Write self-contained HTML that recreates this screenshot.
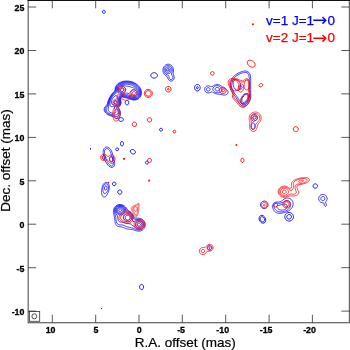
<!DOCTYPE html>
<html><head><meta charset="utf-8"><title>SiO maser contour map</title>
<style>
html,body{margin:0;padding:0;background:#fff;}
svg{display:block;font-family:"Liberation Sans",sans-serif;}
.tk text{font-size:9.2px;font-weight:bold;fill:#000;stroke:#000;stroke-width:0.3px;}
.ax{font-size:13.5px;fill:#000;stroke:#000;stroke-width:0.2px;}
.lg{font-size:13.5px;stroke-width:0.25px;}
.ar{font-family:"DejaVu Sans",sans-serif;font-size:18px;stroke-width:0;}
</style></head><body>
<svg width="350" height="350" viewBox="0 0 350 350">
<rect width="350" height="350" fill="#fff"/>
<g fill="none" stroke="#00f" stroke-width="0.75">
<path d="M166.93 64.38C167.22 64.3 167.52 64.24 167.82 64.21C168.11 64.19 168.42 64.19 168.71 64.23C169.01 64.26 169.31 64.32 169.59 64.41C169.88 64.5 170.16 64.61 170.42 64.75C170.69 64.89 170.94 65.06 171.18 65.24C171.41 65.42 171.64 65.62 171.84 65.84C172.05 66.06 172.24 66.3 172.4 66.54C172.57 66.79 172.72 67.05 172.85 67.32C172.98 67.59 173.09 67.87 173.19 68.16C173.28 68.44 173.35 68.74 173.4 69.03C173.45 69.32 173.49 69.62 173.5 69.92C173.52 70.22 173.51 70.52 173.49 70.82C173.47 71.12 173.43 71.42 173.38 71.71C173.34 72.01 173.28 72.3 173.24 72.6C173.2 72.9 173.15 73.2 173.16 73.5C173.17 73.79 173.22 74.09 173.29 74.38C173.36 74.67 173.49 74.95 173.6 75.23C173.7 75.51 173.82 75.78 173.91 76.07C174 76.36 174.07 76.65 174.12 76.94C174.16 77.24 174.18 77.54 174.17 77.84C174.15 78.14 174.11 78.44 174.03 78.73C173.94 79.01 173.83 79.3 173.68 79.55C173.53 79.81 173.35 80.06 173.14 80.27C172.92 80.47 172.67 80.66 172.41 80.79C172.15 80.93 171.85 81.02 171.56 81.07C171.27 81.11 170.95 81.11 170.66 81.05C170.37 81 170.08 80.89 169.82 80.76C169.56 80.62 169.31 80.43 169.09 80.23C168.88 80.03 168.69 79.79 168.52 79.54C168.35 79.3 168.21 79.02 168.08 78.76C167.95 78.49 167.85 78.2 167.73 77.93C167.61 77.65 167.51 77.36 167.36 77.11C167.2 76.86 167.01 76.62 166.8 76.41C166.59 76.2 166.33 76.04 166.09 75.85C165.85 75.67 165.6 75.51 165.37 75.32C165.14 75.13 164.91 74.93 164.7 74.72C164.49 74.5 164.29 74.27 164.12 74.03C163.94 73.79 163.78 73.53 163.64 73.27C163.51 73 163.38 72.73 163.28 72.45C163.18 72.17 163.1 71.87 163.04 71.58C162.98 71.29 162.94 70.99 162.92 70.69C162.89 70.39 162.89 70.09 162.91 69.79C162.93 69.49 162.96 69.19 163.02 68.9C163.08 68.61 163.16 68.32 163.26 68.03C163.35 67.75 163.47 67.47 163.61 67.21C163.74 66.94 163.9 66.68 164.07 66.44C164.25 66.19 164.44 65.96 164.65 65.75C164.86 65.53 165.08 65.34 165.33 65.16C165.57 64.98 165.83 64.82 166.09 64.69C166.36 64.56 166.65 64.45 166.93 64.38Z"/>
<path d="M124.82 81.12C125.11 81.09 125.41 81.06 125.71 81.04C126.01 81.02 126.31 81.01 126.61 81.01C126.91 81 127.21 81.01 127.51 81.02C127.81 81.04 128.11 81.06 128.41 81.09C128.7 81.12 129 81.15 129.3 81.19C129.6 81.24 129.89 81.29 130.18 81.35C130.48 81.41 130.77 81.47 131.06 81.55C131.35 81.62 131.64 81.7 131.93 81.79C132.21 81.88 132.5 81.98 132.78 82.09C133.06 82.19 133.34 82.3 133.61 82.42C133.88 82.54 134.16 82.67 134.42 82.8C134.69 82.94 134.95 83.08 135.21 83.23C135.47 83.38 135.73 83.54 135.98 83.71C136.23 83.87 136.47 84.04 136.71 84.22C136.95 84.4 137.19 84.59 137.42 84.78C137.64 84.98 137.87 85.18 138.08 85.39C138.3 85.6 138.51 85.81 138.71 86.03C138.91 86.25 139.11 86.48 139.29 86.72C139.48 86.95 139.66 87.19 139.82 87.44C139.99 87.69 140.15 87.94 140.3 88.2C140.44 88.47 140.58 88.73 140.7 89.01C140.82 89.28 140.94 89.56 141.03 89.84C141.13 90.12 141.21 90.41 141.28 90.71C141.35 91 141.4 91.29 141.43 91.59C141.47 91.89 141.49 92.19 141.5 92.49C141.5 92.79 141.49 93.09 141.46 93.39C141.43 93.68 141.38 93.98 141.32 94.27C141.25 94.57 141.17 94.86 141.08 95.14C140.98 95.42 140.87 95.7 140.74 95.97C140.61 96.24 140.46 96.5 140.3 96.76C140.14 97.01 139.96 97.25 139.77 97.48C139.58 97.71 139.37 97.93 139.15 98.14C138.93 98.34 138.7 98.53 138.46 98.71C138.22 98.88 137.96 99.05 137.7 99.19C137.44 99.33 137.17 99.46 136.89 99.57C136.61 99.68 136.32 99.77 136.03 99.85C135.74 99.92 135.45 99.98 135.15 100.02C134.86 100.06 134.55 100.07 134.25 100.07C133.96 100.07 133.65 100.06 133.36 100.02C133.06 99.98 132.77 99.92 132.47 99.85C132.18 99.78 131.9 99.7 131.61 99.6C131.33 99.51 131.05 99.4 130.77 99.29C130.49 99.18 130.22 99.05 129.94 98.94C129.66 98.83 129.39 98.71 129.1 98.61C128.82 98.52 128.53 98.43 128.24 98.36C127.95 98.28 127.66 98.23 127.36 98.17C127.07 98.11 126.77 98.06 126.48 98C126.19 97.94 125.89 97.89 125.6 97.82C125.31 97.76 125.01 97.69 124.72 97.62C124.43 97.54 124.14 97.47 123.85 97.39C123.56 97.32 123.27 97.23 122.98 97.17C122.69 97.1 122.38 96.98 122.1 97.01C121.82 97.03 121.5 97.13 121.29 97.32C121.08 97.5 120.97 97.82 120.86 98.1C120.75 98.37 120.67 98.67 120.63 98.97C120.58 99.26 120.57 99.57 120.6 99.86C120.62 100.16 120.71 100.45 120.78 100.74C120.84 101.03 120.93 101.32 120.98 101.62C121.02 101.91 121.06 102.21 121.06 102.51C121.06 102.81 121.04 103.11 121 103.41C120.95 103.7 120.88 104 120.78 104.28C120.68 104.56 120.56 104.84 120.41 105.1C120.27 105.36 120.1 105.61 119.92 105.85C119.74 106.09 119.53 106.31 119.34 106.54C119.15 106.77 118.88 106.98 118.78 107.24C118.68 107.5 118.67 107.82 118.73 108.1C118.79 108.37 119.02 108.62 119.17 108.88C119.31 109.14 119.48 109.39 119.62 109.65C119.77 109.92 119.9 110.19 120.01 110.46C120.13 110.74 120.22 111.03 120.3 111.31C120.38 111.6 120.45 111.9 120.49 112.19C120.54 112.49 120.56 112.79 120.57 113.09C120.58 113.39 120.58 113.69 120.56 113.99C120.54 114.29 120.5 114.58 120.44 114.88C120.38 115.17 120.31 115.46 120.2 115.74C120.1 116.03 119.98 116.31 119.84 116.56C119.69 116.82 119.52 117.08 119.32 117.3C119.13 117.52 118.9 117.73 118.66 117.9C118.41 118.07 118.14 118.22 117.86 118.32C117.59 118.42 117.28 118.48 116.99 118.5C116.69 118.52 116.38 118.5 116.09 118.43C115.8 118.37 115.52 118.26 115.25 118.13C114.98 118.01 114.73 117.84 114.48 117.68C114.22 117.52 113.99 117.33 113.73 117.17C113.48 117.01 113.22 116.85 112.96 116.71C112.69 116.58 112.42 116.46 112.14 116.34C111.86 116.23 111.58 116.13 111.3 116.03C111.02 115.93 110.73 115.84 110.45 115.74C110.17 115.64 109.88 115.54 109.61 115.42C109.33 115.31 109.05 115.2 108.78 115.07C108.51 114.94 108.24 114.81 107.98 114.66C107.72 114.52 107.46 114.36 107.21 114.19C106.97 114.02 106.72 113.84 106.49 113.65C106.26 113.46 106.04 113.26 105.84 113.04C105.63 112.83 105.43 112.6 105.25 112.36C105.07 112.12 104.9 111.87 104.76 111.61C104.62 111.34 104.49 111.07 104.39 110.79C104.3 110.5 104.22 110.21 104.18 109.92C104.13 109.62 104.12 109.32 104.14 109.02C104.16 108.72 104.22 108.42 104.3 108.14C104.39 107.85 104.52 107.58 104.67 107.32C104.81 107.06 105 106.82 105.19 106.59C105.38 106.36 105.61 106.16 105.83 105.96C106.04 105.75 106.29 105.57 106.49 105.35C106.69 105.13 106.89 104.9 107.05 104.64C107.2 104.39 107.31 104.1 107.41 103.82C107.51 103.54 107.57 103.25 107.65 102.96C107.73 102.67 107.79 102.38 107.87 102.09C107.95 101.8 108.03 101.51 108.12 101.22C108.21 100.94 108.3 100.65 108.4 100.37C108.5 100.09 108.61 99.81 108.72 99.53C108.83 99.25 108.95 98.98 109.08 98.7C109.2 98.43 109.32 98.16 109.46 97.89C109.59 97.62 109.74 97.36 109.88 97.1C110.03 96.84 110.17 96.57 110.33 96.32C110.48 96.06 110.64 95.8 110.8 95.55C110.96 95.3 111.13 95.05 111.3 94.81C111.48 94.56 111.66 94.32 111.84 94.09C112.02 93.85 112.21 93.61 112.4 93.39C112.59 93.16 112.79 92.93 112.99 92.71C113.19 92.48 113.4 92.27 113.6 92.05C113.81 91.83 114.03 91.62 114.21 91.39C114.4 91.15 114.59 90.92 114.73 90.65C114.86 90.39 114.94 90.09 115.01 89.8C115.08 89.51 115.1 89.21 115.14 88.91C115.19 88.62 115.22 88.32 115.28 88.03C115.35 87.73 115.42 87.44 115.52 87.16C115.62 86.88 115.74 86.6 115.87 86.33C116 86.06 116.15 85.8 116.31 85.55C116.47 85.3 116.66 85.06 116.85 84.83C117.04 84.6 117.25 84.38 117.47 84.18C117.68 83.97 117.92 83.78 118.15 83.6C118.39 83.41 118.64 83.24 118.89 83.08C119.14 82.92 119.41 82.78 119.67 82.64C119.94 82.5 120.21 82.37 120.48 82.25C120.76 82.13 121.04 82.03 121.32 81.93C121.6 81.83 121.89 81.74 122.18 81.65C122.46 81.57 122.75 81.49 123.05 81.42C123.34 81.36 123.63 81.3 123.93 81.25C124.22 81.2 124.52 81.16 124.82 81.12Z"/>
<path d="M216.22 84.62C216.52 84.58 216.82 84.54 217.12 84.54C217.42 84.53 217.72 84.56 218.02 84.59C218.32 84.63 218.61 84.69 218.9 84.77C219.19 84.85 219.48 84.96 219.75 85.07C220.03 85.19 220.3 85.33 220.56 85.48C220.82 85.63 221.07 85.79 221.31 85.97C221.56 86.14 221.79 86.33 222.02 86.52C222.26 86.71 222.48 86.91 222.71 87.1C222.94 87.3 223.17 87.5 223.41 87.68C223.65 87.86 223.89 88.03 224.15 88.19C224.4 88.34 224.68 88.48 224.94 88.61C225.21 88.75 225.49 88.86 225.76 89C226.02 89.14 226.29 89.28 226.54 89.44C226.79 89.61 227.03 89.8 227.24 90.01C227.44 90.23 227.64 90.47 227.77 90.73C227.91 90.99 228.02 91.29 228.07 91.58C228.12 91.87 228.11 92.19 228.06 92.48C228 92.76 227.88 93.06 227.74 93.31C227.59 93.57 227.39 93.81 227.17 94.01C226.96 94.22 226.7 94.39 226.44 94.53C226.18 94.68 225.89 94.79 225.61 94.87C225.32 94.95 225.02 95 224.72 95.03C224.42 95.05 224.12 95.04 223.82 95.02C223.52 95 223.22 94.95 222.93 94.89C222.63 94.83 222.34 94.76 222.05 94.69C221.76 94.62 221.47 94.55 221.17 94.5C220.87 94.44 220.58 94.4 220.28 94.36C219.98 94.33 219.68 94.31 219.38 94.29C219.08 94.26 218.78 94.25 218.48 94.22C218.18 94.19 217.88 94.16 217.59 94.12C217.29 94.08 216.99 94.03 216.7 93.96C216.41 93.9 216.11 93.82 215.83 93.73C215.54 93.64 215.26 93.53 214.99 93.41C214.71 93.29 214.44 93.15 214.18 93.01C213.91 92.87 213.66 92.71 213.39 92.56C213.13 92.42 212.87 92.25 212.59 92.15C212.31 92.05 212.01 91.97 211.72 91.98C211.43 91.99 211.13 92.1 210.85 92.19C210.56 92.28 210.29 92.43 210.01 92.53C209.73 92.63 209.45 92.74 209.15 92.8C208.86 92.87 208.56 92.91 208.26 92.92C207.96 92.92 207.66 92.9 207.37 92.83C207.08 92.76 206.79 92.66 206.52 92.52C206.26 92.39 206 92.21 205.78 92.02C205.56 91.82 205.35 91.59 205.19 91.34C205.02 91.09 204.89 90.82 204.79 90.54C204.69 90.25 204.63 89.95 204.61 89.65C204.59 89.36 204.61 89.05 204.66 88.76C204.72 88.47 204.81 88.17 204.94 87.9C205.06 87.63 205.23 87.37 205.42 87.15C205.61 86.92 205.84 86.71 206.08 86.54C206.33 86.37 206.6 86.22 206.88 86.11C207.15 86.01 207.45 85.94 207.75 85.9C208.05 85.87 208.35 85.87 208.65 85.9C208.95 85.93 209.24 86 209.53 86.07C209.82 86.15 210.1 86.27 210.39 86.35C210.68 86.43 210.97 86.55 211.26 86.57C211.55 86.59 211.87 86.56 212.15 86.47C212.43 86.39 212.69 86.21 212.95 86.07C213.21 85.92 213.46 85.75 213.72 85.6C213.98 85.45 214.24 85.3 214.51 85.17C214.78 85.04 215.06 84.93 215.35 84.83C215.63 84.74 215.93 84.67 216.22 84.62Z"/>
<path d="M253.24 114.62C253.52 114.51 253.83 114.43 254.13 114.41C254.43 114.38 254.75 114.4 255.04 114.46C255.34 114.53 255.63 114.64 255.89 114.79C256.16 114.94 256.4 115.14 256.61 115.36C256.81 115.59 256.99 115.85 257.12 116.12C257.25 116.39 257.34 116.7 257.38 117C257.42 117.3 257.42 117.62 257.37 117.91C257.33 118.21 257.23 118.51 257.1 118.79C256.97 119.06 256.8 119.32 256.61 119.56C256.42 119.79 256.19 120.01 255.95 120.2C255.72 120.39 255.46 120.56 255.2 120.72C254.93 120.87 254.66 121.03 254.37 121.12C254.09 121.22 253.76 121.34 253.49 121.29C253.21 121.24 252.95 121.01 252.72 120.81C252.5 120.61 252.32 120.35 252.15 120.09C251.99 119.84 251.83 119.57 251.71 119.29C251.59 119.01 251.48 118.72 251.42 118.42C251.35 118.13 251.32 117.81 251.32 117.51C251.33 117.21 251.37 116.9 251.46 116.61C251.55 116.32 251.68 116.03 251.85 115.78C252.02 115.53 252.23 115.29 252.46 115.1C252.69 114.9 252.96 114.74 253.24 114.62Z"/>
<path d="M252.55 122.88C252.8 122.77 253.15 122.71 253.4 122.8C253.65 122.89 253.85 123.19 254.03 123.43C254.21 123.66 254.35 123.94 254.47 124.21C254.59 124.48 254.68 124.77 254.75 125.06C254.82 125.35 254.87 125.65 254.89 125.95C254.91 126.25 254.9 126.55 254.87 126.85C254.84 127.14 254.78 127.44 254.69 127.73C254.6 128.01 254.48 128.3 254.32 128.55C254.16 128.79 253.96 129.05 253.72 129.21C253.48 129.37 253.17 129.5 252.89 129.5C252.61 129.5 252.29 129.36 252.06 129.2C251.82 129.03 251.63 128.77 251.47 128.53C251.31 128.28 251.2 127.99 251.11 127.71C251.02 127.42 250.96 127.12 250.93 126.83C250.9 126.53 250.89 126.23 250.91 125.93C250.94 125.63 250.98 125.33 251.06 125.04C251.14 124.75 251.24 124.46 251.37 124.2C251.51 123.93 251.67 123.67 251.86 123.45C252.06 123.23 252.29 122.98 252.55 122.88Z"/>
<path d="M105.19 182.62C105.46 182.51 105.77 182.43 106.06 182.41C106.35 182.4 106.67 182.44 106.95 182.53C107.22 182.63 107.49 182.79 107.72 182.98C107.96 183.16 108.16 183.39 108.34 183.63C108.51 183.87 108.65 184.14 108.78 184.42C108.9 184.69 108.99 184.98 109.07 185.27C109.15 185.56 109.21 185.85 109.25 186.15C109.29 186.45 109.31 186.75 109.31 187.05C109.32 187.35 109.31 187.65 109.29 187.95C109.27 188.25 109.23 188.55 109.18 188.84C109.13 189.14 109.07 189.43 109 189.72C108.93 190.02 108.85 190.31 108.76 190.59C108.67 190.88 108.57 191.16 108.47 191.45C108.37 191.73 108.25 192.01 108.14 192.29C108.03 192.56 107.91 192.84 107.79 193.12C107.68 193.39 107.56 193.67 107.43 193.94C107.3 194.21 107.18 194.49 107.04 194.75C106.9 195.02 106.76 195.29 106.6 195.54C106.43 195.79 106.26 196.04 106.05 196.25C105.85 196.47 105.62 196.68 105.36 196.82C105.1 196.96 104.8 197.08 104.51 197.1C104.22 197.13 103.9 197.08 103.63 196.97C103.36 196.87 103.1 196.68 102.88 196.48C102.67 196.27 102.49 196.02 102.34 195.76C102.18 195.51 102.07 195.23 101.97 194.94C101.87 194.66 101.8 194.37 101.74 194.07C101.68 193.78 101.65 193.48 101.62 193.18C101.6 192.88 101.59 192.58 101.59 192.28C101.58 191.98 101.59 191.68 101.6 191.38C101.61 191.08 101.63 190.78 101.65 190.48C101.67 190.18 101.69 189.88 101.72 189.58C101.76 189.28 101.79 188.98 101.84 188.69C101.88 188.39 101.93 188.09 101.99 187.8C102.05 187.51 102.12 187.21 102.2 186.92C102.28 186.63 102.37 186.35 102.47 186.06C102.57 185.78 102.69 185.5 102.82 185.23C102.94 184.96 103.09 184.7 103.25 184.44C103.41 184.19 103.58 183.94 103.78 183.72C103.97 183.49 104.19 183.27 104.42 183.09C104.66 182.91 104.92 182.74 105.19 182.62Z"/>
<path d="M321.55 194.62C321.83 194.53 322.14 194.46 322.43 194.43C322.73 194.39 323.04 194.39 323.34 194.42C323.64 194.46 323.95 194.52 324.23 194.62C324.52 194.71 324.8 194.84 325.06 195C325.31 195.15 325.56 195.34 325.78 195.55C326 195.75 326.2 195.99 326.37 196.24C326.54 196.49 326.69 196.76 326.8 197.04C326.91 197.32 326.99 197.62 327.04 197.91C327.09 198.21 327.11 198.52 327.09 198.82C327.08 199.12 327.03 199.43 326.95 199.72C326.87 200.01 326.75 200.29 326.62 200.57C326.49 200.84 326.31 201.09 326.15 201.34C325.99 201.6 325.75 201.84 325.65 202.11C325.56 202.38 325.5 202.69 325.57 202.97C325.64 203.24 325.93 203.46 326.06 203.73C326.2 204 326.33 204.29 326.38 204.58C326.42 204.87 326.42 205.21 326.33 205.48C326.24 205.75 326.05 206.09 325.83 206.21C325.6 206.34 325.21 206.35 324.97 206.24C324.73 206.13 324.52 205.82 324.39 205.56C324.26 205.3 324.23 204.98 324.2 204.68C324.17 204.38 324.28 204.04 324.21 203.77C324.15 203.5 324.02 203.19 323.8 203.04C323.59 202.89 323.21 202.91 322.91 202.86C322.62 202.8 322.31 202.78 322.02 202.71C321.72 202.64 321.43 202.55 321.15 202.42C320.88 202.29 320.61 202.14 320.37 201.96C320.13 201.77 319.91 201.56 319.71 201.33C319.52 201.1 319.34 200.85 319.2 200.58C319.06 200.32 318.94 200.03 318.86 199.74C318.78 199.45 318.72 199.14 318.71 198.84C318.69 198.54 318.7 198.23 318.75 197.94C318.8 197.64 318.88 197.34 318.99 197.06C319.1 196.78 319.25 196.51 319.42 196.26C319.59 196.01 319.79 195.77 320 195.56C320.22 195.35 320.47 195.17 320.72 195.01C320.98 194.85 321.26 194.72 321.55 194.62Z"/>
<path d="M286.28 198.12C286.57 198.06 286.87 198.02 287.17 198C287.47 197.98 287.77 197.99 288.07 198.02C288.37 198.05 288.67 198.11 288.95 198.19C289.24 198.27 289.53 198.37 289.8 198.5C290.07 198.62 290.34 198.77 290.59 198.94C290.83 199.11 291.07 199.3 291.29 199.5C291.51 199.71 291.71 199.94 291.89 200.17C292.07 200.41 292.24 200.67 292.38 200.93C292.52 201.19 292.64 201.47 292.74 201.75C292.84 202.04 292.92 202.33 292.98 202.62C293.03 202.92 293.07 203.22 293.08 203.52C293.09 203.82 293.08 204.12 293.05 204.42C293.03 204.72 292.98 205.02 292.91 205.31C292.85 205.6 292.76 205.89 292.66 206.18C292.56 206.46 292.44 206.74 292.31 207.01C292.18 207.28 292.03 207.54 291.87 207.79C291.71 208.05 291.53 208.29 291.35 208.53C291.16 208.76 290.96 208.99 290.75 209.2C290.54 209.42 290.32 209.62 290.09 209.82C289.86 210.01 289.62 210.19 289.37 210.37C289.13 210.54 288.87 210.7 288.62 210.86C288.36 211.01 288.09 211.15 287.82 211.29C287.56 211.42 287.28 211.55 287.01 211.67C286.73 211.79 286.45 211.9 286.17 212C285.89 212.11 285.6 212.2 285.32 212.3C285.03 212.39 284.74 212.47 284.45 212.55C284.16 212.64 283.87 212.71 283.58 212.78C283.29 212.85 282.99 212.92 282.7 212.98C282.4 213.03 282.11 213.09 281.81 213.13C281.51 213.18 281.21 213.22 280.92 213.25C280.62 213.28 280.32 213.3 280.02 213.31C279.72 213.32 279.41 213.32 279.11 213.3C278.81 213.28 278.51 213.26 278.22 213.21C277.92 213.16 277.62 213.1 277.34 213.02C277.05 212.94 276.76 212.84 276.48 212.73C276.21 212.61 275.94 212.47 275.68 212.31C275.43 212.16 275.18 211.98 274.95 211.78C274.73 211.59 274.51 211.37 274.32 211.15C274.12 210.92 273.95 210.67 273.79 210.41C273.63 210.16 273.5 209.89 273.37 209.62C273.25 209.34 273.14 209.06 273.05 208.78C272.95 208.49 272.87 208.2 272.8 207.91C272.74 207.61 272.69 207.32 272.65 207.02C272.62 206.72 272.6 206.42 272.61 206.12C272.62 205.82 272.65 205.52 272.71 205.22C272.78 204.93 272.86 204.64 272.98 204.36C273.1 204.09 273.26 203.82 273.44 203.59C273.62 203.35 273.83 203.13 274.06 202.94C274.29 202.75 274.55 202.58 274.82 202.45C275.09 202.32 275.38 202.23 275.67 202.16C275.96 202.09 276.26 202.06 276.56 202.04C276.86 202.02 277.16 202.03 277.46 202.03C277.76 202.04 278.06 202.07 278.36 202.06C278.66 202.06 278.97 202.05 279.26 202C279.56 201.96 279.85 201.89 280.14 201.79C280.42 201.69 280.7 201.56 280.96 201.42C281.22 201.28 281.48 201.11 281.72 200.94C281.97 200.77 282.2 200.58 282.44 200.39C282.67 200.2 282.89 200 283.13 199.81C283.36 199.62 283.59 199.43 283.84 199.26C284.08 199.08 284.34 198.91 284.6 198.77C284.86 198.62 285.13 198.49 285.41 198.38C285.69 198.28 285.98 198.19 286.28 198.12Z"/>
<path d="M118.82 204.62C119.12 204.57 119.41 204.53 119.71 204.51C120.01 204.49 120.31 204.5 120.61 204.52C120.9 204.55 121.2 204.6 121.49 204.66C121.78 204.72 122.07 204.8 122.36 204.9C122.64 205 122.92 205.11 123.18 205.25C123.45 205.38 123.71 205.53 123.96 205.7C124.21 205.86 124.45 206.04 124.68 206.23C124.91 206.42 125.12 206.63 125.33 206.84C125.54 207.06 125.74 207.28 125.93 207.51C126.12 207.74 126.3 207.98 126.48 208.22C126.66 208.46 126.83 208.7 127.01 208.94C127.19 209.18 127.37 209.42 127.55 209.65C127.74 209.89 127.93 210.12 128.14 210.33C128.35 210.55 128.57 210.75 128.8 210.94C129.03 211.13 129.27 211.31 129.51 211.49C129.75 211.67 130 211.83 130.24 212.01C130.48 212.19 130.72 212.36 130.96 212.55C131.19 212.74 131.42 212.93 131.63 213.14C131.85 213.34 132.06 213.56 132.25 213.79C132.44 214.01 132.62 214.25 132.79 214.5C132.96 214.75 133.11 215 133.26 215.26C133.41 215.52 133.53 215.8 133.67 216.06C133.8 216.33 133.92 216.61 134.08 216.86C134.24 217.11 134.4 217.38 134.62 217.57C134.84 217.76 135.13 217.89 135.41 217.98C135.69 218.08 135.99 218.1 136.29 218.13C136.59 218.16 136.89 218.16 137.19 218.18C137.49 218.19 137.78 218.19 138.08 218.21C138.38 218.23 138.68 218.25 138.98 218.28C139.27 218.32 139.57 218.36 139.86 218.42C140.15 218.48 140.45 218.56 140.73 218.65C141.01 218.74 141.29 218.85 141.56 218.98C141.83 219.1 142.1 219.25 142.35 219.41C142.6 219.57 142.84 219.75 143.07 219.94C143.3 220.14 143.51 220.35 143.71 220.57C143.91 220.79 144.09 221.03 144.25 221.28C144.42 221.53 144.57 221.79 144.69 222.06C144.82 222.33 144.93 222.61 145.02 222.9C145.11 223.18 145.18 223.48 145.22 223.77C145.27 224.06 145.3 224.36 145.3 224.66C145.31 224.96 145.29 225.26 145.26 225.56C145.22 225.85 145.16 226.15 145.08 226.44C145 226.72 144.9 227.01 144.78 227.28C144.66 227.55 144.52 227.82 144.37 228.08C144.21 228.33 144.04 228.57 143.85 228.8C143.65 229.03 143.45 229.25 143.22 229.45C143 229.65 142.77 229.84 142.52 230C142.27 230.17 142.01 230.32 141.74 230.45C141.48 230.58 141.2 230.7 140.91 230.79C140.63 230.88 140.34 230.96 140.05 231.01C139.75 231.07 139.45 231.1 139.16 231.11C138.86 231.13 138.56 231.12 138.26 231.1C137.96 231.09 137.66 231.05 137.37 231C137.07 230.95 136.78 230.88 136.49 230.81C136.2 230.73 135.92 230.65 135.63 230.56C135.35 230.47 135.06 230.38 134.78 230.29C134.49 230.2 134.21 230.1 133.92 230.02C133.63 229.94 133.35 229.86 133.06 229.78C132.77 229.71 132.47 229.65 132.18 229.59C131.89 229.53 131.59 229.48 131.3 229.44C131 229.39 130.7 229.36 130.41 229.32C130.11 229.29 129.81 229.26 129.52 229.23C129.22 229.2 128.92 229.17 128.62 229.13C128.33 229.1 128.03 229.06 127.73 229.02C127.44 228.97 127.15 228.91 126.85 228.84C126.56 228.77 126.28 228.69 125.99 228.6C125.71 228.51 125.43 228.4 125.15 228.29C124.87 228.18 124.61 228.04 124.33 227.92C124.06 227.79 123.8 227.66 123.52 227.54C123.25 227.42 122.97 227.3 122.69 227.2C122.41 227.11 122.12 227.03 121.82 226.98C121.53 226.92 121.23 226.9 120.93 226.87C120.64 226.84 120.34 226.84 120.04 226.81C119.74 226.78 119.44 226.76 119.15 226.71C118.85 226.66 118.56 226.59 118.28 226.49C118 226.4 117.72 226.27 117.46 226.13C117.21 225.98 116.96 225.8 116.74 225.6C116.51 225.4 116.31 225.18 116.13 224.94C115.95 224.71 115.79 224.45 115.65 224.19C115.51 223.92 115.4 223.64 115.3 223.36C115.2 223.08 115.13 222.79 115.07 222.5C115 222.2 114.96 221.91 114.92 221.61C114.88 221.32 114.86 221.02 114.83 220.72C114.8 220.42 114.78 220.12 114.76 219.83C114.73 219.53 114.71 219.23 114.67 218.93C114.64 218.64 114.6 218.34 114.55 218.04C114.51 217.75 114.45 217.45 114.4 217.16C114.34 216.87 114.28 216.58 114.21 216.28C114.15 215.99 114.09 215.7 114.02 215.41C113.96 215.11 113.9 214.82 113.85 214.53C113.79 214.23 113.73 213.94 113.69 213.64C113.64 213.35 113.6 213.05 113.57 212.76C113.54 212.46 113.51 212.16 113.5 211.86C113.49 211.56 113.48 211.26 113.5 210.97C113.52 210.67 113.55 210.37 113.6 210.07C113.65 209.78 113.71 209.49 113.79 209.2C113.87 208.91 113.97 208.63 114.09 208.36C114.21 208.08 114.35 207.82 114.51 207.56C114.66 207.31 114.84 207.06 115.02 206.83C115.21 206.6 115.42 206.38 115.64 206.18C115.86 205.98 116.1 205.8 116.35 205.63C116.6 205.46 116.86 205.31 117.12 205.18C117.39 205.05 117.67 204.94 117.95 204.84C118.24 204.75 118.53 204.68 118.82 204.62Z"/>
<path d="M208.96 245.88C209.23 245.8 209.54 245.78 209.83 245.83C210.11 245.87 210.4 245.98 210.64 246.14C210.88 246.29 211.1 246.52 211.26 246.76C211.41 247 211.53 247.29 211.57 247.57C211.62 247.85 211.6 248.17 211.53 248.44C211.45 248.72 211.31 249 211.13 249.22C210.95 249.44 210.71 249.64 210.45 249.77C210.2 249.9 209.9 249.98 209.61 250C209.33 250.01 209.02 249.96 208.75 249.86C208.49 249.76 208.22 249.59 208.02 249.39C207.82 249.19 207.64 248.92 207.54 248.65C207.44 248.39 207.39 248.08 207.41 247.79C207.42 247.51 207.5 247.2 207.63 246.95C207.76 246.7 207.96 246.45 208.18 246.27C208.4 246.09 208.68 245.95 208.96 245.88Z"/>
<path d="M167.39 65.62C167.68 65.56 167.98 65.53 168.28 65.53C168.57 65.54 168.88 65.58 169.16 65.66C169.45 65.74 169.73 65.86 169.99 66C170.25 66.14 170.5 66.32 170.72 66.51C170.95 66.71 171.15 66.93 171.33 67.16C171.51 67.4 171.67 67.66 171.8 67.93C171.93 68.19 172.04 68.48 172.12 68.76C172.2 69.05 172.26 69.34 172.3 69.64C172.33 69.94 172.34 70.24 172.32 70.53C172.31 70.83 172.27 71.13 172.21 71.42C172.16 71.72 172.07 72 171.99 72.29C171.9 72.58 171.79 72.85 171.7 73.14C171.62 73.43 171.49 73.72 171.47 74C171.45 74.29 171.49 74.61 171.6 74.88C171.7 75.14 171.94 75.36 172.11 75.61C172.28 75.86 172.47 76.09 172.6 76.36C172.72 76.63 172.84 76.91 172.89 77.2C172.94 77.49 172.95 77.81 172.9 78.1C172.84 78.38 172.73 78.68 172.57 78.92C172.41 79.16 172.17 79.39 171.92 79.53C171.67 79.66 171.34 79.74 171.06 79.72C170.78 79.71 170.47 79.59 170.22 79.44C169.98 79.29 169.76 79.05 169.59 78.81C169.43 78.57 169.32 78.28 169.23 78C169.13 77.72 169.1 77.42 169.05 77.12C169 76.83 169.02 76.51 168.91 76.24C168.81 75.97 168.63 75.71 168.42 75.51C168.21 75.32 167.9 75.22 167.64 75.08C167.37 74.94 167.09 74.84 166.83 74.69C166.57 74.55 166.31 74.4 166.07 74.22C165.83 74.05 165.6 73.85 165.4 73.63C165.19 73.41 165.01 73.17 164.85 72.92C164.69 72.67 164.55 72.4 164.44 72.13C164.33 71.85 164.25 71.56 164.19 71.27C164.13 70.98 164.09 70.68 164.08 70.38C164.07 70.08 164.09 69.78 164.13 69.49C164.17 69.19 164.23 68.9 164.32 68.61C164.41 68.33 164.53 68.05 164.67 67.79C164.81 67.53 164.98 67.27 165.16 67.04C165.35 66.81 165.57 66.6 165.8 66.41C166.03 66.22 166.28 66.06 166.55 65.93C166.81 65.79 167.1 65.69 167.39 65.62Z"/>
<path d="M125.8 81.62C126.1 81.61 126.4 81.59 126.7 81.59C127 81.59 127.3 81.59 127.6 81.61C127.9 81.62 128.2 81.64 128.5 81.67C128.8 81.7 129.1 81.74 129.4 81.79C129.69 81.83 129.99 81.89 130.28 81.95C130.58 82.02 130.87 82.09 131.16 82.17C131.45 82.25 131.74 82.34 132.02 82.44C132.31 82.53 132.59 82.63 132.87 82.75C133.15 82.86 133.42 82.98 133.69 83.11C133.97 83.24 134.23 83.38 134.5 83.53C134.76 83.67 135.02 83.82 135.27 83.99C135.53 84.15 135.78 84.32 136.02 84.49C136.26 84.67 136.5 84.85 136.74 85.04C136.97 85.23 137.2 85.43 137.42 85.63C137.64 85.84 137.86 86.05 138.06 86.27C138.27 86.48 138.47 86.71 138.67 86.94C138.86 87.17 139.05 87.4 139.22 87.65C139.4 87.89 139.57 88.14 139.72 88.4C139.87 88.66 140.01 88.93 140.14 89.2C140.27 89.47 140.39 89.75 140.49 90.03C140.59 90.31 140.68 90.6 140.74 90.9C140.81 91.19 140.86 91.49 140.89 91.79C140.93 92.09 140.95 92.39 140.95 92.69C140.95 92.99 140.92 93.29 140.88 93.59C140.84 93.88 140.79 94.18 140.72 94.47C140.64 94.76 140.55 95.05 140.43 95.33C140.32 95.61 140.19 95.88 140.04 96.14C139.9 96.4 139.73 96.66 139.55 96.9C139.37 97.14 139.17 97.36 138.95 97.58C138.74 97.79 138.52 97.99 138.28 98.17C138.04 98.36 137.79 98.52 137.53 98.67C137.26 98.82 136.99 98.95 136.71 99.06C136.43 99.17 136.15 99.27 135.85 99.34C135.56 99.41 135.27 99.47 134.97 99.5C134.67 99.53 134.37 99.54 134.07 99.54C133.77 99.53 133.46 99.5 133.17 99.45C132.87 99.41 132.57 99.34 132.28 99.26C131.99 99.19 131.71 99.09 131.43 98.98C131.15 98.88 130.87 98.75 130.59 98.64C130.32 98.52 130.04 98.4 129.76 98.29C129.48 98.18 129.2 98.07 128.91 97.97C128.63 97.88 128.34 97.81 128.05 97.74C127.75 97.66 127.46 97.61 127.16 97.55C126.87 97.49 126.57 97.43 126.28 97.37C125.98 97.32 125.69 97.26 125.39 97.19C125.1 97.13 124.81 97.06 124.51 96.99C124.22 96.92 123.93 96.84 123.64 96.77C123.34 96.7 123.05 96.62 122.76 96.56C122.46 96.51 122.15 96.41 121.86 96.44C121.58 96.48 121.27 96.59 121.06 96.78C120.85 96.97 120.74 97.29 120.62 97.56C120.5 97.84 120.42 98.13 120.35 98.42C120.28 98.72 120.21 99.01 120.19 99.31C120.17 99.61 120.19 99.91 120.23 100.21C120.26 100.51 120.35 100.8 120.41 101.1C120.46 101.39 120.54 101.68 120.57 101.98C120.6 102.28 120.61 102.59 120.59 102.88C120.57 103.18 120.53 103.49 120.45 103.77C120.38 104.06 120.27 104.35 120.14 104.62C120.01 104.89 119.86 105.15 119.68 105.4C119.51 105.64 119.3 105.87 119.1 106.08C118.89 106.3 118.65 106.48 118.43 106.69C118.22 106.9 117.92 107.09 117.82 107.35C117.71 107.6 117.75 107.94 117.83 108.21C117.9 108.48 118.13 108.73 118.28 108.99C118.43 109.25 118.6 109.5 118.74 109.76C118.88 110.03 119.01 110.31 119.11 110.59C119.21 110.87 119.3 111.16 119.36 111.45C119.42 111.75 119.46 112.05 119.48 112.35C119.49 112.65 119.49 112.95 119.46 113.25C119.43 113.55 119.38 113.85 119.3 114.14C119.22 114.43 119.12 114.72 118.99 114.99C118.86 115.25 118.71 115.52 118.52 115.75C118.33 115.98 118.11 116.21 117.87 116.37C117.62 116.53 117.32 116.65 117.04 116.71C116.75 116.77 116.43 116.77 116.14 116.74C115.84 116.72 115.55 116.62 115.26 116.54C114.97 116.46 114.69 116.36 114.4 116.26C114.12 116.17 113.83 116.07 113.54 115.98C113.26 115.89 112.97 115.8 112.68 115.72C112.39 115.63 112.1 115.56 111.81 115.47C111.52 115.39 111.23 115.31 110.95 115.22C110.66 115.13 110.37 115.03 110.09 114.93C109.81 114.83 109.53 114.71 109.25 114.59C108.98 114.47 108.71 114.33 108.45 114.19C108.18 114.04 107.93 113.88 107.68 113.71C107.43 113.54 107.19 113.36 106.96 113.16C106.74 112.96 106.52 112.75 106.32 112.53C106.12 112.3 105.94 112.06 105.77 111.81C105.61 111.56 105.46 111.29 105.35 111.02C105.23 110.74 105.13 110.45 105.07 110.16C105.02 109.87 104.99 109.56 105 109.26C105.01 108.97 105.07 108.66 105.15 108.38C105.24 108.09 105.37 107.81 105.52 107.55C105.67 107.3 105.86 107.06 106.05 106.83C106.24 106.59 106.47 106.39 106.66 106.16C106.86 105.93 107.06 105.71 107.22 105.46C107.39 105.2 107.52 104.93 107.64 104.65C107.75 104.38 107.82 104.08 107.89 103.79C107.96 103.5 108.02 103.2 108.08 102.91C108.15 102.61 108.21 102.32 108.28 102.03C108.36 101.73 108.44 101.44 108.53 101.16C108.61 100.87 108.71 100.58 108.81 100.3C108.92 100.02 109.03 99.74 109.14 99.46C109.25 99.18 109.37 98.9 109.49 98.63C109.62 98.36 109.76 98.09 109.9 97.82C110.03 97.55 110.17 97.29 110.32 97.03C110.47 96.76 110.62 96.5 110.78 96.25C110.94 95.99 111.1 95.74 111.27 95.49C111.44 95.24 111.61 95 111.79 94.75C111.97 94.51 112.15 94.27 112.34 94.04C112.53 93.81 112.73 93.58 112.93 93.35C113.13 93.13 113.34 92.91 113.55 92.69C113.76 92.48 113.97 92.27 114.18 92.05C114.39 91.84 114.62 91.63 114.8 91.4C114.99 91.16 115.17 90.91 115.29 90.64C115.42 90.37 115.47 90.07 115.54 89.78C115.6 89.49 115.62 89.18 115.67 88.89C115.72 88.59 115.77 88.29 115.85 88C115.92 87.71 116.01 87.42 116.12 87.14C116.23 86.86 116.36 86.59 116.5 86.32C116.65 86.06 116.82 85.81 116.99 85.57C117.17 85.33 117.37 85.1 117.58 84.88C117.79 84.66 118.01 84.46 118.24 84.27C118.47 84.08 118.72 83.9 118.97 83.73C119.22 83.57 119.48 83.41 119.74 83.27C120.01 83.13 120.28 83 120.55 82.88C120.83 82.75 121.11 82.64 121.39 82.54C121.67 82.43 121.96 82.34 122.25 82.26C122.54 82.17 122.83 82.09 123.12 82.02C123.41 81.95 123.71 81.89 124 81.84C124.3 81.79 124.6 81.74 124.9 81.7C125.19 81.67 125.5 81.64 125.8 81.62Z"/>
<path d="M215.78 85.88C216.06 85.78 216.36 85.72 216.65 85.68C216.94 85.65 217.24 85.64 217.54 85.66C217.83 85.68 218.13 85.73 218.41 85.81C218.69 85.88 218.98 85.99 219.24 86.11C219.51 86.24 219.76 86.4 220 86.57C220.24 86.74 220.47 86.94 220.67 87.15C220.88 87.36 221.07 87.59 221.24 87.83C221.41 88.07 221.56 88.33 221.68 88.6C221.8 88.87 221.91 89.15 221.97 89.44C222.03 89.72 222.08 90.03 222.05 90.32C222.02 90.6 221.93 90.91 221.79 91.16C221.64 91.41 221.42 91.63 221.2 91.81C220.97 92 220.7 92.14 220.44 92.27C220.18 92.4 219.89 92.51 219.61 92.59C219.33 92.67 219.04 92.73 218.74 92.78C218.45 92.82 218.16 92.84 217.86 92.84C217.57 92.84 217.27 92.82 216.98 92.78C216.68 92.74 216.39 92.67 216.11 92.59C215.83 92.5 215.55 92.39 215.29 92.25C215.03 92.12 214.77 91.97 214.53 91.79C214.29 91.62 214.06 91.43 213.85 91.22C213.65 91.01 213.44 90.79 213.28 90.55C213.11 90.31 212.94 90.04 212.86 89.77C212.77 89.49 212.73 89.18 212.77 88.9C212.81 88.62 212.96 88.33 213.1 88.08C213.23 87.82 213.42 87.58 213.61 87.35C213.8 87.13 214.02 86.92 214.24 86.73C214.47 86.55 214.72 86.37 214.97 86.23C215.23 86.09 215.51 85.97 215.78 85.88Z"/>
<path d="M207.35 87.88C207.6 87.74 207.91 87.68 208.19 87.67C208.48 87.67 208.78 87.74 209.04 87.85C209.31 87.96 209.57 88.13 209.77 88.34C209.96 88.54 210.16 88.81 210.22 89.07C210.28 89.34 210.23 89.67 210.12 89.92C210.01 90.18 209.79 90.42 209.57 90.6C209.36 90.79 209.08 90.94 208.81 91.02C208.54 91.11 208.23 91.14 207.95 91.11C207.67 91.07 207.37 90.95 207.14 90.79C206.91 90.63 206.7 90.38 206.58 90.13C206.46 89.88 206.4 89.55 206.42 89.28C206.44 89 206.55 88.69 206.7 88.46C206.86 88.22 207.1 88.01 207.35 87.88Z"/>
<path d="M253.84 115.88C254.1 115.78 254.43 115.76 254.71 115.81C254.98 115.87 255.28 116.02 255.49 116.21C255.7 116.4 255.87 116.68 255.96 116.95C256.04 117.21 256.05 117.54 255.99 117.82C255.93 118.1 255.78 118.39 255.59 118.6C255.41 118.82 255.14 119.01 254.88 119.11C254.62 119.21 254.28 119.25 254.01 119.2C253.74 119.14 253.44 118.98 253.24 118.79C253.04 118.6 252.87 118.31 252.79 118.04C252.71 117.77 252.69 117.44 252.74 117.17C252.8 116.89 252.93 116.59 253.12 116.37C253.3 116.16 253.57 115.97 253.84 115.88Z"/>
<path d="M105.4 183.88C105.68 183.78 106 183.72 106.29 183.75C106.57 183.79 106.88 183.91 107.12 184.08C107.36 184.24 107.57 184.49 107.74 184.73C107.91 184.97 108.03 185.26 108.14 185.54C108.24 185.82 108.31 186.12 108.36 186.41C108.4 186.71 108.42 187.01 108.43 187.31C108.43 187.61 108.41 187.92 108.37 188.22C108.34 188.51 108.28 188.81 108.21 189.1C108.14 189.4 108.05 189.69 107.95 189.97C107.84 190.25 107.72 190.53 107.59 190.8C107.46 191.07 107.31 191.33 107.14 191.59C106.98 191.84 106.81 192.09 106.61 192.32C106.42 192.54 106.21 192.77 105.98 192.96C105.74 193.14 105.48 193.34 105.2 193.41C104.93 193.48 104.58 193.49 104.32 193.39C104.07 193.28 103.84 193.02 103.66 192.79C103.48 192.55 103.37 192.26 103.26 191.98C103.15 191.7 103.08 191.4 103.02 191.11C102.96 190.82 102.92 190.52 102.89 190.22C102.86 189.92 102.84 189.61 102.84 189.31C102.84 189.01 102.86 188.71 102.89 188.41C102.92 188.11 102.96 187.81 103.02 187.52C103.08 187.22 103.15 186.93 103.24 186.64C103.34 186.36 103.45 186.07 103.58 185.8C103.71 185.53 103.86 185.27 104.04 185.02C104.21 184.78 104.41 184.54 104.64 184.35C104.86 184.16 105.13 183.97 105.4 183.88Z"/>
<path d="M322.22 196.62C322.49 196.53 322.8 196.5 323.08 196.52C323.36 196.54 323.67 196.64 323.91 196.77C324.16 196.91 324.4 197.12 324.57 197.34C324.74 197.57 324.87 197.85 324.94 198.13C325 198.41 325 198.72 324.95 199C324.89 199.28 324.77 199.57 324.61 199.8C324.45 200.03 324.22 200.25 323.98 200.39C323.73 200.54 323.44 200.64 323.16 200.68C322.87 200.71 322.56 200.68 322.29 200.6C322.02 200.51 321.74 200.36 321.53 200.18C321.32 199.99 321.13 199.74 321.01 199.48C320.89 199.23 320.82 198.92 320.81 198.64C320.81 198.35 320.87 198.05 320.98 197.79C321.09 197.52 321.27 197.27 321.48 197.07C321.68 196.88 321.95 196.72 322.22 196.62Z"/>
<path d="M285.94 200.88C286.22 200.79 286.52 200.71 286.81 200.68C287.11 200.64 287.42 200.64 287.71 200.68C288 200.71 288.3 200.79 288.58 200.91C288.85 201.02 289.11 201.18 289.34 201.37C289.57 201.55 289.78 201.78 289.95 202.02C290.13 202.26 290.27 202.53 290.38 202.81C290.49 203.08 290.57 203.38 290.62 203.67C290.67 203.97 290.68 204.27 290.68 204.57C290.67 204.87 290.64 205.17 290.59 205.46C290.54 205.75 290.46 206.05 290.37 206.33C290.28 206.61 290.16 206.89 290.03 207.16C289.9 207.43 289.74 207.69 289.57 207.93C289.41 208.18 289.22 208.42 289.02 208.64C288.82 208.86 288.61 209.07 288.38 209.27C288.16 209.47 287.92 209.65 287.67 209.82C287.43 209.99 287.17 210.15 286.91 210.3C286.65 210.44 286.38 210.58 286.11 210.7C285.84 210.82 285.56 210.93 285.28 211.04C284.99 211.14 284.71 211.23 284.42 211.31C284.13 211.4 283.84 211.47 283.55 211.54C283.26 211.6 282.97 211.66 282.67 211.7C282.37 211.75 282.08 211.79 281.78 211.82C281.48 211.84 281.18 211.86 280.88 211.87C280.58 211.87 280.28 211.87 279.98 211.84C279.69 211.82 279.39 211.79 279.09 211.74C278.8 211.68 278.51 211.61 278.22 211.52C277.94 211.43 277.66 211.32 277.39 211.19C277.12 211.06 276.86 210.9 276.62 210.73C276.38 210.55 276.15 210.36 275.93 210.15C275.72 209.94 275.52 209.71 275.33 209.48C275.15 209.24 274.98 209 274.82 208.74C274.66 208.49 274.51 208.23 274.39 207.96C274.26 207.68 274.15 207.4 274.07 207.12C273.99 206.83 273.93 206.53 273.91 206.23C273.89 205.94 273.9 205.63 273.97 205.34C274.03 205.05 274.14 204.76 274.29 204.51C274.44 204.26 274.65 204.02 274.87 203.83C275.1 203.65 275.38 203.5 275.66 203.4C275.93 203.3 276.24 203.25 276.54 203.23C276.83 203.2 277.13 203.22 277.43 203.24C277.73 203.25 278.03 203.3 278.33 203.31C278.63 203.33 278.93 203.34 279.23 203.32C279.52 203.31 279.82 203.26 280.11 203.2C280.41 203.15 280.7 203.06 280.98 202.97C281.27 202.89 281.55 202.79 281.83 202.68C282.11 202.58 282.39 202.47 282.67 202.35C282.94 202.23 283.21 202.11 283.48 201.98C283.76 201.85 284.02 201.72 284.29 201.59C284.56 201.46 284.83 201.32 285.1 201.2C285.38 201.08 285.65 200.96 285.94 200.88Z"/>
<path d="M119.33 205.12C119.63 205.09 119.93 205.06 120.23 205.07C120.53 205.07 120.83 205.1 121.13 205.15C121.42 205.2 121.72 205.27 122 205.36C122.29 205.45 122.57 205.56 122.84 205.7C123.11 205.83 123.37 205.98 123.62 206.15C123.87 206.32 124.1 206.51 124.33 206.71C124.55 206.91 124.76 207.13 124.95 207.36C125.15 207.59 125.33 207.83 125.5 208.08C125.66 208.33 125.82 208.59 125.96 208.85C126.11 209.11 126.23 209.39 126.38 209.65C126.52 209.92 126.66 210.19 126.83 210.43C127.01 210.68 127.2 210.91 127.42 211.12C127.64 211.32 127.9 211.48 128.15 211.64C128.4 211.81 128.67 211.94 128.93 212.09C129.19 212.24 129.46 212.38 129.72 212.54C129.97 212.69 130.23 212.86 130.47 213.03C130.71 213.21 130.95 213.4 131.17 213.6C131.39 213.8 131.6 214.02 131.79 214.25C131.99 214.48 132.17 214.73 132.33 214.98C132.49 215.24 132.63 215.5 132.75 215.78C132.88 216.05 132.99 216.33 133.09 216.61C133.19 216.9 133.27 217.19 133.36 217.47C133.46 217.76 133.53 218.06 133.67 218.32C133.81 218.58 133.98 218.86 134.21 219.03C134.43 219.21 134.75 219.29 135.04 219.35C135.33 219.42 135.64 219.4 135.94 219.4C136.24 219.4 136.54 219.37 136.84 219.36C137.14 219.34 137.44 219.32 137.74 219.31C138.04 219.31 138.34 219.3 138.64 219.32C138.94 219.34 139.24 219.37 139.54 219.42C139.84 219.47 140.13 219.54 140.42 219.64C140.7 219.73 140.98 219.84 141.25 219.97C141.52 220.11 141.78 220.26 142.02 220.44C142.27 220.62 142.5 220.81 142.71 221.03C142.92 221.24 143.11 221.47 143.28 221.72C143.46 221.97 143.61 222.23 143.74 222.5C143.86 222.77 143.97 223.06 144.05 223.35C144.13 223.63 144.18 223.93 144.21 224.23C144.24 224.53 144.24 224.84 144.22 225.13C144.2 225.43 144.14 225.73 144.07 226.02C144 226.31 143.9 226.6 143.77 226.88C143.65 227.15 143.5 227.41 143.33 227.66C143.17 227.91 142.98 228.15 142.77 228.36C142.56 228.58 142.33 228.78 142.09 228.96C141.85 229.14 141.59 229.29 141.32 229.43C141.05 229.56 140.77 229.68 140.49 229.77C140.2 229.86 139.9 229.92 139.61 229.96C139.31 230 139.01 230.02 138.71 230.02C138.41 230.01 138.1 229.98 137.81 229.94C137.51 229.89 137.22 229.82 136.93 229.75C136.64 229.67 136.35 229.57 136.07 229.46C135.79 229.36 135.51 229.24 135.23 229.13C134.95 229.01 134.68 228.89 134.4 228.78C134.12 228.66 133.84 228.55 133.56 228.45C133.28 228.34 132.99 228.25 132.7 228.16C132.42 228.06 132.13 227.98 131.84 227.9C131.55 227.82 131.26 227.75 130.96 227.68C130.67 227.61 130.38 227.54 130.08 227.48C129.79 227.41 129.5 227.35 129.2 227.29C128.91 227.23 128.61 227.17 128.32 227.1C128.02 227.03 127.73 226.96 127.44 226.88C127.15 226.8 126.86 226.71 126.58 226.61C126.3 226.51 126.02 226.39 125.75 226.27C125.47 226.15 125.2 226.01 124.93 225.88C124.66 225.75 124.39 225.61 124.11 225.5C123.84 225.38 123.56 225.26 123.27 225.18C122.98 225.09 122.69 225.02 122.39 224.98C122.09 224.94 121.79 224.93 121.49 224.92C121.19 224.91 120.89 224.93 120.59 224.93C120.29 224.93 119.98 224.94 119.69 224.9C119.39 224.87 119.08 224.82 118.8 224.73C118.52 224.64 118.24 224.51 117.99 224.34C117.74 224.18 117.51 223.97 117.32 223.74C117.12 223.52 116.96 223.26 116.82 223C116.68 222.73 116.57 222.45 116.48 222.16C116.38 221.88 116.32 221.58 116.26 221.29C116.2 220.99 116.16 220.69 116.11 220.39C116.07 220.1 116.04 219.8 116 219.5C115.96 219.2 115.93 218.9 115.89 218.6C115.85 218.31 115.81 218.01 115.76 217.71C115.71 217.41 115.66 217.12 115.6 216.82C115.54 216.53 115.48 216.23 115.42 215.94C115.35 215.65 115.27 215.35 115.2 215.06C115.12 214.77 115.03 214.48 114.95 214.19C114.87 213.91 114.78 213.62 114.7 213.33C114.62 213.04 114.55 212.74 114.49 212.45C114.43 212.15 114.39 211.86 114.36 211.56C114.34 211.26 114.32 210.95 114.33 210.65C114.35 210.35 114.38 210.05 114.43 209.76C114.48 209.46 114.56 209.17 114.66 208.89C114.76 208.6 114.88 208.32 115.02 208.06C115.16 207.8 115.33 207.54 115.51 207.3C115.69 207.07 115.9 206.84 116.12 206.64C116.34 206.43 116.57 206.24 116.82 206.07C117.07 205.9 117.33 205.76 117.61 205.63C117.88 205.5 118.16 205.39 118.45 205.31C118.73 205.22 119.03 205.16 119.33 205.12Z"/>
<path d="M209.16 247.38C209.26 247.31 209.41 247.28 209.53 247.29C209.65 247.3 209.8 247.34 209.89 247.41C209.98 247.49 210.06 247.62 210.09 247.74C210.13 247.86 210.13 248.01 210.09 248.12C210.04 248.23 209.95 248.35 209.84 248.42C209.74 248.48 209.59 248.51 209.47 248.51C209.35 248.5 209.2 248.46 209.11 248.39C209.01 248.31 208.93 248.18 208.9 248.06C208.87 247.94 208.88 247.8 208.92 247.68C208.96 247.57 209.05 247.44 209.16 247.38Z"/>
<path d="M168.03 66.88C168.32 66.86 168.64 66.89 168.92 66.97C169.21 67.05 169.49 67.19 169.73 67.36C169.98 67.52 170.2 67.74 170.39 67.97C170.58 68.2 170.73 68.47 170.85 68.75C170.97 69.02 171.05 69.32 171.1 69.61C171.15 69.91 171.16 70.21 171.13 70.51C171.11 70.81 171.06 71.11 170.97 71.4C170.88 71.68 170.75 71.96 170.6 72.22C170.44 72.47 170.25 72.72 170.03 72.92C169.81 73.12 169.56 73.3 169.28 73.41C169.01 73.53 168.7 73.59 168.41 73.6C168.11 73.61 167.8 73.56 167.52 73.48C167.23 73.39 166.95 73.25 166.71 73.08C166.46 72.92 166.24 72.7 166.05 72.48C165.86 72.25 165.7 71.98 165.57 71.71C165.45 71.44 165.36 71.14 165.31 70.85C165.26 70.55 165.24 70.25 165.26 69.95C165.28 69.65 165.34 69.35 165.43 69.06C165.52 68.78 165.65 68.5 165.81 68.25C165.97 68 166.17 67.76 166.4 67.56C166.62 67.37 166.88 67.2 167.16 67.08C167.43 66.97 167.74 66.89 168.03 66.88Z"/>
<path d="M125.12 82.38C125.41 82.34 125.71 82.31 126.01 82.29C126.31 82.27 126.61 82.26 126.91 82.26C127.21 82.26 127.51 82.27 127.8 82.29C128.1 82.31 128.4 82.34 128.7 82.37C128.99 82.41 129.29 82.45 129.59 82.5C129.88 82.55 130.17 82.62 130.46 82.69C130.75 82.76 131.04 82.84 131.33 82.93C131.61 83.01 131.9 83.11 132.18 83.22C132.46 83.32 132.73 83.44 133 83.56C133.28 83.69 133.55 83.82 133.81 83.96C134.07 84.1 134.33 84.25 134.59 84.4C134.84 84.56 135.09 84.72 135.34 84.9C135.58 85.07 135.82 85.24 136.06 85.43C136.3 85.61 136.52 85.81 136.75 86C136.97 86.2 137.2 86.4 137.41 86.61C137.62 86.82 137.83 87.04 138.03 87.26C138.23 87.48 138.43 87.71 138.61 87.95C138.79 88.18 138.96 88.43 139.12 88.68C139.28 88.93 139.43 89.19 139.56 89.46C139.7 89.73 139.82 90 139.92 90.28C140.02 90.57 140.11 90.85 140.17 91.14C140.24 91.43 140.29 91.73 140.32 92.03C140.35 92.33 140.36 92.63 140.35 92.93C140.34 93.22 140.31 93.52 140.26 93.82C140.21 94.11 140.14 94.4 140.04 94.69C139.95 94.97 139.84 95.25 139.71 95.52C139.58 95.79 139.43 96.05 139.26 96.29C139.09 96.54 138.9 96.78 138.7 97C138.5 97.22 138.28 97.42 138.05 97.61C137.82 97.8 137.57 97.97 137.31 98.12C137.05 98.27 136.78 98.4 136.51 98.52C136.23 98.63 135.94 98.72 135.65 98.79C135.36 98.86 135.06 98.9 134.77 98.93C134.47 98.96 134.17 98.96 133.87 98.95C133.57 98.93 133.27 98.89 132.98 98.83C132.69 98.78 132.4 98.7 132.11 98.61C131.83 98.52 131.55 98.41 131.27 98.3C130.99 98.19 130.72 98.06 130.45 97.94C130.18 97.82 129.91 97.69 129.63 97.58C129.35 97.47 129.07 97.36 128.79 97.27C128.5 97.18 128.21 97.11 127.92 97.04C127.63 96.97 127.33 96.91 127.04 96.85C126.75 96.79 126.45 96.74 126.16 96.68C125.87 96.62 125.58 96.56 125.28 96.49C124.99 96.43 124.7 96.36 124.41 96.29C124.12 96.23 123.82 96.16 123.53 96.1C123.24 96.04 122.94 95.98 122.65 95.94C122.35 95.89 122.05 95.82 121.76 95.84C121.47 95.86 121.13 95.9 120.9 96.05C120.68 96.21 120.53 96.51 120.39 96.78C120.26 97.04 120.19 97.34 120.1 97.63C120.02 97.91 119.93 98.2 119.87 98.49C119.81 98.78 119.75 99.08 119.73 99.38C119.72 99.68 119.73 99.98 119.76 100.27C119.8 100.57 119.88 100.86 119.93 101.15C119.98 101.45 120.05 101.74 120.08 102.04C120.1 102.34 120.11 102.64 120.08 102.94C120.06 103.23 120 103.53 119.91 103.81C119.83 104.1 119.71 104.38 119.57 104.64C119.42 104.9 119.25 105.15 119.05 105.37C118.86 105.6 118.64 105.81 118.41 106C118.18 106.19 117.92 106.35 117.67 106.51C117.43 106.68 117.13 106.8 116.92 106.99C116.7 107.18 116.42 107.42 116.38 107.67C116.34 107.92 116.56 108.23 116.7 108.49C116.83 108.75 117.04 108.98 117.2 109.23C117.36 109.49 117.52 109.74 117.65 110.01C117.78 110.28 117.9 110.56 117.98 110.84C118.06 111.13 118.12 111.43 118.15 111.72C118.17 112.02 118.16 112.32 118.12 112.62C118.07 112.91 117.99 113.21 117.87 113.47C117.75 113.74 117.58 114.01 117.38 114.22C117.18 114.44 116.92 114.62 116.66 114.75C116.4 114.88 116.09 114.95 115.8 115C115.51 115.05 115.21 115.04 114.91 115.04C114.61 115.03 114.31 115 114.01 114.96C113.72 114.93 113.42 114.88 113.13 114.83C112.83 114.78 112.54 114.72 112.25 114.65C111.95 114.59 111.66 114.52 111.37 114.44C111.09 114.36 110.8 114.28 110.52 114.18C110.23 114.08 109.95 113.97 109.68 113.85C109.41 113.72 109.14 113.59 108.88 113.44C108.63 113.29 108.37 113.12 108.14 112.94C107.9 112.76 107.67 112.57 107.46 112.35C107.25 112.14 107.06 111.91 106.89 111.66C106.72 111.42 106.56 111.16 106.45 110.88C106.33 110.61 106.24 110.32 106.2 110.02C106.16 109.73 106.15 109.42 106.18 109.13C106.22 108.84 106.31 108.54 106.42 108.27C106.53 107.99 106.69 107.74 106.85 107.48C107 107.22 107.19 106.99 107.35 106.74C107.51 106.48 107.67 106.23 107.81 105.96C107.94 105.7 108.05 105.42 108.14 105.13C108.23 104.85 108.29 104.55 108.34 104.26C108.4 103.97 108.44 103.67 108.49 103.37C108.54 103.08 108.6 102.78 108.66 102.49C108.72 102.2 108.79 101.91 108.86 101.62C108.94 101.33 109.03 101.04 109.12 100.76C109.21 100.47 109.31 100.19 109.41 99.91C109.52 99.63 109.63 99.35 109.75 99.08C109.87 98.81 110 98.54 110.13 98.27C110.26 98 110.4 97.73 110.54 97.47C110.69 97.21 110.83 96.95 110.99 96.69C111.14 96.44 111.3 96.18 111.47 95.94C111.64 95.69 111.81 95.44 111.99 95.2C112.16 94.96 112.35 94.72 112.54 94.49C112.72 94.26 112.92 94.03 113.12 93.81C113.32 93.59 113.53 93.37 113.74 93.16C113.95 92.95 114.17 92.75 114.39 92.54C114.61 92.34 114.84 92.15 115.05 91.93C115.26 91.72 115.48 91.51 115.63 91.26C115.79 91 115.89 90.72 115.98 90.43C116.06 90.15 116.09 89.84 116.14 89.55C116.18 89.25 116.21 88.95 116.27 88.66C116.33 88.37 116.4 88.08 116.49 87.79C116.58 87.51 116.7 87.23 116.83 86.96C116.96 86.7 117.11 86.44 117.28 86.19C117.45 85.94 117.64 85.71 117.84 85.49C118.04 85.27 118.26 85.06 118.48 84.86C118.71 84.67 118.95 84.49 119.2 84.33C119.45 84.16 119.71 84.01 119.97 83.87C120.24 83.73 120.51 83.6 120.79 83.49C121.06 83.37 121.34 83.27 121.62 83.17C121.91 83.07 122.19 82.99 122.48 82.91C122.77 82.82 123.06 82.75 123.35 82.68C123.64 82.61 123.93 82.55 124.23 82.5C124.52 82.45 124.82 82.41 125.12 82.38Z"/>
<path d="M216.78 87.38C217.06 87.32 217.38 87.32 217.67 87.38C217.96 87.44 218.25 87.56 218.5 87.72C218.74 87.88 218.98 88.1 219.14 88.34C219.29 88.58 219.41 88.9 219.43 89.18C219.45 89.47 219.38 89.79 219.24 90.05C219.11 90.3 218.87 90.53 218.63 90.69C218.39 90.85 218.08 90.95 217.79 91C217.5 91.05 217.19 91.05 216.9 90.99C216.61 90.94 216.31 90.83 216.06 90.67C215.82 90.52 215.57 90.3 215.42 90.06C215.26 89.81 215.14 89.5 215.13 89.22C215.12 88.93 215.2 88.61 215.33 88.35C215.47 88.1 215.71 87.87 215.95 87.71C216.19 87.55 216.49 87.43 216.78 87.38Z"/>
<path d="M105.76 185.88C106.02 185.84 106.37 185.99 106.58 186.18C106.78 186.36 106.89 186.71 106.97 186.99C107.04 187.28 107.04 187.61 107.02 187.91C106.99 188.21 106.92 188.52 106.81 188.8C106.71 189.08 106.57 189.38 106.37 189.6C106.17 189.82 105.89 190.08 105.63 190.11C105.37 190.15 105.01 189.99 104.82 189.8C104.62 189.61 104.51 189.27 104.44 188.98C104.37 188.69 104.36 188.37 104.38 188.06C104.4 187.76 104.46 187.45 104.57 187.17C104.67 186.88 104.81 186.58 105 186.37C105.2 186.15 105.49 185.91 105.76 185.88Z"/>
<path d="M282.51 204.38C282.8 204.32 283.1 204.26 283.4 204.23C283.69 204.19 283.99 204.17 284.29 204.17C284.59 204.16 284.9 204.17 285.19 204.22C285.48 204.26 285.79 204.33 286.05 204.45C286.32 204.57 286.59 204.74 286.79 204.95C286.99 205.16 287.15 205.44 287.24 205.72C287.33 206 287.35 206.32 287.32 206.61C287.29 206.9 287.18 207.2 287.06 207.47C286.93 207.73 286.75 207.99 286.56 208.21C286.37 208.44 286.14 208.64 285.91 208.83C285.67 209.01 285.41 209.17 285.15 209.31C284.89 209.45 284.61 209.57 284.33 209.68C284.05 209.78 283.76 209.86 283.47 209.93C283.18 210 282.88 210.05 282.58 210.09C282.29 210.12 281.99 210.14 281.69 210.14C281.39 210.13 281.09 210.11 280.79 210.07C280.49 210.03 280.2 209.96 279.91 209.87C279.63 209.78 279.35 209.67 279.09 209.52C278.82 209.38 278.57 209.21 278.34 209.02C278.11 208.84 277.89 208.62 277.69 208.4C277.49 208.18 277.3 207.95 277.13 207.7C276.96 207.45 276.77 207.2 276.68 206.93C276.59 206.65 276.49 206.29 276.58 206.05C276.68 205.82 276.99 205.63 277.24 205.51C277.5 205.4 277.84 205.42 278.13 205.37C278.43 205.33 278.73 205.31 279.02 205.25C279.32 205.2 279.61 205.13 279.9 205.06C280.19 204.98 280.48 204.89 280.77 204.81C281.05 204.73 281.34 204.65 281.63 204.58C281.92 204.5 282.21 204.43 282.51 204.38Z"/>
<path d="M118.61 205.88C118.89 205.79 119.18 205.72 119.48 205.68C119.77 205.64 120.08 205.63 120.37 205.64C120.67 205.65 120.97 205.69 121.26 205.74C121.55 205.8 121.84 205.89 122.12 206C122.4 206.11 122.67 206.24 122.92 206.4C123.18 206.55 123.42 206.72 123.65 206.92C123.88 207.11 124.09 207.32 124.28 207.55C124.48 207.78 124.65 208.02 124.81 208.28C124.96 208.53 125.1 208.8 125.22 209.07C125.33 209.34 125.43 209.63 125.51 209.92C125.6 210.2 125.65 210.5 125.73 210.78C125.81 211.07 125.85 211.39 126 211.64C126.15 211.88 126.38 212.1 126.62 212.26C126.87 212.41 127.18 212.47 127.46 212.57C127.75 212.66 128.04 212.74 128.32 212.84C128.6 212.94 128.88 213.05 129.15 213.17C129.42 213.3 129.68 213.44 129.93 213.6C130.19 213.76 130.43 213.94 130.65 214.14C130.87 214.33 131.08 214.55 131.27 214.78C131.46 215.01 131.63 215.26 131.78 215.52C131.93 215.78 132.05 216.05 132.15 216.33C132.25 216.61 132.33 216.9 132.39 217.2C132.45 217.49 132.49 217.79 132.52 218.08C132.54 218.38 132.55 218.68 132.55 218.98C132.55 219.28 132.53 219.58 132.53 219.87C132.53 220.17 132.48 220.51 132.57 220.77C132.66 221.03 132.84 221.33 133.07 221.45C133.3 221.57 133.66 221.51 133.96 221.48C134.25 221.45 134.54 221.36 134.83 221.28C135.11 221.2 135.4 221.09 135.68 221C135.97 220.91 136.25 220.82 136.54 220.74C136.82 220.66 137.11 220.58 137.41 220.53C137.7 220.47 138 220.43 138.3 220.42C138.59 220.41 138.9 220.41 139.19 220.44C139.49 220.48 139.78 220.54 140.07 220.62C140.35 220.71 140.63 220.82 140.9 220.96C141.16 221.1 141.41 221.27 141.64 221.46C141.87 221.65 142.08 221.87 142.26 222.1C142.44 222.34 142.61 222.59 142.74 222.86C142.86 223.13 142.97 223.42 143.04 223.7C143.1 223.99 143.14 224.3 143.15 224.59C143.16 224.89 143.13 225.19 143.07 225.48C143.02 225.77 142.93 226.07 142.81 226.34C142.69 226.61 142.54 226.87 142.37 227.11C142.19 227.36 141.99 227.58 141.77 227.78C141.55 227.98 141.3 228.16 141.05 228.31C140.79 228.45 140.51 228.58 140.23 228.67C139.95 228.76 139.65 228.82 139.35 228.85C139.06 228.89 138.75 228.89 138.46 228.86C138.16 228.84 137.86 228.79 137.58 228.71C137.29 228.64 137.01 228.53 136.73 228.41C136.46 228.29 136.2 228.15 135.94 228C135.68 227.85 135.44 227.67 135.19 227.5C134.95 227.33 134.71 227.15 134.47 226.96C134.24 226.78 134 226.6 133.76 226.42C133.53 226.24 133.28 226.06 133.04 225.89C132.8 225.71 132.56 225.54 132.32 225.35C132.09 225.17 131.86 224.98 131.63 224.79C131.4 224.6 131.19 224.37 130.94 224.21C130.7 224.05 130.42 223.91 130.14 223.83C129.86 223.75 129.55 223.75 129.25 223.73C128.95 223.71 128.65 223.71 128.36 223.69C128.06 223.67 127.76 223.65 127.46 223.61C127.17 223.57 126.87 223.52 126.58 223.45C126.29 223.38 126.01 223.3 125.72 223.2C125.44 223.11 125.16 222.99 124.89 222.88C124.61 222.77 124.33 222.65 124.05 222.55C123.78 222.44 123.5 222.33 123.21 222.25C122.92 222.18 122.63 222.12 122.33 222.08C122.03 222.05 121.73 222.06 121.43 222.06C121.14 222.05 120.83 222.08 120.54 222.04C120.24 222.01 119.93 221.97 119.67 221.85C119.4 221.74 119.14 221.56 118.93 221.35C118.73 221.14 118.58 220.87 118.44 220.6C118.31 220.34 118.23 220.04 118.15 219.76C118.07 219.47 118.02 219.17 117.97 218.88C117.91 218.59 117.88 218.29 117.84 217.99C117.79 217.7 117.77 217.4 117.71 217.11C117.65 216.81 117.59 216.52 117.49 216.24C117.39 215.96 117.25 215.69 117.1 215.43C116.95 215.17 116.77 214.93 116.61 214.68C116.45 214.43 116.28 214.19 116.12 213.93C115.97 213.68 115.82 213.42 115.69 213.15C115.57 212.88 115.45 212.6 115.36 212.31C115.27 212.03 115.2 211.74 115.15 211.44C115.1 211.15 115.08 210.85 115.08 210.55C115.08 210.26 115.11 209.95 115.17 209.66C115.22 209.37 115.31 209.08 115.42 208.8C115.52 208.53 115.66 208.26 115.82 208C115.97 207.75 116.16 207.51 116.36 207.29C116.56 207.07 116.78 206.87 117.02 206.69C117.26 206.51 117.51 206.35 117.78 206.21C118.04 206.07 118.32 205.96 118.61 205.88Z"/>
<path d="M167.48 68.38C167.74 68.25 168.08 68.18 168.37 68.21C168.65 68.24 168.97 68.38 169.2 68.55C169.43 68.73 169.63 69 169.76 69.26C169.89 69.53 169.96 69.85 169.97 70.14C169.98 70.44 169.92 70.76 169.81 71.03C169.69 71.31 169.51 71.59 169.29 71.78C169.07 71.97 168.77 72.13 168.49 72.18C168.21 72.23 167.86 72.19 167.6 72.08C167.33 71.98 167.07 71.76 166.88 71.53C166.7 71.3 166.56 71 166.49 70.72C166.42 70.43 166.41 70.1 166.47 69.81C166.52 69.52 166.64 69.21 166.81 68.97C166.98 68.73 167.22 68.5 167.48 68.38Z"/>
<path d="M126.1 83.12C126.4 83.11 126.71 83.09 127.01 83.09C127.31 83.09 127.61 83.11 127.91 83.13C128.21 83.14 128.51 83.17 128.81 83.21C129.1 83.25 129.4 83.3 129.7 83.36C129.99 83.42 130.28 83.49 130.57 83.57C130.86 83.65 131.15 83.74 131.44 83.84C131.72 83.94 132 84.05 132.28 84.17C132.55 84.29 132.82 84.42 133.09 84.56C133.36 84.69 133.62 84.84 133.88 84.99C134.14 85.15 134.39 85.31 134.64 85.48C134.89 85.64 135.14 85.82 135.38 86C135.62 86.18 135.86 86.36 136.1 86.55C136.33 86.74 136.56 86.93 136.78 87.13C137.01 87.33 137.23 87.54 137.44 87.76C137.65 87.97 137.85 88.19 138.04 88.43C138.23 88.66 138.41 88.9 138.58 89.15C138.74 89.41 138.89 89.67 139.02 89.94C139.16 90.21 139.27 90.49 139.37 90.77C139.46 91.06 139.54 91.35 139.59 91.64C139.65 91.94 139.68 92.24 139.69 92.54C139.7 92.84 139.69 93.14 139.65 93.44C139.61 93.74 139.56 94.04 139.48 94.33C139.39 94.61 139.29 94.9 139.16 95.17C139.03 95.44 138.88 95.71 138.71 95.95C138.54 96.2 138.35 96.44 138.14 96.65C137.93 96.87 137.7 97.07 137.46 97.24C137.22 97.42 136.96 97.58 136.69 97.72C136.43 97.86 136.15 97.97 135.86 98.06C135.57 98.15 135.28 98.22 134.98 98.26C134.68 98.3 134.38 98.32 134.08 98.31C133.78 98.3 133.48 98.27 133.18 98.22C132.89 98.17 132.59 98.09 132.31 98C132.02 97.91 131.74 97.8 131.46 97.68C131.19 97.57 130.92 97.43 130.64 97.3C130.37 97.17 130.11 97.03 129.83 96.9C129.56 96.78 129.29 96.65 129 96.55C128.72 96.45 128.43 96.36 128.14 96.28C127.85 96.2 127.56 96.14 127.26 96.07C126.97 96.01 126.67 95.95 126.38 95.89C126.08 95.84 125.79 95.78 125.49 95.72C125.2 95.66 124.9 95.6 124.61 95.55C124.31 95.5 124.01 95.46 123.71 95.42C123.42 95.37 123.12 95.34 122.82 95.3C122.52 95.27 122.22 95.22 121.92 95.2C121.62 95.18 121.3 95.13 121.02 95.2C120.74 95.26 120.43 95.39 120.24 95.59C120.04 95.79 119.95 96.12 119.84 96.4C119.74 96.68 119.68 96.98 119.61 97.27C119.54 97.56 119.46 97.85 119.4 98.15C119.33 98.44 119.27 98.74 119.23 99.04C119.2 99.33 119.18 99.64 119.2 99.94C119.21 100.24 119.27 100.53 119.32 100.83C119.37 101.13 119.44 101.42 119.48 101.72C119.52 102.02 119.55 102.32 119.54 102.62C119.53 102.92 119.48 103.22 119.41 103.51C119.33 103.8 119.22 104.08 119.07 104.35C118.93 104.61 118.75 104.86 118.55 105.08C118.34 105.3 118.11 105.49 117.86 105.66C117.62 105.84 117.35 105.98 117.08 106.1C116.8 106.23 116.52 106.32 116.23 106.42C115.95 106.52 115.65 106.59 115.38 106.7C115.1 106.82 114.78 106.93 114.59 107.13C114.4 107.34 114.24 107.66 114.24 107.93C114.24 108.2 114.44 108.5 114.59 108.75C114.74 109 114.98 109.21 115.16 109.45C115.34 109.69 115.53 109.93 115.66 110.2C115.8 110.47 115.92 110.76 115.96 111.05C116.01 111.34 116.01 111.67 115.93 111.94C115.84 112.21 115.66 112.49 115.45 112.69C115.23 112.88 114.93 113.01 114.65 113.09C114.37 113.18 114.06 113.2 113.76 113.22C113.46 113.23 113.15 113.21 112.86 113.17C112.56 113.14 112.26 113.09 111.97 113.02C111.68 112.95 111.38 112.87 111.1 112.77C110.82 112.66 110.54 112.55 110.27 112.41C110.01 112.27 109.75 112.11 109.51 111.93C109.27 111.75 109.04 111.54 108.85 111.32C108.66 111.09 108.48 110.83 108.36 110.56C108.23 110.3 108.14 110 108.11 109.7C108.07 109.41 108.09 109.1 108.12 108.8C108.16 108.51 108.25 108.21 108.32 107.92C108.4 107.63 108.5 107.35 108.58 107.06C108.67 106.77 108.75 106.48 108.81 106.18C108.87 105.89 108.92 105.59 108.96 105.29C109 105 109.02 104.69 109.04 104.39C109.07 104.1 109.09 103.79 109.12 103.5C109.15 103.2 109.19 102.9 109.23 102.6C109.28 102.3 109.34 102.01 109.41 101.72C109.48 101.42 109.56 101.13 109.65 100.84C109.74 100.56 109.83 100.27 109.94 99.99C110.04 99.71 110.15 99.43 110.27 99.15C110.39 98.88 110.52 98.6 110.66 98.34C110.79 98.07 110.93 97.8 111.08 97.54C111.23 97.27 111.38 97.02 111.54 96.76C111.7 96.51 111.87 96.26 112.04 96.01C112.21 95.76 112.39 95.52 112.58 95.28C112.76 95.05 112.96 94.82 113.16 94.59C113.36 94.37 113.56 94.14 113.77 93.93C113.99 93.72 114.21 93.52 114.44 93.32C114.66 93.12 114.9 92.93 115.13 92.74C115.36 92.55 115.62 92.38 115.83 92.17C116.03 91.95 116.24 91.72 116.37 91.45C116.5 91.19 116.56 90.88 116.61 90.59C116.67 90.29 116.67 89.99 116.71 89.69C116.75 89.39 116.79 89.09 116.85 88.8C116.91 88.5 116.99 88.21 117.08 87.93C117.18 87.64 117.31 87.37 117.45 87.1C117.59 86.84 117.76 86.58 117.94 86.35C118.12 86.11 118.33 85.89 118.55 85.68C118.76 85.47 119 85.28 119.24 85.1C119.48 84.93 119.74 84.77 120.01 84.63C120.27 84.49 120.55 84.36 120.82 84.24C121.1 84.13 121.39 84.03 121.67 83.94C121.96 83.85 122.25 83.77 122.54 83.7C122.83 83.63 123.13 83.56 123.42 83.5C123.72 83.44 124.01 83.39 124.31 83.34C124.61 83.29 124.91 83.24 125.2 83.21C125.5 83.17 125.8 83.14 126.1 83.12Z"/>
<path d="M119.1 206.38C119.39 206.3 119.69 206.26 119.99 206.24C120.29 206.23 120.59 206.25 120.89 206.29C121.18 206.34 121.48 206.41 121.76 206.51C122.04 206.62 122.32 206.75 122.57 206.9C122.83 207.06 123.07 207.24 123.29 207.44C123.51 207.65 123.72 207.87 123.89 208.12C124.07 208.36 124.22 208.62 124.35 208.89C124.47 209.16 124.56 209.46 124.63 209.75C124.7 210.04 124.74 210.34 124.76 210.64C124.77 210.94 124.75 211.24 124.7 211.54C124.66 211.83 124.6 212.13 124.5 212.41C124.41 212.7 124.3 212.99 124.15 213.24C123.99 213.5 123.8 213.74 123.58 213.94C123.36 214.14 123.09 214.29 122.82 214.42C122.56 214.56 122.27 214.66 121.98 214.75C121.7 214.84 121.4 214.91 121.11 214.95C120.81 215 120.51 215.02 120.21 215.01C119.91 214.99 119.61 214.95 119.32 214.87C119.03 214.8 118.74 214.7 118.47 214.57C118.2 214.44 117.94 214.28 117.7 214.1C117.46 213.92 117.24 213.72 117.03 213.5C116.83 213.28 116.64 213.04 116.49 212.78C116.33 212.53 116.19 212.26 116.08 211.98C115.98 211.7 115.9 211.4 115.85 211.11C115.81 210.81 115.79 210.51 115.81 210.21C115.83 209.91 115.88 209.61 115.96 209.32C116.04 209.03 116.16 208.75 116.31 208.49C116.45 208.23 116.62 207.98 116.82 207.75C117.02 207.53 117.24 207.32 117.48 207.14C117.72 206.96 117.98 206.8 118.25 206.67C118.52 206.55 118.81 206.45 119.1 206.38Z"/>
<path d="M126.29 213.88C126.58 213.82 126.89 213.79 127.19 213.79C127.48 213.79 127.79 213.82 128.08 213.88C128.37 213.94 128.66 214.02 128.94 214.14C129.21 214.25 129.48 214.39 129.73 214.56C129.97 214.73 130.21 214.93 130.41 215.14C130.61 215.36 130.8 215.61 130.95 215.86C131.1 216.12 131.22 216.4 131.31 216.68C131.4 216.97 131.46 217.27 131.48 217.56C131.51 217.86 131.5 218.16 131.46 218.46C131.42 218.75 131.35 219.05 131.25 219.33C131.14 219.61 131 219.88 130.84 220.13C130.67 220.37 130.46 220.6 130.24 220.8C130.01 220.99 129.76 221.16 129.49 221.29C129.23 221.42 128.93 221.52 128.64 221.59C128.35 221.65 128.05 221.68 127.75 221.68C127.45 221.67 127.15 221.64 126.86 221.57C126.57 221.51 126.28 221.41 126.01 221.29C125.74 221.16 125.48 221.01 125.23 220.84C124.99 220.67 124.76 220.47 124.56 220.25C124.35 220.03 124.16 219.79 124.01 219.54C123.85 219.29 123.72 219.01 123.63 218.73C123.54 218.45 123.47 218.14 123.45 217.85C123.43 217.55 123.45 217.25 123.49 216.95C123.54 216.66 123.61 216.36 123.71 216.08C123.81 215.8 123.93 215.52 124.09 215.27C124.24 215.02 124.44 214.77 124.66 214.58C124.88 214.39 125.16 214.24 125.43 214.13C125.7 214.01 126 213.93 126.29 213.88Z"/>
<path d="M138.16 221.62C138.45 221.57 138.76 221.55 139.06 221.57C139.36 221.6 139.66 221.66 139.94 221.76C140.22 221.86 140.5 222.01 140.74 222.18C140.98 222.36 141.21 222.58 141.39 222.81C141.57 223.05 141.72 223.33 141.82 223.6C141.92 223.88 141.99 224.19 142 224.49C142.02 224.79 141.99 225.1 141.92 225.39C141.84 225.68 141.72 225.96 141.56 226.22C141.41 226.47 141.21 226.71 140.99 226.91C140.76 227.11 140.5 227.28 140.23 227.41C139.96 227.53 139.66 227.62 139.37 227.66C139.07 227.71 138.76 227.71 138.46 227.67C138.17 227.63 137.87 227.54 137.59 227.43C137.32 227.31 137.05 227.16 136.81 226.98C136.57 226.8 136.34 226.59 136.15 226.35C135.96 226.12 135.79 225.86 135.67 225.59C135.55 225.32 135.46 225.02 135.43 224.72C135.4 224.43 135.42 224.11 135.5 223.82C135.58 223.54 135.73 223.26 135.9 223.02C136.07 222.77 136.29 222.55 136.52 222.36C136.76 222.18 137.02 222.02 137.3 221.9C137.57 221.77 137.86 221.68 138.16 221.62Z"/>
<path d="M167.91 69.62C168.02 69.56 168.17 69.53 168.29 69.55C168.4 69.57 168.54 69.65 168.62 69.74C168.7 69.83 168.76 69.97 168.78 70.09C168.8 70.21 168.78 70.36 168.73 70.47C168.68 70.58 168.58 70.7 168.48 70.76C168.38 70.83 168.23 70.88 168.11 70.86C168 70.84 167.86 70.75 167.78 70.66C167.7 70.57 167.65 70.43 167.63 70.31C167.61 70.19 167.62 70.04 167.67 69.92C167.72 69.81 167.81 69.69 167.91 69.62Z"/>
<path d="M124.49 84.38C124.79 84.35 125.09 84.32 125.39 84.29C125.69 84.27 125.98 84.24 126.28 84.23C126.58 84.22 126.88 84.21 127.18 84.21C127.48 84.22 127.78 84.23 128.08 84.25C128.38 84.28 128.67 84.32 128.97 84.36C129.26 84.41 129.56 84.47 129.85 84.54C130.14 84.61 130.43 84.7 130.71 84.79C131 84.89 131.28 84.99 131.55 85.11C131.83 85.22 132.1 85.35 132.37 85.48C132.64 85.61 132.9 85.76 133.16 85.9C133.42 86.05 133.68 86.2 133.94 86.36C134.19 86.51 134.45 86.67 134.7 86.83C134.95 86.99 135.2 87.15 135.45 87.32C135.7 87.49 135.94 87.66 136.18 87.85C136.42 88.03 136.65 88.22 136.87 88.42C137.09 88.63 137.3 88.84 137.49 89.07C137.68 89.3 137.87 89.54 138.03 89.79C138.19 90.04 138.34 90.3 138.46 90.57C138.59 90.84 138.69 91.13 138.77 91.42C138.85 91.7 138.9 92 138.93 92.3C138.95 92.6 138.96 92.9 138.93 93.2C138.91 93.49 138.86 93.79 138.78 94.08C138.7 94.37 138.59 94.65 138.46 94.92C138.33 95.19 138.17 95.45 137.99 95.68C137.82 95.92 137.61 96.15 137.39 96.35C137.17 96.55 136.93 96.73 136.68 96.89C136.42 97.04 136.15 97.18 135.87 97.28C135.59 97.38 135.3 97.46 135 97.51C134.71 97.56 134.41 97.58 134.11 97.58C133.81 97.57 133.51 97.54 133.22 97.49C132.92 97.43 132.63 97.35 132.35 97.25C132.07 97.15 131.79 97.03 131.52 96.9C131.25 96.77 130.99 96.62 130.73 96.48C130.47 96.33 130.22 96.17 129.96 96.03C129.69 95.88 129.43 95.73 129.16 95.6C128.89 95.48 128.61 95.36 128.33 95.27C128.05 95.17 127.76 95.09 127.47 95.02C127.18 94.95 126.88 94.89 126.59 94.84C126.29 94.79 126 94.74 125.7 94.7C125.4 94.67 125.1 94.64 124.81 94.62C124.51 94.61 124.21 94.61 123.91 94.6C123.61 94.59 123.31 94.59 123.01 94.58C122.71 94.56 122.41 94.55 122.11 94.52C121.82 94.5 121.52 94.46 121.22 94.43C120.92 94.41 120.61 94.35 120.32 94.39C120.03 94.42 119.68 94.47 119.48 94.64C119.28 94.82 119.18 95.16 119.1 95.44C119.01 95.72 119 96.03 118.96 96.32C118.91 96.62 118.87 96.92 118.82 97.21C118.77 97.51 118.71 97.8 118.66 98.1C118.61 98.39 118.56 98.69 118.54 98.99C118.52 99.28 118.52 99.59 118.54 99.88C118.57 100.18 118.63 100.48 118.67 100.77C118.72 101.07 118.8 101.36 118.83 101.66C118.86 101.95 118.9 102.25 118.88 102.55C118.86 102.85 118.82 103.15 118.73 103.43C118.64 103.72 118.51 103.99 118.35 104.24C118.18 104.49 117.97 104.71 117.75 104.91C117.52 105.1 117.26 105.25 116.99 105.38C116.72 105.51 116.43 105.61 116.15 105.69C115.86 105.77 115.56 105.81 115.27 105.86C114.97 105.91 114.67 105.95 114.38 106C114.09 106.06 113.79 106.12 113.5 106.2C113.22 106.28 112.94 106.39 112.65 106.48C112.37 106.57 112.08 106.72 111.79 106.73C111.51 106.74 111.17 106.69 110.94 106.54C110.72 106.38 110.56 106.07 110.44 105.81C110.31 105.54 110.25 105.24 110.19 104.95C110.12 104.66 110.08 104.36 110.06 104.06C110.03 103.76 110.02 103.46 110.03 103.16C110.03 102.86 110.06 102.56 110.1 102.27C110.14 101.97 110.19 101.68 110.26 101.38C110.32 101.09 110.41 100.8 110.5 100.52C110.59 100.23 110.69 99.95 110.8 99.67C110.91 99.4 111.03 99.12 111.16 98.85C111.29 98.58 111.43 98.31 111.57 98.05C111.71 97.79 111.87 97.53 112.03 97.28C112.18 97.02 112.35 96.77 112.52 96.53C112.7 96.29 112.88 96.05 113.07 95.82C113.26 95.59 113.46 95.36 113.66 95.14C113.87 94.93 114.08 94.72 114.31 94.52C114.53 94.32 114.76 94.13 115.01 93.96C115.25 93.78 115.51 93.62 115.76 93.47C116.01 93.31 116.3 93.2 116.54 93.02C116.77 92.84 117.03 92.64 117.16 92.39C117.29 92.14 117.3 91.81 117.33 91.51C117.36 91.22 117.34 90.91 117.35 90.61C117.35 90.31 117.35 90.01 117.38 89.72C117.41 89.42 117.44 89.12 117.5 88.83C117.57 88.54 117.66 88.25 117.77 87.97C117.88 87.7 118.02 87.43 118.18 87.17C118.34 86.92 118.53 86.68 118.73 86.47C118.93 86.25 119.16 86.05 119.4 85.86C119.63 85.68 119.89 85.52 120.15 85.38C120.41 85.24 120.69 85.12 120.97 85.01C121.25 84.91 121.54 84.82 121.83 84.75C122.12 84.68 122.41 84.63 122.71 84.58C123 84.53 123.3 84.5 123.6 84.46C123.9 84.43 124.2 84.4 124.49 84.38Z"/>
<path d="M118.97 207.12C119.25 207.03 119.56 206.96 119.85 206.93C120.15 206.91 120.46 206.92 120.75 206.96C121.05 207 121.34 207.08 121.62 207.19C121.9 207.3 122.17 207.45 122.41 207.63C122.65 207.8 122.88 208.01 123.07 208.24C123.26 208.46 123.43 208.72 123.56 208.99C123.68 209.26 123.78 209.55 123.84 209.84C123.89 210.13 123.91 210.44 123.89 210.74C123.86 211.04 123.8 211.34 123.7 211.62C123.6 211.9 123.46 212.17 123.28 212.41C123.11 212.66 122.9 212.88 122.67 213.07C122.44 213.26 122.18 213.42 121.91 213.55C121.64 213.68 121.35 213.78 121.06 213.84C120.77 213.9 120.46 213.93 120.16 213.93C119.87 213.92 119.56 213.88 119.27 213.8C118.99 213.72 118.7 213.61 118.44 213.47C118.18 213.32 117.93 213.14 117.71 212.94C117.49 212.74 117.29 212.51 117.13 212.26C116.97 212.01 116.83 211.73 116.74 211.45C116.64 211.16 116.59 210.86 116.57 210.56C116.56 210.27 116.58 209.96 116.65 209.67C116.71 209.38 116.82 209.09 116.96 208.83C117.09 208.56 117.27 208.31 117.47 208.09C117.68 207.87 117.91 207.67 118.16 207.51C118.41 207.35 118.69 207.22 118.97 207.12Z"/>
<path d="M126.76 215.38C127.03 215.26 127.35 215.2 127.65 215.19C127.95 215.18 128.26 215.24 128.54 215.34C128.82 215.44 129.1 215.6 129.33 215.79C129.56 215.98 129.76 216.23 129.91 216.49C130.06 216.75 130.16 217.05 130.21 217.34C130.25 217.64 130.24 217.96 130.17 218.25C130.11 218.54 129.98 218.84 129.82 219.08C129.65 219.33 129.42 219.56 129.17 219.72C128.92 219.88 128.63 220.01 128.34 220.07C128.04 220.13 127.72 220.14 127.43 220.09C127.13 220.04 126.83 219.93 126.57 219.78C126.32 219.64 126.07 219.43 125.88 219.2C125.69 218.97 125.53 218.69 125.43 218.41C125.34 218.13 125.29 217.81 125.3 217.51C125.31 217.22 125.38 216.9 125.5 216.63C125.61 216.35 125.79 216.09 126.01 215.88C126.22 215.67 126.49 215.49 126.76 215.38Z"/>
<path d="M138.63 223.12C138.91 223.08 139.24 223.12 139.49 223.22C139.75 223.32 140.01 223.53 140.18 223.75C140.34 223.97 140.45 224.29 140.46 224.56C140.47 224.84 140.39 225.16 140.24 225.4C140.1 225.64 139.85 225.86 139.6 225.98C139.35 226.1 139.03 226.15 138.75 226.12C138.47 226.09 138.17 225.96 137.95 225.79C137.73 225.62 137.53 225.36 137.44 225.1C137.34 224.84 137.33 224.5 137.4 224.23C137.47 223.97 137.65 223.69 137.85 223.5C138.06 223.32 138.36 223.17 138.63 223.12Z"/>
<path d="M122.12 85.62C122.41 85.59 122.71 85.57 123.01 85.57C123.3 85.57 123.6 85.6 123.9 85.63C124.19 85.67 124.49 85.72 124.78 85.77C125.08 85.82 125.37 85.88 125.66 85.94C125.95 85.99 126.25 86.04 126.54 86.08C126.83 86.13 127.13 86.16 127.43 86.2C127.72 86.24 128.02 86.27 128.31 86.31C128.61 86.36 128.9 86.41 129.19 86.48C129.48 86.55 129.77 86.63 130.05 86.72C130.34 86.8 130.62 86.9 130.9 87C131.18 87.09 131.46 87.19 131.75 87.28C132.03 87.38 132.31 87.46 132.6 87.55C132.88 87.64 133.17 87.73 133.45 87.83C133.73 87.92 134.01 88.02 134.29 88.13C134.57 88.24 134.84 88.36 135.1 88.49C135.37 88.63 135.63 88.78 135.87 88.95C136.12 89.12 136.35 89.31 136.57 89.51C136.78 89.72 136.98 89.94 137.16 90.18C137.34 90.42 137.5 90.67 137.63 90.94C137.76 91.21 137.86 91.49 137.93 91.78C138.01 92.06 138.05 92.36 138.06 92.66C138.07 92.95 138.05 93.26 138 93.55C137.94 93.84 137.85 94.13 137.73 94.4C137.61 94.67 137.46 94.93 137.28 95.17C137.1 95.4 136.89 95.63 136.67 95.81C136.44 96 136.18 96.17 135.92 96.3C135.66 96.43 135.37 96.53 135.08 96.6C134.79 96.67 134.49 96.71 134.2 96.71C133.9 96.71 133.6 96.68 133.31 96.62C133.02 96.56 132.73 96.47 132.46 96.36C132.18 96.25 131.91 96.11 131.66 95.96C131.4 95.81 131.16 95.64 130.92 95.46C130.68 95.28 130.45 95.09 130.22 94.9C129.99 94.71 129.77 94.51 129.54 94.32C129.31 94.14 129.08 93.94 128.83 93.78C128.58 93.61 128.33 93.45 128.05 93.34C127.78 93.23 127.49 93.14 127.2 93.1C126.91 93.06 126.6 93.08 126.31 93.11C126.01 93.14 125.72 93.21 125.43 93.28C125.14 93.34 124.85 93.42 124.56 93.49C124.27 93.55 123.98 93.61 123.68 93.66C123.39 93.7 123.09 93.73 122.79 93.74C122.5 93.75 122.2 93.75 121.9 93.72C121.61 93.69 121.31 93.64 121.02 93.58C120.73 93.52 120.44 93.45 120.16 93.34C119.88 93.23 119.6 93.11 119.36 92.94C119.13 92.77 118.91 92.55 118.74 92.31C118.57 92.07 118.45 91.78 118.36 91.5C118.26 91.22 118.2 90.93 118.16 90.63C118.12 90.34 118.11 90.04 118.13 89.74C118.15 89.44 118.18 89.14 118.25 88.86C118.33 88.57 118.43 88.29 118.56 88.02C118.7 87.76 118.86 87.5 119.04 87.27C119.23 87.04 119.44 86.82 119.67 86.64C119.9 86.45 120.16 86.28 120.42 86.15C120.68 86.01 120.96 85.9 121.24 85.81C121.53 85.72 121.82 85.66 122.12 85.62Z"/>
<path d="M115.85 95.62C116.13 95.6 116.48 95.64 116.7 95.79C116.92 95.94 117.06 96.26 117.16 96.53C117.26 96.79 117.27 97.11 117.3 97.4C117.33 97.7 117.33 98 117.36 98.29C117.39 98.58 117.42 98.88 117.47 99.17C117.52 99.46 117.6 99.75 117.67 100.04C117.73 100.33 117.82 100.61 117.89 100.9C117.95 101.19 118.02 101.48 118.05 101.77C118.08 102.07 118.1 102.37 118.06 102.66C118.02 102.95 117.93 103.25 117.8 103.5C117.67 103.76 117.48 104.01 117.27 104.21C117.05 104.41 116.79 104.57 116.52 104.69C116.26 104.81 115.96 104.89 115.67 104.94C115.38 104.99 115.08 105.01 114.79 105.01C114.49 105.01 114.19 104.99 113.9 104.94C113.61 104.89 113.31 104.84 113.04 104.73C112.77 104.62 112.49 104.48 112.27 104.3C112.05 104.11 111.86 103.86 111.73 103.6C111.6 103.34 111.52 103.04 111.48 102.75C111.43 102.46 111.43 102.16 111.45 101.86C111.47 101.57 111.53 101.28 111.6 100.99C111.66 100.7 111.76 100.42 111.86 100.14C111.96 99.86 112.08 99.59 112.22 99.33C112.35 99.06 112.49 98.8 112.64 98.55C112.8 98.29 112.96 98.05 113.14 97.81C113.31 97.57 113.5 97.34 113.69 97.11C113.89 96.89 114.1 96.68 114.32 96.48C114.54 96.29 114.78 96.1 115.03 95.96C115.29 95.81 115.58 95.65 115.85 95.62Z"/>
<path d="M119.35 207.88C119.63 207.79 119.94 207.74 120.23 207.75C120.52 207.75 120.82 207.8 121.1 207.89C121.37 207.98 121.65 208.12 121.88 208.29C122.12 208.46 122.33 208.68 122.5 208.92C122.66 209.16 122.8 209.44 122.87 209.72C122.95 210 122.98 210.31 122.95 210.6C122.93 210.88 122.84 211.18 122.72 211.45C122.59 211.71 122.41 211.96 122.21 212.16C122 212.37 121.75 212.54 121.49 212.67C121.23 212.8 120.93 212.89 120.64 212.94C120.36 212.98 120.05 212.98 119.76 212.93C119.47 212.88 119.18 212.79 118.92 212.66C118.66 212.53 118.41 212.34 118.21 212.14C118.01 211.93 117.83 211.68 117.71 211.41C117.58 211.15 117.5 210.85 117.48 210.56C117.45 210.27 117.48 209.96 117.56 209.68C117.63 209.41 117.77 209.12 117.94 208.89C118.1 208.65 118.33 208.44 118.56 208.27C118.8 208.1 119.08 207.96 119.35 207.88Z"/>
<path d="M121.13 86.88C121.41 86.77 121.72 86.7 122.02 86.68C122.32 86.65 122.63 86.66 122.93 86.71C123.23 86.76 123.53 86.85 123.8 86.98C124.08 87.1 124.35 87.26 124.58 87.46C124.81 87.65 125.02 87.88 125.19 88.13C125.35 88.38 125.48 88.68 125.56 88.97C125.63 89.25 125.67 89.57 125.66 89.87C125.64 90.17 125.58 90.48 125.48 90.76C125.37 91.04 125.2 91.31 125.01 91.55C124.82 91.78 124.59 91.99 124.34 92.16C124.09 92.33 123.81 92.46 123.52 92.57C123.24 92.67 122.93 92.74 122.63 92.77C122.33 92.8 122.02 92.8 121.72 92.76C121.42 92.72 121.12 92.64 120.84 92.53C120.56 92.41 120.29 92.26 120.06 92.07C119.83 91.88 119.61 91.64 119.46 91.38C119.3 91.13 119.19 90.83 119.12 90.54C119.05 90.25 119.02 89.93 119.04 89.63C119.06 89.33 119.13 89.02 119.24 88.74C119.34 88.46 119.49 88.18 119.68 87.94C119.86 87.7 120.08 87.48 120.33 87.3C120.57 87.13 120.85 86.98 121.13 86.88Z"/>
<path d="M132.38 89.88C132.66 89.76 132.96 89.7 133.26 89.67C133.55 89.65 133.86 89.67 134.15 89.72C134.45 89.77 134.74 89.87 135.01 89.99C135.28 90.12 135.54 90.29 135.77 90.48C136 90.67 136.21 90.9 136.38 91.14C136.54 91.39 136.68 91.67 136.77 91.95C136.86 92.23 136.91 92.54 136.91 92.84C136.9 93.13 136.85 93.44 136.75 93.72C136.66 94 136.51 94.28 136.33 94.51C136.15 94.75 135.92 94.96 135.67 95.12C135.42 95.28 135.13 95.41 134.85 95.48C134.56 95.55 134.25 95.58 133.95 95.56C133.66 95.54 133.35 95.47 133.07 95.37C132.79 95.27 132.52 95.12 132.28 94.95C132.03 94.78 131.8 94.58 131.6 94.35C131.4 94.13 131.22 93.88 131.08 93.62C130.95 93.35 130.83 93.06 130.77 92.77C130.72 92.48 130.7 92.17 130.74 91.88C130.79 91.59 130.9 91.29 131.04 91.03C131.19 90.78 131.39 90.53 131.61 90.34C131.83 90.15 132.11 89.99 132.38 89.88Z"/>
<path d="M115.18 100.38C115.47 100.33 115.83 100.39 116.08 100.54C116.33 100.69 116.54 100.98 116.67 101.25C116.81 101.52 116.89 101.86 116.88 102.16C116.87 102.46 116.79 102.81 116.62 103.05C116.46 103.29 116.17 103.51 115.89 103.62C115.62 103.73 115.26 103.75 114.97 103.7C114.67 103.64 114.35 103.5 114.14 103.29C113.93 103.09 113.76 102.76 113.71 102.47C113.65 102.18 113.71 101.83 113.81 101.55C113.92 101.27 114.12 100.99 114.35 100.79C114.58 100.6 114.89 100.42 115.18 100.38Z"/>
<path d="M119.58 209.12C119.82 209.01 120.15 208.96 120.42 209.01C120.69 209.05 121 209.18 121.19 209.37C121.39 209.55 121.56 209.85 121.6 210.11C121.65 210.38 121.59 210.71 121.46 210.95C121.33 211.18 121.08 211.41 120.83 211.53C120.59 211.64 120.26 211.69 119.99 211.65C119.72 211.61 119.42 211.47 119.22 211.28C119.03 211.1 118.86 210.8 118.81 210.54C118.77 210.28 118.83 209.94 118.96 209.71C119.08 209.47 119.33 209.24 119.58 209.12Z"/>
<path d="M121.74 88.12C122.02 88.07 122.35 88.08 122.62 88.16C122.9 88.25 123.18 88.42 123.38 88.63C123.57 88.83 123.73 89.13 123.79 89.41C123.85 89.68 123.83 90.02 123.74 90.29C123.65 90.55 123.46 90.83 123.24 91.01C123.03 91.2 122.73 91.34 122.45 91.4C122.17 91.46 121.84 91.45 121.57 91.36C121.3 91.28 121.01 91.11 120.82 90.91C120.62 90.7 120.46 90.4 120.4 90.13C120.34 89.85 120.37 89.52 120.46 89.25C120.55 88.98 120.74 88.71 120.95 88.52C121.17 88.33 121.46 88.18 121.74 88.12Z"/>
<path d="M230.1 87C230.05 85.65 230.32 83.77 230.7 82.3C231.08 80.83 231.78 79.3 232.4 78.2C233.02 77.1 233.65 76.42 234.4 75.7C235.15 74.98 236.05 74.43 236.9 73.9C237.75 73.37 238.62 72.9 239.5 72.5C240.38 72.1 241.28 71.75 242.2 71.5C243.12 71.25 244.1 71 245 71C245.9 71 246.85 71.13 247.6 71.5C248.35 71.87 249.02 72.37 249.5 73.2C249.98 74.03 250.3 75.28 250.5 76.5C250.7 77.72 250.67 79.2 250.7 80.5C250.73 81.8 250.7 82.75 250.7 84.3C250.7 85.85 250.68 88.17 250.7 89.8C250.72 91.43 250.8 92.78 250.8 94.1C250.8 95.42 250.95 96.42 250.7 97.7C250.45 98.98 249.98 100.53 249.3 101.8C248.62 103.07 247.58 104.57 246.6 105.3C245.62 106.03 244.4 106.32 243.4 106.2C242.4 106.08 241.45 105.4 240.6 104.6C239.75 103.8 239.05 102.55 238.3 101.4C237.55 100.25 236.93 98.92 236.1 97.7C235.27 96.48 234.15 95.32 233.3 94.1C232.45 92.88 231.53 91.58 231 90.4C230.47 89.22 230.15 88.35 230.1 87Z"/>
<path d="M231.51 86.93C231.49 86.53 231.52 86.13 231.55 85.73C231.58 85.33 231.63 84.93 231.68 84.54C231.74 84.14 231.81 83.75 231.9 83.36C231.98 82.97 232.08 82.58 232.2 82.2C232.31 81.82 232.45 81.44 232.59 81.07C232.74 80.7 232.9 80.33 233.07 79.97C233.24 79.61 233.42 79.25 233.62 78.91C233.82 78.56 234.03 78.22 234.27 77.91C234.52 77.59 234.79 77.29 235.07 77.01C235.35 76.73 235.65 76.46 235.96 76.21C236.28 75.97 236.61 75.75 236.95 75.53C237.28 75.31 237.62 75.1 237.96 74.89C238.31 74.69 238.65 74.49 239.01 74.3C239.36 74.12 239.72 73.94 240.08 73.78C240.44 73.61 240.81 73.46 241.19 73.31C241.56 73.17 241.94 73.04 242.32 72.93C242.7 72.81 243.09 72.7 243.48 72.62C243.87 72.54 244.26 72.45 244.66 72.42C245.05 72.4 245.46 72.4 245.85 72.46C246.24 72.52 246.65 72.61 247 72.78C247.36 72.95 247.71 73.19 247.97 73.48C248.23 73.76 248.4 74.15 248.56 74.51C248.71 74.87 248.8 75.27 248.9 75.66C248.99 76.04 249.07 76.44 249.12 76.83C249.18 77.23 249.21 77.63 249.24 78.03C249.26 78.42 249.27 78.82 249.28 79.22C249.29 79.62 249.29 80.02 249.3 80.42C249.3 80.82 249.31 81.22 249.31 81.62C249.31 82.02 249.31 82.42 249.31 82.82C249.31 83.22 249.3 83.62 249.3 84.02C249.3 84.42 249.3 84.81 249.3 85.21C249.3 85.61 249.3 86.01 249.3 86.41C249.29 86.81 249.29 87.21 249.29 87.61C249.29 88.01 249.29 88.41 249.3 88.81C249.3 89.21 249.3 89.61 249.31 90.01C249.31 90.41 249.32 90.81 249.33 91.2C249.34 91.6 249.35 92 249.37 92.4C249.38 92.8 249.39 93.2 249.39 93.6C249.4 94 249.41 94.4 249.41 94.8C249.42 95.2 249.45 95.6 249.44 96C249.43 96.39 249.41 96.8 249.35 97.19C249.3 97.58 249.21 97.98 249.11 98.36C249.01 98.75 248.89 99.13 248.76 99.51C248.62 99.88 248.48 100.26 248.31 100.62C248.14 100.98 247.95 101.33 247.75 101.68C247.55 102.02 247.33 102.36 247.09 102.68C246.86 103 246.62 103.33 246.35 103.61C246.07 103.9 245.77 104.18 245.43 104.38C245.09 104.57 244.69 104.72 244.3 104.77C243.92 104.82 243.49 104.8 243.13 104.68C242.76 104.56 242.42 104.29 242.11 104.05C241.8 103.81 241.51 103.52 241.24 103.22C240.98 102.93 240.75 102.59 240.53 102.27C240.3 101.94 240.09 101.6 239.87 101.26C239.66 100.92 239.44 100.59 239.24 100.25C239.03 99.9 238.83 99.56 238.63 99.21C238.43 98.87 238.24 98.51 238.04 98.17C237.83 97.83 237.63 97.49 237.4 97.15C237.18 96.82 236.95 96.5 236.71 96.18C236.47 95.86 236.22 95.55 235.97 95.24C235.72 94.92 235.46 94.62 235.22 94.3C234.97 93.99 234.73 93.67 234.49 93.35C234.26 93.03 234.03 92.7 233.8 92.37C233.58 92.04 233.36 91.71 233.15 91.37C232.93 91.03 232.73 90.69 232.54 90.33C232.36 89.98 232.18 89.62 232.03 89.25C231.89 88.88 231.75 88.5 231.66 88.11C231.57 87.73 231.53 87.32 231.51 86.93Z"/>
<path d="M106.4 147C105.68 147.03 105.1 147.53 104.6 148C104.1 148.47 103.65 149.05 103.4 149.8C103.15 150.55 103.07 151.55 103.1 152.5C103.13 153.45 103.37 154.5 103.6 155.5C103.83 156.5 104.17 157.5 104.5 158.5C104.83 159.5 105.17 160.58 105.6 161.5C106.03 162.42 106.53 163.22 107.1 164C107.67 164.78 108.32 165.63 109 166.2C109.68 166.77 110.48 167.27 111.2 167.4C111.92 167.53 112.73 167.43 113.3 167C113.87 166.57 114.4 165.72 114.6 164.8C114.8 163.88 114.67 162.73 114.5 161.5C114.33 160.27 113.98 158.85 113.6 157.4C113.22 155.95 112.67 154.07 112.2 152.8C111.73 151.53 111.35 150.63 110.8 149.8C110.25 148.97 109.63 148.27 108.9 147.8C108.17 147.33 107.12 146.97 106.4 147Z"/>
<path d="M106.49 148.4C106.14 148.46 105.8 148.79 105.52 149.06C105.24 149.33 104.99 149.67 104.82 150.02C104.66 150.37 104.6 150.79 104.55 151.18C104.49 151.57 104.49 151.98 104.5 152.37C104.52 152.77 104.57 153.17 104.63 153.56C104.69 153.95 104.77 154.34 104.86 154.73C104.95 155.12 105.04 155.51 105.15 155.89C105.25 156.27 105.37 156.65 105.49 157.03C105.61 157.41 105.74 157.79 105.86 158.17C105.99 158.55 106.11 158.93 106.24 159.3C106.38 159.68 106.51 160.05 106.66 160.42C106.82 160.79 106.99 161.15 107.17 161.5C107.36 161.85 107.57 162.19 107.79 162.52C108 162.86 108.23 163.18 108.47 163.5C108.71 163.82 108.95 164.14 109.22 164.43C109.48 164.73 109.76 165.02 110.08 165.26C110.39 165.5 110.72 165.77 111.09 165.89C111.45 166.01 111.93 166.11 112.25 165.98C112.57 165.85 112.84 165.44 113.01 165.1C113.19 164.76 113.25 164.34 113.29 163.94C113.32 163.55 113.27 163.15 113.24 162.75C113.2 162.36 113.15 161.96 113.09 161.57C113.03 161.17 112.96 160.78 112.88 160.39C112.8 160 112.71 159.61 112.62 159.23C112.53 158.84 112.43 158.45 112.33 158.07C112.23 157.68 112.12 157.3 112.01 156.91C111.91 156.53 111.8 156.15 111.69 155.77C111.57 155.38 111.46 155 111.34 154.62C111.21 154.25 111.09 153.87 110.96 153.49C110.82 153.12 110.69 152.74 110.53 152.38C110.38 152.01 110.23 151.64 110.04 151.29C109.85 150.94 109.65 150.59 109.42 150.27C109.18 149.95 108.93 149.63 108.63 149.37C108.34 149.11 108 148.88 107.64 148.72C107.28 148.56 106.85 148.35 106.49 148.4Z"/>
<path d="M105 157.4C105 157.79 104.91 158.26 104.77 158.58C104.63 158.89 104.39 159.18 104.17 159.3C103.95 159.42 103.65 159.42 103.43 159.3C103.21 159.18 102.97 158.89 102.83 158.58C102.69 158.26 102.6 157.79 102.6 157.4C102.6 157.01 102.69 156.54 102.83 156.22C102.97 155.91 103.21 155.62 103.43 155.5C103.65 155.38 103.95 155.38 104.17 155.5C104.39 155.62 104.63 155.91 104.77 156.22C104.91 156.54 105 157.01 105 157.4Z"/>
<path d="M113 159.2C113 159.75 112.86 160.4 112.66 160.85C112.45 161.29 112.09 161.69 111.76 161.86C111.42 162.03 110.98 162.03 110.64 161.86C110.31 161.69 109.95 161.29 109.74 160.85C109.54 160.4 109.4 159.75 109.4 159.2C109.4 158.65 109.54 158 109.74 157.55C109.95 157.11 110.31 156.71 110.64 156.54C110.98 156.37 111.42 156.37 111.76 156.54C112.09 156.71 112.45 157.11 112.66 157.55C112.86 158 113 158.65 113 159.2Z"/>
<path d="M240.38 84.07C240.66 85.13 240.74 86.46 240.57 87.43C240.39 88.39 239.91 89.36 239.35 89.86C238.79 90.36 237.94 90.59 237.2 90.43C236.47 90.28 235.57 89.68 234.94 88.93C234.31 88.18 233.71 86.99 233.42 85.93C233.14 84.87 233.06 83.54 233.23 82.57C233.41 81.61 233.89 80.64 234.45 80.14C235.01 79.64 235.86 79.41 236.6 79.57C237.33 79.72 238.23 80.32 238.86 81.07C239.49 81.82 240.09 83.01 240.38 84.07Z"/>
<path d="M242.2 87.5C242.2 87.83 242.09 88.23 241.91 88.5C241.74 88.77 241.44 89.01 241.16 89.12C240.88 89.22 240.52 89.22 240.24 89.12C239.96 89.01 239.66 88.77 239.49 88.5C239.31 88.23 239.2 87.83 239.2 87.5C239.2 87.17 239.31 86.77 239.49 86.5C239.66 86.23 239.96 85.99 240.24 85.88C240.52 85.78 240.88 85.78 241.16 85.88C241.44 85.99 241.74 86.23 241.91 86.5C242.09 86.77 242.2 87.17 242.2 87.5Z"/>
<path d="M247.15 94.5C247.56 94.74 247.87 95.31 247.94 95.95C248.01 96.59 247.87 97.54 247.57 98.34C247.28 99.14 246.73 100.09 246.18 100.75C245.64 101.4 244.89 102 244.3 102.26C243.71 102.52 243.06 102.53 242.65 102.3C242.24 102.06 241.93 101.49 241.86 100.85C241.79 100.21 241.93 99.26 242.23 98.46C242.52 97.66 243.07 96.71 243.62 96.05C244.16 95.4 244.91 94.8 245.5 94.54C246.09 94.28 246.74 94.27 247.15 94.5Z"/>
<path d="M247.7 93.75C248.26 94.07 248.71 94.83 248.85 95.65C248.98 96.47 248.83 97.67 248.48 98.67C248.13 99.67 247.45 100.86 246.75 101.67C246.06 102.47 245.09 103.2 244.31 103.49C243.54 103.79 242.66 103.77 242.1 103.45C241.54 103.13 241.09 102.37 240.95 101.55C240.82 100.73 240.97 99.53 241.32 98.53C241.67 97.53 242.35 96.34 243.05 95.53C243.74 94.73 244.71 94 245.49 93.71C246.26 93.41 247.14 93.43 247.7 93.75Z"/>
<path d="M103.44 10.38C103.72 10.29 104.09 10.28 104.37 10.38C104.65 10.47 104.94 10.69 105.12 10.93C105.29 11.16 105.4 11.51 105.4 11.81C105.39 12.1 105.28 12.45 105.11 12.68C104.93 12.92 104.64 13.14 104.36 13.23C104.08 13.32 103.71 13.31 103.43 13.22C103.15 13.13 102.86 12.91 102.69 12.67C102.52 12.43 102.4 12.09 102.41 11.79C102.41 11.5 102.52 11.15 102.69 10.92C102.87 10.68 103.17 10.46 103.44 10.38Z" stroke-width="0.9"/>
<path d="M152.94 72.88C153.22 72.79 153.52 72.73 153.82 72.71C154.11 72.69 154.42 72.7 154.71 72.75C155.01 72.8 155.31 72.88 155.58 72.99C155.85 73.1 156.13 73.25 156.36 73.43C156.59 73.62 156.81 73.84 156.98 74.08C157.14 74.33 157.28 74.61 157.34 74.9C157.41 75.18 157.41 75.5 157.36 75.79C157.31 76.08 157.19 76.37 157.04 76.62C156.89 76.87 156.67 77.1 156.45 77.29C156.22 77.48 155.95 77.64 155.68 77.77C155.41 77.89 155.12 77.98 154.83 78.03C154.54 78.09 154.23 78.11 153.93 78.09C153.64 78.08 153.33 78.04 153.05 77.96C152.76 77.88 152.47 77.76 152.22 77.62C151.96 77.47 151.71 77.28 151.51 77.07C151.31 76.85 151.12 76.6 151 76.33C150.89 76.06 150.81 75.75 150.8 75.46C150.8 75.17 150.86 74.85 150.96 74.58C151.06 74.31 151.24 74.04 151.43 73.82C151.62 73.6 151.87 73.4 152.12 73.24C152.37 73.09 152.65 72.96 152.94 72.88Z" stroke-width="0.9"/>
<path d="M196.38 84.62C196.66 84.5 196.97 84.42 197.27 84.41C197.56 84.39 197.88 84.43 198.17 84.53C198.45 84.62 198.73 84.78 198.96 84.97C199.2 85.15 199.41 85.39 199.58 85.63C199.75 85.88 199.89 86.16 199.99 86.45C200.09 86.73 200.15 87.04 200.18 87.34C200.21 87.64 200.2 87.95 200.16 88.25C200.12 88.55 200.04 88.85 199.92 89.13C199.81 89.41 199.66 89.68 199.47 89.92C199.28 90.16 199.06 90.38 198.81 90.55C198.56 90.72 198.27 90.85 197.98 90.92C197.7 91 197.37 91.02 197.08 90.98C196.78 90.94 196.48 90.83 196.22 90.69C195.95 90.55 195.71 90.34 195.5 90.13C195.3 89.91 195.12 89.64 194.99 89.37C194.85 89.11 194.75 88.81 194.69 88.51C194.62 88.22 194.59 87.91 194.6 87.61C194.61 87.3 194.65 86.99 194.73 86.7C194.81 86.41 194.93 86.12 195.08 85.86C195.23 85.6 195.42 85.35 195.63 85.14C195.85 84.93 196.11 84.75 196.38 84.62Z" stroke-width="0.9"/>
<path d="M126.56 100.38C126.83 100.29 127.19 100.29 127.46 100.38C127.74 100.47 128.01 100.68 128.21 100.9C128.41 101.12 128.56 101.42 128.65 101.7C128.75 101.99 128.8 102.31 128.8 102.61C128.8 102.91 128.75 103.23 128.65 103.52C128.55 103.8 128.4 104.09 128.19 104.31C127.99 104.53 127.72 104.74 127.44 104.82C127.17 104.91 126.81 104.9 126.54 104.82C126.26 104.73 125.99 104.52 125.79 104.3C125.59 104.08 125.44 103.78 125.35 103.5C125.25 103.21 125.2 102.89 125.2 102.59C125.2 102.29 125.25 101.97 125.35 101.68C125.45 101.4 125.6 101.1 125.8 100.89C126 100.67 126.28 100.46 126.56 100.38Z" stroke-width="0.9"/>
<path d="M120.6 117.62C120.9 117.59 121.22 117.59 121.52 117.64C121.82 117.7 122.13 117.79 122.4 117.93C122.67 118.07 122.94 118.26 123.12 118.5C123.3 118.73 123.46 119.05 123.49 119.33C123.52 119.62 123.44 119.96 123.3 120.22C123.17 120.48 122.93 120.72 122.69 120.9C122.44 121.08 122.14 121.2 121.85 121.28C121.56 121.37 121.24 121.4 120.94 121.4C120.63 121.39 120.32 121.34 120.03 121.25C119.74 121.15 119.44 121.01 119.21 120.82C118.98 120.63 118.75 120.38 118.63 120.11C118.52 119.84 118.48 119.49 118.54 119.21C118.59 118.92 118.77 118.62 118.96 118.4C119.16 118.18 119.44 118 119.71 117.87C119.99 117.74 120.3 117.66 120.6 117.62Z" stroke-width="0.9"/>
<path d="M160.3 128.38C160.56 128.24 160.92 128.18 161.22 128.22C161.51 128.26 161.84 128.42 162.05 128.63C162.25 128.83 162.42 129.16 162.47 129.45C162.52 129.74 162.47 130.1 162.34 130.36C162.21 130.63 161.95 130.89 161.69 131.02C161.43 131.16 161.07 131.22 160.78 131.18C160.5 131.14 160.17 130.97 159.96 130.77C159.75 130.56 159.58 130.24 159.53 129.95C159.48 129.66 159.53 129.3 159.66 129.04C159.79 128.78 160.04 128.51 160.3 128.38Z" stroke-width="0.9"/>
<path d="M121.36 141.62C121.6 141.47 121.96 141.38 122.23 141.44C122.5 141.49 122.78 141.73 122.97 141.96C123.16 142.19 123.29 142.5 123.38 142.79C123.46 143.08 123.5 143.4 123.5 143.71C123.5 144.01 123.46 144.33 123.37 144.62C123.29 144.91 123.16 145.23 122.97 145.45C122.77 145.67 122.49 145.92 122.22 145.97C121.95 146.02 121.59 145.93 121.35 145.78C121.11 145.62 120.92 145.32 120.79 145.05C120.65 144.78 120.57 144.46 120.53 144.16C120.49 143.86 120.49 143.54 120.53 143.24C120.58 142.93 120.65 142.62 120.79 142.35C120.93 142.08 121.12 141.78 121.36 141.62Z" stroke-width="0.9"/>
<path d="M116.56 148.12C116.82 148.01 117.15 147.97 117.43 148.01C117.71 148.04 118.03 148.15 118.24 148.33C118.45 148.5 118.66 148.79 118.71 149.06C118.76 149.32 118.68 149.67 118.54 149.9C118.4 150.14 118.13 150.35 117.87 150.46C117.62 150.58 117.28 150.62 117 150.58C116.73 150.55 116.41 150.43 116.2 150.26C115.98 150.08 115.78 149.79 115.73 149.53C115.68 149.26 115.75 148.91 115.89 148.68C116.03 148.45 116.3 148.24 116.56 148.12Z" stroke-width="0.9"/>
<path d="M131.3 149.62C131.55 149.49 131.86 149.42 132.15 149.39C132.44 149.37 132.75 149.41 133.03 149.48C133.31 149.55 133.6 149.67 133.85 149.82C134.1 149.96 134.35 150.15 134.55 150.36C134.76 150.57 134.95 150.81 135.09 151.06C135.23 151.32 135.35 151.61 135.39 151.9C135.43 152.18 135.42 152.51 135.33 152.78C135.25 153.05 135.08 153.33 134.87 153.52C134.66 153.71 134.37 153.86 134.09 153.94C133.81 154.01 133.5 154.02 133.21 154C132.92 153.97 132.62 153.89 132.35 153.78C132.08 153.67 131.81 153.51 131.58 153.33C131.35 153.16 131.13 152.94 130.95 152.71C130.78 152.47 130.62 152.21 130.52 151.93C130.43 151.66 130.37 151.35 130.39 151.06C130.41 150.77 130.5 150.46 130.65 150.22C130.8 149.98 131.05 149.76 131.3 149.62Z" stroke-width="0.9"/>
<path d="M146.63 161.12C146.92 161.07 147.28 161.13 147.54 161.25C147.81 161.38 148.08 161.63 148.22 161.89C148.36 162.15 148.42 162.51 148.38 162.8C148.34 163.09 148.19 163.42 147.98 163.63C147.78 163.84 147.46 164.02 147.17 164.07C146.88 164.12 146.52 164.07 146.26 163.95C145.99 163.82 145.73 163.57 145.59 163.31C145.45 163.05 145.38 162.69 145.42 162.4C145.45 162.11 145.61 161.78 145.82 161.57C146.02 161.36 146.34 161.18 146.63 161.12Z" stroke-width="0.9"/>
<path d="M113.92 182.12C114.19 182.08 114.51 182.11 114.77 182.2C115.04 182.29 115.31 182.46 115.5 182.66C115.69 182.86 115.85 183.14 115.93 183.41C116.01 183.67 116.02 183.99 115.96 184.26C115.9 184.54 115.77 184.83 115.59 185.04C115.42 185.26 115.16 185.45 114.9 185.56C114.65 185.67 114.33 185.72 114.05 185.69C113.78 185.67 113.48 185.57 113.24 185.42C113.01 185.27 112.78 185.04 112.64 184.8C112.5 184.56 112.42 184.25 112.41 183.97C112.39 183.69 112.46 183.38 112.58 183.13C112.69 182.88 112.9 182.63 113.12 182.46C113.35 182.29 113.64 182.17 113.92 182.12Z" stroke-width="0.9"/>
<path d="M314.74 183.88C315.03 183.8 315.36 183.78 315.66 183.83C315.95 183.88 316.26 184 316.51 184.17C316.76 184.33 316.99 184.56 317.15 184.81C317.31 185.06 317.43 185.37 317.47 185.67C317.52 185.96 317.5 186.29 317.42 186.58C317.34 186.87 317.19 187.16 317 187.39C316.81 187.62 316.55 187.83 316.29 187.96C316.02 188.1 315.7 188.18 315.4 188.2C315.11 188.21 314.78 188.15 314.5 188.04C314.22 187.94 313.95 187.75 313.74 187.54C313.53 187.33 313.35 187.05 313.25 186.77C313.14 186.5 313.09 186.17 313.1 185.87C313.12 185.58 313.21 185.26 313.35 184.99C313.49 184.73 313.7 184.47 313.93 184.29C314.16 184.1 314.46 183.95 314.74 183.88Z" stroke-width="0.9"/>
<path d="M119.09 190.12C119.36 190.03 119.67 189.99 119.95 190.01C120.24 190.03 120.54 190.12 120.79 190.25C121.04 190.39 121.28 190.59 121.46 190.81C121.63 191.04 121.77 191.32 121.84 191.6C121.91 191.87 121.91 192.19 121.86 192.47C121.81 192.75 121.69 193.04 121.53 193.28C121.37 193.51 121.15 193.73 120.91 193.88C120.67 194.03 120.37 194.14 120.09 194.18C119.8 194.22 119.49 194.19 119.22 194.11C118.94 194.03 118.67 193.88 118.45 193.7C118.23 193.52 118.04 193.27 117.91 193.01C117.79 192.76 117.71 192.45 117.7 192.17C117.69 191.88 117.75 191.57 117.86 191.31C117.96 191.04 118.14 190.78 118.35 190.59C118.55 190.39 118.82 190.22 119.09 190.12Z" stroke-width="0.9"/>
<path d="M263.87 201.12C264.16 201.09 264.47 201.09 264.76 201.13C265.06 201.17 265.35 201.24 265.63 201.35C265.9 201.45 266.17 201.6 266.42 201.77C266.66 201.94 266.89 202.14 267.08 202.36C267.27 202.58 267.45 202.83 267.58 203.1C267.72 203.36 267.83 203.65 267.9 203.93C267.96 204.22 268 204.52 268 204.82C268 205.11 267.96 205.42 267.89 205.7C267.81 205.99 267.7 206.27 267.57 206.53C267.43 206.79 267.25 207.04 267.06 207.26C266.86 207.48 266.63 207.69 266.39 207.85C266.14 208.02 265.87 208.16 265.59 208.26C265.32 208.37 265.02 208.44 264.73 208.47C264.44 208.51 264.13 208.51 263.84 208.47C263.54 208.43 263.25 208.36 262.97 208.25C262.7 208.14 262.43 208 262.18 207.83C261.94 207.66 261.72 207.46 261.52 207.24C261.33 207.02 261.15 206.76 261.02 206.5C260.88 206.24 260.77 205.95 260.7 205.67C260.64 205.38 260.6 205.08 260.6 204.78C260.6 204.49 260.64 204.18 260.71 203.9C260.78 203.61 260.9 203.33 261.03 203.07C261.17 202.81 261.35 202.55 261.54 202.33C261.74 202.11 261.97 201.91 262.21 201.75C262.46 201.58 262.73 201.44 263.01 201.34C263.28 201.23 263.58 201.16 263.87 201.12Z" stroke-width="0.9"/>
<path d="M288.07 212.62C288.36 212.55 288.67 212.51 288.97 212.5C289.26 212.49 289.57 212.51 289.86 212.57C290.15 212.62 290.45 212.71 290.72 212.82C291 212.93 291.27 213.08 291.52 213.25C291.76 213.41 292 213.61 292.2 213.82C292.41 214.04 292.6 214.28 292.75 214.54C292.91 214.79 293.04 215.06 293.15 215.34C293.25 215.62 293.32 215.92 293.36 216.22C293.4 216.51 293.41 216.82 293.39 217.12C293.37 217.41 293.31 217.71 293.23 218C293.15 218.29 293.03 218.57 292.89 218.83C292.75 219.09 292.58 219.35 292.38 219.58C292.19 219.8 291.97 220.01 291.73 220.2C291.5 220.38 291.24 220.54 290.97 220.67C290.7 220.8 290.41 220.91 290.13 220.98C289.84 221.05 289.53 221.09 289.23 221.1C288.94 221.11 288.63 221.09 288.34 221.03C288.05 220.98 287.75 220.89 287.48 220.78C287.2 220.67 286.93 220.52 286.68 220.36C286.44 220.19 286.2 219.99 286 219.77C285.79 219.56 285.6 219.32 285.45 219.07C285.29 218.81 285.16 218.54 285.06 218.26C284.95 217.98 284.88 217.68 284.84 217.38C284.8 217.09 284.79 216.78 284.81 216.48C284.83 216.19 284.89 215.89 284.97 215.6C285.05 215.31 285.17 215.03 285.31 214.77C285.45 214.51 285.62 214.25 285.82 214.03C286.01 213.8 286.23 213.59 286.47 213.4C286.7 213.22 286.96 213.06 287.23 212.93C287.5 212.8 287.79 212.7 288.07 212.62Z" stroke-width="0.9"/>
<path d="M261.08 215.38C261.37 215.3 261.69 215.28 261.99 215.3C262.28 215.33 262.59 215.42 262.87 215.54C263.14 215.65 263.41 215.82 263.65 216C263.9 216.18 264.12 216.39 264.32 216.62C264.53 216.84 264.71 217.09 264.87 217.34C265.03 217.6 265.18 217.87 265.29 218.15C265.41 218.43 265.51 218.73 265.57 219.02C265.64 219.32 265.69 219.62 265.7 219.93C265.71 220.23 265.7 220.54 265.64 220.84C265.59 221.13 265.51 221.44 265.38 221.71C265.25 221.98 265.09 222.25 264.88 222.47C264.68 222.68 264.42 222.88 264.15 223.01C263.88 223.14 263.57 223.21 263.27 223.23C262.97 223.26 262.66 223.22 262.37 223.14C262.08 223.07 261.79 222.94 261.53 222.79C261.26 222.64 261.02 222.45 260.79 222.25C260.57 222.05 260.36 221.82 260.17 221.58C259.99 221.34 259.83 221.08 259.69 220.81C259.55 220.54 259.43 220.25 259.34 219.97C259.25 219.68 259.18 219.38 259.14 219.08C259.1 218.78 259.08 218.47 259.11 218.16C259.13 217.86 259.18 217.55 259.27 217.27C259.36 216.98 259.48 216.69 259.65 216.44C259.82 216.19 260.03 215.95 260.27 215.78C260.51 215.6 260.8 215.45 261.08 215.38Z" stroke-width="0.9"/>
<path d="M140.79 284.62C141.05 284.49 141.37 284.39 141.66 284.4C141.94 284.41 142.26 284.53 142.51 284.69C142.75 284.84 142.97 285.09 143.13 285.33C143.3 285.58 143.41 285.87 143.49 286.16C143.57 286.45 143.6 286.76 143.6 287.06C143.59 287.36 143.55 287.67 143.46 287.95C143.37 288.24 143.24 288.53 143.06 288.76C142.89 289 142.66 289.24 142.41 289.38C142.15 289.52 141.83 289.6 141.54 289.59C141.26 289.58 140.94 289.47 140.69 289.31C140.45 289.16 140.23 288.91 140.07 288.67C139.9 288.42 139.79 288.13 139.71 287.84C139.63 287.55 139.6 287.24 139.6 286.94C139.61 286.64 139.65 286.33 139.74 286.05C139.83 285.76 139.96 285.47 140.13 285.24C140.31 285 140.54 284.76 140.79 284.62Z" stroke-width="0.9"/>
<path d="M197.35 86.62C197.54 86.61 197.77 86.71 197.92 86.83C198.07 86.95 198.2 87.16 198.25 87.34C198.31 87.53 198.32 87.77 198.28 87.96C198.23 88.15 198.13 88.37 197.99 88.5C197.86 88.63 197.64 88.75 197.45 88.76C197.26 88.78 197.02 88.7 196.87 88.58C196.72 88.46 196.6 88.25 196.55 88.06C196.49 87.87 196.48 87.63 196.52 87.44C196.57 87.25 196.66 87.03 196.8 86.89C196.94 86.76 197.16 86.64 197.35 86.62Z" stroke-width="0.9"/>
<path d="M288.36 214.62C288.64 214.53 288.96 214.49 289.25 214.51C289.54 214.53 289.85 214.61 290.11 214.74C290.38 214.87 290.63 215.07 290.82 215.29C291.02 215.51 291.18 215.78 291.27 216.06C291.37 216.34 291.41 216.66 291.39 216.95C291.37 217.24 291.29 217.55 291.16 217.81C291.03 218.08 290.84 218.33 290.62 218.52C290.4 218.72 290.12 218.88 289.84 218.97C289.56 219.07 289.24 219.11 288.95 219.09C288.66 219.07 288.35 218.99 288.09 218.86C287.82 218.73 287.57 218.54 287.37 218.32C287.18 218.1 287.02 217.82 286.93 217.54C286.83 217.26 286.79 216.94 286.81 216.65C286.83 216.36 286.91 216.05 287.04 215.79C287.17 215.53 287.37 215.27 287.58 215.08C287.8 214.88 288.08 214.72 288.36 214.62Z" stroke-width="0.9"/>
<path d="M261.11 216.88C261.35 216.73 261.68 216.66 261.96 216.66C262.25 216.66 262.56 216.75 262.82 216.87C263.09 216.99 263.34 217.18 263.55 217.39C263.76 217.59 263.95 217.83 264.1 218.09C264.25 218.34 264.37 218.62 264.46 218.9C264.54 219.18 264.6 219.49 264.6 219.78C264.6 220.07 264.57 220.39 264.48 220.66C264.39 220.93 264.23 221.22 264.03 221.42C263.83 221.63 263.55 221.8 263.28 221.87C263 221.95 262.67 221.93 262.39 221.86C262.11 221.8 261.83 221.65 261.59 221.48C261.35 221.31 261.13 221.09 260.95 220.86C260.77 220.63 260.61 220.37 260.49 220.1C260.38 219.83 260.29 219.54 260.24 219.25C260.2 218.96 260.18 218.64 260.22 218.36C260.27 218.07 260.36 217.76 260.5 217.51C260.65 217.27 260.87 217.02 261.11 216.88Z" stroke-width="0.9"/>
</g>
<g fill="none" stroke="#f00" stroke-width="0.75">
<path d="M121.49 86.12C121.78 86.09 122.09 86.09 122.39 86.13C122.68 86.17 122.98 86.25 123.26 86.36C123.54 86.47 123.81 86.62 124.05 86.79C124.29 86.96 124.52 87.17 124.72 87.39C124.91 87.62 125.09 87.87 125.22 88.14C125.36 88.4 125.46 88.69 125.53 88.98C125.6 89.27 125.64 89.58 125.64 89.88C125.63 90.17 125.59 90.48 125.52 90.77C125.45 91.06 125.33 91.35 125.19 91.61C125.06 91.87 124.88 92.12 124.68 92.35C124.49 92.58 124.26 92.78 124.03 92.97C123.8 93.17 123.55 93.33 123.31 93.51C123.07 93.69 122.76 93.84 122.61 94.07C122.45 94.31 122.35 94.64 122.38 94.91C122.41 95.18 122.57 95.51 122.76 95.72C122.95 95.93 123.24 96.09 123.52 96.17C123.79 96.24 124.12 96.18 124.42 96.15C124.71 96.12 125.01 96.06 125.3 95.98C125.59 95.91 125.89 95.83 126.16 95.71C126.43 95.58 126.69 95.42 126.93 95.24C127.16 95.06 127.37 94.83 127.58 94.62C127.8 94.41 128 94.18 128.22 93.98C128.44 93.78 128.67 93.58 128.91 93.4C129.14 93.21 129.4 93.04 129.63 92.86C129.87 92.67 130.11 92.49 130.33 92.29C130.55 92.08 130.75 91.86 130.96 91.64C131.17 91.42 131.36 91.19 131.59 90.99C131.81 90.79 132.04 90.59 132.29 90.44C132.55 90.28 132.82 90.14 133.1 90.04C133.39 89.95 133.69 89.9 133.99 89.88C134.29 89.87 134.6 89.89 134.89 89.96C135.17 90.03 135.46 90.14 135.72 90.29C135.98 90.44 136.23 90.63 136.43 90.84C136.64 91.05 136.82 91.31 136.96 91.57C137.09 91.84 137.19 92.13 137.25 92.42C137.31 92.71 137.32 93.02 137.29 93.32C137.26 93.61 137.18 93.92 137.07 94.19C136.96 94.47 136.8 94.73 136.61 94.97C136.43 95.2 136.21 95.41 135.97 95.6C135.73 95.78 135.47 95.93 135.2 96.06C134.94 96.2 134.65 96.31 134.38 96.43C134.1 96.56 133.82 96.67 133.56 96.82C133.3 96.96 133.05 97.14 132.81 97.31C132.56 97.49 132.34 97.69 132.1 97.87C131.86 98.05 131.62 98.23 131.36 98.39C131.11 98.56 130.85 98.71 130.59 98.86C130.32 99 130.05 99.13 129.78 99.25C129.5 99.37 129.23 99.49 128.95 99.6C128.67 99.71 128.39 99.82 128.1 99.91C127.81 100 127.52 100.09 127.23 100.15C126.93 100.21 126.63 100.25 126.34 100.27C126.04 100.29 125.73 100.28 125.43 100.25C125.14 100.21 124.84 100.15 124.55 100.06C124.27 99.98 123.99 99.85 123.72 99.73C123.44 99.6 123.19 99.43 122.92 99.3C122.65 99.17 122.37 99.03 122.08 98.97C121.79 98.92 121.48 98.95 121.19 98.97C120.89 99 120.59 99.07 120.3 99.13C120 99.19 119.68 99.22 119.42 99.35C119.17 99.48 118.86 99.66 118.77 99.9C118.67 100.14 118.82 100.49 118.86 100.79C118.91 101.08 119 101.38 119.03 101.67C119.07 101.97 119.1 102.27 119.09 102.57C119.08 102.87 119.04 103.18 118.98 103.47C118.91 103.76 118.81 104.04 118.69 104.32C118.57 104.6 118.42 104.86 118.27 105.12C118.13 105.38 117.93 105.63 117.82 105.9C117.71 106.18 117.6 106.48 117.62 106.76C117.65 107.04 117.84 107.32 117.98 107.58C118.13 107.84 118.33 108.07 118.49 108.33C118.65 108.58 118.81 108.84 118.95 109.11C119.08 109.37 119.2 109.65 119.31 109.93C119.41 110.21 119.49 110.51 119.56 110.8C119.62 111.09 119.67 111.39 119.7 111.69C119.74 111.99 119.75 112.29 119.76 112.59C119.77 112.89 119.76 113.19 119.75 113.49C119.74 113.79 119.72 114.09 119.7 114.39C119.68 114.69 119.65 114.99 119.63 115.29C119.61 115.59 119.59 115.89 119.57 116.19C119.55 116.49 119.54 116.79 119.51 117.09C119.47 117.39 119.44 117.69 119.38 117.98C119.32 118.28 119.25 118.57 119.14 118.85C119.03 119.13 118.89 119.41 118.72 119.65C118.56 119.9 118.35 120.13 118.12 120.32C117.89 120.51 117.63 120.67 117.35 120.78C117.08 120.9 116.77 120.97 116.48 120.98C116.18 121 115.87 120.97 115.58 120.9C115.3 120.82 115.01 120.69 114.76 120.53C114.51 120.37 114.28 120.16 114.09 119.93C113.9 119.71 113.73 119.45 113.6 119.18C113.47 118.91 113.37 118.62 113.3 118.33C113.22 118.04 113.18 117.74 113.13 117.44C113.09 117.15 113.07 116.85 113.05 116.55C113.03 116.25 113.01 115.94 112.99 115.64C112.97 115.34 112.95 115.04 112.93 114.74C112.91 114.44 112.89 114.14 112.87 113.84C112.86 113.54 112.84 113.24 112.84 112.94C112.84 112.64 112.84 112.34 112.87 112.04C112.89 111.74 112.92 111.44 112.97 111.15C113.03 110.85 113.09 110.56 113.18 110.27C113.27 109.98 113.37 109.7 113.49 109.42C113.61 109.15 113.75 108.88 113.9 108.62C114.04 108.35 114.22 108.1 114.35 107.84C114.48 107.57 114.66 107.28 114.68 107C114.69 106.72 114.56 106.42 114.43 106.15C114.31 105.89 114.07 105.67 113.9 105.43C113.72 105.19 113.54 104.95 113.38 104.69C113.23 104.43 113.09 104.16 112.99 103.88C112.89 103.6 112.82 103.3 112.79 103C112.76 102.7 112.77 102.39 112.82 102.1C112.87 101.81 112.97 101.51 113.1 101.25C113.23 100.98 113.4 100.72 113.6 100.5C113.8 100.28 114.03 100.08 114.28 99.91C114.53 99.75 114.81 99.62 115.08 99.5C115.36 99.39 115.66 99.32 115.94 99.23C116.23 99.14 116.58 99.13 116.81 98.97C117.03 98.82 117.23 98.57 117.31 98.31C117.38 98.04 117.25 97.71 117.24 97.41C117.23 97.11 117.21 96.8 117.24 96.51C117.27 96.21 117.33 95.91 117.42 95.62C117.52 95.34 117.67 95.07 117.82 94.82C117.98 94.56 118.19 94.34 118.35 94.09C118.52 93.84 118.75 93.6 118.82 93.32C118.9 93.05 118.85 92.73 118.8 92.44C118.75 92.14 118.6 91.87 118.52 91.58C118.43 91.29 118.33 91 118.28 90.71C118.22 90.42 118.19 90.11 118.19 89.81C118.2 89.51 118.23 89.21 118.3 88.92C118.38 88.63 118.49 88.34 118.63 88.08C118.76 87.82 118.94 87.56 119.14 87.34C119.34 87.12 119.57 86.91 119.81 86.75C120.06 86.58 120.33 86.43 120.61 86.33C120.89 86.23 121.19 86.16 121.49 86.12Z"/>
<path d="M253.99 112.12C254.28 112.06 254.58 112.02 254.87 112.01C255.17 111.99 255.47 112 255.76 112.03C256.06 112.05 256.35 112.1 256.64 112.17C256.93 112.25 257.22 112.34 257.49 112.45C257.76 112.57 258.03 112.7 258.29 112.85C258.54 113.01 258.79 113.18 259.01 113.37C259.24 113.56 259.46 113.77 259.66 113.99C259.86 114.21 260.04 114.44 260.2 114.69C260.37 114.94 260.51 115.2 260.64 115.47C260.77 115.74 260.87 116.02 260.96 116.3C261.04 116.59 261.1 116.88 261.14 117.18C261.18 117.47 261.21 117.77 261.2 118.06C261.2 118.36 261.17 118.66 261.13 118.95C261.08 119.25 261.01 119.54 260.93 119.82C260.84 120.11 260.73 120.38 260.6 120.65C260.48 120.92 260.33 121.18 260.17 121.44C260.02 121.69 259.84 121.93 259.66 122.16C259.48 122.4 259.28 122.62 259.09 122.85C258.9 123.08 258.7 123.3 258.51 123.53C258.33 123.77 258.14 124 257.99 124.26C257.84 124.51 257.7 124.78 257.59 125.06C257.49 125.33 257.42 125.62 257.35 125.91C257.28 126.2 257.23 126.5 257.18 126.79C257.12 127.08 257.07 127.37 257 127.66C256.93 127.95 256.86 128.24 256.76 128.52C256.66 128.8 256.55 129.08 256.41 129.34C256.27 129.61 256.11 129.86 255.93 130.1C255.75 130.33 255.54 130.55 255.31 130.74C255.09 130.93 254.83 131.1 254.56 131.22C254.3 131.34 254 131.43 253.71 131.47C253.42 131.51 253.11 131.51 252.82 131.46C252.53 131.42 252.24 131.32 251.98 131.19C251.71 131.06 251.46 130.88 251.24 130.69C251.01 130.5 250.81 130.27 250.64 130.04C250.46 129.8 250.31 129.54 250.18 129.27C250.05 129 249.95 128.72 249.87 128.44C249.78 128.15 249.72 127.86 249.68 127.56C249.64 127.27 249.63 126.97 249.62 126.67C249.62 126.38 249.63 126.08 249.65 125.78C249.67 125.48 249.71 125.19 249.74 124.89C249.77 124.6 249.82 124.3 249.84 124.01C249.87 123.71 249.89 123.41 249.88 123.11C249.88 122.82 249.85 122.52 249.81 122.23C249.77 121.93 249.71 121.64 249.65 121.35C249.59 121.06 249.51 120.77 249.45 120.48C249.39 120.19 249.32 119.89 249.28 119.6C249.23 119.31 249.19 119.01 249.17 118.71C249.16 118.42 249.15 118.12 249.17 117.82C249.19 117.53 249.22 117.23 249.28 116.94C249.33 116.65 249.41 116.36 249.51 116.08C249.6 115.79 249.72 115.52 249.86 115.26C250 114.99 250.15 114.74 250.33 114.5C250.5 114.26 250.69 114.03 250.9 113.81C251.11 113.6 251.33 113.4 251.57 113.22C251.81 113.04 252.06 112.88 252.32 112.74C252.58 112.6 252.85 112.47 253.13 112.37C253.41 112.27 253.7 112.19 253.99 112.12Z"/>
<path d="M102.76 154.38C103.04 154.28 103.34 154.22 103.64 154.2C103.93 154.18 104.24 154.21 104.53 154.27C104.82 154.34 105.11 154.44 105.38 154.57C105.65 154.7 105.9 154.87 106.14 155.06C106.37 155.24 106.59 155.45 106.81 155.65C107.03 155.85 107.22 156.14 107.47 156.26C107.72 156.39 108.04 156.45 108.31 156.4C108.58 156.35 108.84 156.12 109.09 155.96C109.35 155.81 109.59 155.62 109.85 155.48C110.12 155.34 110.39 155.21 110.68 155.13C110.96 155.05 111.27 154.99 111.57 154.99C111.86 154.99 112.17 155.04 112.45 155.13C112.73 155.22 113.01 155.37 113.25 155.53C113.5 155.7 113.72 155.91 113.92 156.13C114.12 156.35 114.29 156.61 114.43 156.87C114.57 157.13 114.69 157.42 114.78 157.7C114.87 157.99 114.93 158.28 114.96 158.58C115 158.88 115.01 159.18 114.99 159.48C114.98 159.78 114.94 160.08 114.87 160.37C114.8 160.66 114.7 160.95 114.58 161.22C114.46 161.49 114.31 161.76 114.13 162C113.96 162.24 113.75 162.47 113.53 162.66C113.3 162.85 113.04 163.02 112.77 163.14C112.5 163.26 112.2 163.35 111.91 163.38C111.61 163.41 111.3 163.4 111.01 163.34C110.72 163.27 110.43 163.16 110.18 163.02C109.92 162.87 109.68 162.68 109.46 162.48C109.24 162.28 109.05 162.04 108.87 161.8C108.69 161.56 108.54 161.3 108.38 161.04C108.22 160.79 108.11 160.49 107.92 160.27C107.73 160.05 107.5 159.78 107.24 159.72C106.99 159.65 106.66 159.81 106.38 159.9C106.1 159.99 105.84 160.16 105.56 160.26C105.27 160.37 104.99 160.47 104.7 160.53C104.41 160.59 104.1 160.62 103.8 160.61C103.51 160.61 103.2 160.57 102.92 160.48C102.63 160.4 102.35 160.27 102.1 160.11C101.85 159.95 101.61 159.75 101.41 159.53C101.22 159.31 101.05 159.05 100.92 158.79C100.79 158.52 100.69 158.22 100.65 157.93C100.6 157.64 100.59 157.33 100.62 157.03C100.66 156.74 100.73 156.44 100.85 156.17C100.96 155.89 101.12 155.63 101.31 155.4C101.49 155.17 101.72 154.95 101.96 154.78C102.2 154.61 102.48 154.47 102.76 154.38Z"/>
<path d="M303.59 177.62C303.89 177.61 304.19 177.6 304.49 177.59C304.79 177.59 305.09 177.6 305.39 177.62C305.69 177.63 305.99 177.66 306.29 177.69C306.58 177.73 306.88 177.78 307.17 177.85C307.46 177.92 307.76 178 308.03 178.12C308.31 178.24 308.6 178.37 308.82 178.56C309.04 178.74 309.27 178.99 309.36 179.26C309.45 179.52 309.43 179.86 309.35 180.14C309.28 180.41 309.08 180.67 308.9 180.91C308.72 181.14 308.49 181.35 308.26 181.54C308.03 181.73 307.78 181.91 307.53 182.07C307.28 182.24 307.02 182.39 306.76 182.54C306.5 182.68 306.23 182.81 305.96 182.94C305.68 183.07 305.41 183.18 305.13 183.3C304.85 183.41 304.57 183.51 304.28 183.61C304 183.71 303.71 183.8 303.43 183.88C303.14 183.97 302.85 184.05 302.56 184.12C302.27 184.2 301.98 184.27 301.68 184.33C301.39 184.4 301.09 184.46 300.8 184.51C300.5 184.57 300.21 184.61 299.91 184.67C299.62 184.72 299.32 184.77 299.03 184.84C298.74 184.91 298.43 184.97 298.17 185.09C297.9 185.22 297.61 185.37 297.42 185.58C297.22 185.79 297.08 186.09 297 186.37C296.91 186.65 296.92 186.96 296.92 187.26C296.93 187.56 296.97 187.86 297.04 188.15C297.1 188.44 297.19 188.74 297.3 189.01C297.41 189.29 297.56 189.55 297.71 189.81C297.86 190.07 298.04 190.32 298.2 190.57C298.35 190.83 298.53 191.08 298.65 191.35C298.77 191.62 298.89 191.91 298.93 192.2C298.96 192.49 298.95 192.81 298.87 193.09C298.8 193.38 298.65 193.66 298.48 193.9C298.31 194.14 298.09 194.36 297.86 194.55C297.63 194.74 297.37 194.9 297.11 195.05C296.85 195.19 296.57 195.31 296.29 195.42C296.01 195.52 295.72 195.61 295.43 195.68C295.14 195.75 294.84 195.81 294.55 195.85C294.25 195.89 293.95 195.91 293.65 195.93C293.35 195.94 293.05 195.94 292.75 195.94C292.45 195.93 292.15 195.91 291.85 195.9C291.55 195.89 291.25 195.87 290.95 195.87C290.65 195.88 290.35 195.88 290.05 195.92C289.75 195.96 289.46 196.02 289.17 196.09C288.87 196.17 288.59 196.27 288.31 196.36C288.02 196.45 287.74 196.56 287.45 196.66C287.17 196.75 286.88 196.85 286.59 196.92C286.31 197 286.01 197.07 285.72 197.13C285.42 197.18 285.12 197.22 284.83 197.24C284.53 197.27 284.22 197.27 283.93 197.25C283.63 197.24 283.33 197.2 283.03 197.15C282.74 197.09 282.44 197.02 282.16 196.92C281.88 196.83 281.6 196.71 281.33 196.58C281.06 196.44 280.8 196.29 280.56 196.12C280.31 195.94 280.08 195.75 279.86 195.54C279.65 195.34 279.44 195.11 279.26 194.87C279.08 194.63 278.92 194.38 278.78 194.11C278.65 193.85 278.53 193.56 278.44 193.28C278.35 193 278.28 192.7 278.24 192.4C278.2 192.11 278.18 191.8 278.19 191.5C278.21 191.21 278.24 190.9 278.31 190.61C278.37 190.32 278.46 190.03 278.58 189.75C278.69 189.48 278.83 189.21 278.98 188.95C279.14 188.7 279.32 188.46 279.52 188.23C279.72 188 279.93 187.79 280.16 187.6C280.39 187.41 280.64 187.23 280.89 187.08C281.15 186.92 281.42 186.78 281.7 186.67C281.97 186.55 282.26 186.46 282.55 186.38C282.84 186.31 283.14 186.25 283.43 186.22C283.73 186.18 284.03 186.17 284.33 186.18C284.63 186.19 284.93 186.21 285.23 186.26C285.52 186.31 285.82 186.38 286.11 186.46C286.39 186.55 286.68 186.65 286.95 186.77C287.23 186.89 287.49 187.03 287.76 187.17C288.02 187.31 288.28 187.48 288.54 187.62C288.8 187.77 289.05 187.95 289.32 188.07C289.59 188.18 289.9 188.33 290.18 188.33C290.46 188.32 290.79 188.21 291 188.04C291.21 187.86 291.35 187.55 291.46 187.28C291.56 187 291.6 186.69 291.63 186.39C291.66 186.1 291.65 185.79 291.63 185.49C291.62 185.19 291.57 184.9 291.55 184.6C291.53 184.3 291.49 184 291.51 183.7C291.53 183.4 291.57 183.1 291.66 182.81C291.76 182.53 291.9 182.26 292.07 182.01C292.23 181.77 292.44 181.54 292.66 181.34C292.87 181.13 293.11 180.94 293.36 180.77C293.6 180.6 293.86 180.44 294.12 180.3C294.38 180.15 294.66 180.02 294.93 179.89C295.2 179.76 295.47 179.64 295.75 179.52C296.03 179.41 296.3 179.29 296.58 179.19C296.87 179.08 297.15 178.98 297.43 178.88C297.72 178.78 298 178.69 298.29 178.6C298.57 178.51 298.86 178.43 299.15 178.35C299.44 178.27 299.73 178.2 300.03 178.14C300.32 178.07 300.61 178.01 300.91 177.95C301.2 177.9 301.5 177.85 301.8 177.8C302.09 177.76 302.39 177.72 302.69 177.69C302.99 177.66 303.29 177.64 303.59 177.62Z"/>
<path d="M263.5 202.62C263.77 202.54 264.08 202.49 264.38 202.5C264.67 202.51 264.97 202.57 265.25 202.67C265.52 202.78 265.79 202.93 266.02 203.12C266.24 203.3 266.45 203.54 266.6 203.79C266.75 204.04 266.87 204.33 266.94 204.61C267 204.9 267.01 205.21 266.98 205.5C266.95 205.79 266.87 206.09 266.74 206.35C266.62 206.62 266.44 206.87 266.23 207.08C266.03 207.29 265.78 207.48 265.52 207.61C265.26 207.74 264.96 207.83 264.67 207.87C264.38 207.91 264.07 207.9 263.78 207.85C263.5 207.79 263.2 207.68 262.95 207.54C262.7 207.39 262.46 207.19 262.27 206.97C262.07 206.75 261.91 206.48 261.8 206.21C261.69 205.94 261.62 205.64 261.6 205.35C261.59 205.06 261.62 204.75 261.7 204.46C261.78 204.18 261.92 203.9 262.08 203.66C262.25 203.42 262.47 203.2 262.7 203.03C262.94 202.85 263.22 202.71 263.5 202.62Z"/>
<path d="M125.8 211.12C126.09 211.04 126.39 210.98 126.68 210.94C126.98 210.9 127.29 210.89 127.59 210.9C127.89 210.91 128.2 210.95 128.49 211.01C128.79 211.07 129.08 211.16 129.36 211.27C129.64 211.38 129.92 211.52 130.18 211.67C130.44 211.82 130.69 212 130.92 212.19C131.15 212.39 131.37 212.6 131.57 212.82C131.77 213.05 131.96 213.29 132.12 213.54C132.29 213.8 132.44 214.06 132.57 214.34C132.7 214.61 132.81 214.89 132.9 215.18C132.99 215.47 133.06 215.77 133.11 216.07C133.16 216.36 133.2 216.67 133.22 216.97C133.23 217.27 133.23 217.57 133.21 217.88C133.19 218.18 133.16 218.48 133.1 218.78C133.04 219.07 132.98 219.37 132.88 219.66C132.79 219.94 132.67 220.23 132.53 220.49C132.38 220.76 132.21 221.01 132.02 221.25C131.84 221.48 131.62 221.7 131.4 221.91C131.17 222.11 130.93 222.29 130.68 222.46C130.43 222.63 130.17 222.78 129.89 222.92C129.62 223.05 129.34 223.16 129.05 223.25C128.76 223.34 128.46 223.41 128.17 223.46C127.87 223.5 127.56 223.52 127.26 223.52C126.96 223.52 126.65 223.49 126.36 223.44C126.06 223.39 125.76 223.32 125.47 223.24C125.18 223.15 124.9 223.05 124.61 222.94C124.33 222.83 124.06 222.7 123.78 222.57C123.51 222.44 123.23 222.31 122.96 222.18C122.69 222.04 122.42 221.91 122.15 221.77C121.88 221.63 121.61 221.48 121.36 221.33C121.1 221.17 120.84 221.01 120.6 220.82C120.36 220.63 120.13 220.43 119.93 220.21C119.73 219.99 119.54 219.74 119.39 219.48C119.24 219.22 119.12 218.94 119.04 218.65C118.96 218.36 118.92 218.05 118.92 217.75C118.92 217.45 118.97 217.14 119.04 216.85C119.12 216.56 119.24 216.28 119.39 216.01C119.53 215.75 119.71 215.5 119.9 215.26C120.09 215.03 120.3 214.81 120.52 214.6C120.74 214.4 120.98 214.2 121.21 214.01C121.45 213.82 121.69 213.63 121.93 213.45C122.16 213.26 122.4 213.08 122.65 212.89C122.89 212.71 123.13 212.53 123.38 212.36C123.63 212.18 123.88 212.01 124.14 211.86C124.4 211.71 124.67 211.56 124.94 211.44C125.22 211.32 125.51 211.21 125.8 211.12Z"/>
<path d="M137.98 219.38C138.27 219.3 138.57 219.25 138.87 219.22C139.16 219.19 139.47 219.19 139.76 219.21C140.06 219.23 140.36 219.27 140.65 219.34C140.94 219.41 141.22 219.51 141.5 219.63C141.77 219.74 142.04 219.88 142.29 220.04C142.54 220.2 142.78 220.39 143 220.59C143.22 220.79 143.43 221.01 143.61 221.24C143.79 221.48 143.96 221.73 144.1 221.99C144.24 222.26 144.36 222.53 144.45 222.82C144.54 223.1 144.61 223.4 144.65 223.69C144.69 223.98 144.71 224.29 144.7 224.58C144.69 224.88 144.65 225.18 144.59 225.47C144.52 225.76 144.44 226.05 144.32 226.33C144.21 226.6 144.07 226.87 143.92 227.13C143.76 227.38 143.57 227.62 143.37 227.84C143.18 228.06 142.95 228.27 142.72 228.45C142.49 228.64 142.23 228.8 141.97 228.95C141.71 229.09 141.44 229.21 141.15 229.31C140.87 229.41 140.58 229.48 140.29 229.53C139.99 229.58 139.69 229.6 139.39 229.6C139.1 229.6 138.79 229.58 138.5 229.53C138.21 229.48 137.91 229.4 137.63 229.31C137.35 229.21 137.08 229.08 136.81 228.94C136.55 228.8 136.3 228.63 136.07 228.45C135.84 228.26 135.61 228.05 135.42 227.83C135.22 227.61 135.04 227.37 134.88 227.12C134.72 226.87 134.58 226.6 134.46 226.32C134.35 226.05 134.25 225.76 134.18 225.47C134.11 225.18 134.06 224.88 134.04 224.59C134.01 224.29 134.01 223.99 134.03 223.69C134.06 223.39 134.1 223.09 134.18 222.81C134.25 222.52 134.35 222.23 134.48 221.97C134.62 221.7 134.79 221.45 134.98 221.22C135.16 220.99 135.38 220.78 135.61 220.59C135.83 220.39 136.08 220.22 136.34 220.07C136.59 219.91 136.86 219.77 137.14 219.66C137.41 219.54 137.7 219.45 137.98 219.38Z"/>
<path d="M208.96 244.38C209.26 244.31 209.57 244.28 209.86 244.3C210.16 244.31 210.47 244.37 210.75 244.47C211.04 244.56 211.32 244.69 211.57 244.86C211.82 245.02 212.05 245.23 212.25 245.45C212.45 245.68 212.62 245.93 212.75 246.2C212.88 246.47 212.98 246.77 213.04 247.06C213.1 247.35 213.11 247.66 213.09 247.96C213.07 248.26 213 248.56 212.9 248.85C212.8 249.13 212.66 249.4 212.49 249.65C212.32 249.89 212.11 250.12 211.88 250.32C211.65 250.51 211.39 250.68 211.12 250.81C210.85 250.94 210.56 251.04 210.27 251.11C209.98 251.18 209.67 251.21 209.37 251.23C209.07 251.25 208.77 251.23 208.47 251.24C208.16 251.24 207.84 251.2 207.56 251.28C207.28 251.35 207 251.5 206.78 251.69C206.55 251.88 206.41 252.17 206.23 252.41C206.05 252.66 205.89 252.92 205.7 253.15C205.5 253.38 205.29 253.6 205.06 253.79C204.82 253.98 204.56 254.14 204.29 254.27C204.02 254.39 203.72 254.49 203.43 254.54C203.14 254.6 202.82 254.61 202.53 254.59C202.23 254.56 201.92 254.5 201.64 254.4C201.36 254.3 201.08 254.16 200.83 253.99C200.59 253.83 200.35 253.62 200.16 253.39C199.96 253.17 199.79 252.91 199.66 252.64C199.53 252.37 199.43 252.08 199.37 251.79C199.31 251.49 199.29 251.18 199.31 250.88C199.32 250.59 199.39 250.28 199.48 250C199.57 249.71 199.71 249.43 199.87 249.18C200.04 248.93 200.24 248.7 200.46 248.5C200.69 248.3 200.94 248.12 201.21 247.98C201.47 247.84 201.76 247.74 202.05 247.67C202.35 247.6 202.65 247.57 202.95 247.55C203.25 247.54 203.56 247.58 203.86 247.58C204.16 247.59 204.48 247.65 204.76 247.59C205.05 247.52 205.34 247.39 205.57 247.21C205.8 247.03 205.96 246.75 206.15 246.52C206.34 246.28 206.51 246.03 206.71 245.8C206.91 245.58 207.12 245.35 207.35 245.17C207.59 244.98 207.84 244.8 208.11 244.67C208.38 244.54 208.67 244.44 208.96 244.38Z"/>
<path d="M121.02 87.88C121.28 87.75 121.6 87.68 121.89 87.68C122.18 87.68 122.49 87.75 122.75 87.86C123.02 87.98 123.28 88.17 123.48 88.38C123.67 88.6 123.83 88.87 123.92 89.15C124.01 89.43 124.04 89.74 124.01 90.03C123.98 90.32 123.88 90.63 123.74 90.88C123.59 91.13 123.37 91.36 123.14 91.54C122.91 91.71 122.62 91.85 122.34 91.92C122.06 91.98 121.73 92 121.45 91.94C121.17 91.88 120.87 91.75 120.64 91.58C120.41 91.41 120.2 91.16 120.06 90.91C119.92 90.65 119.82 90.35 119.79 90.06C119.76 89.77 119.79 89.45 119.88 89.18C119.96 88.9 120.12 88.62 120.31 88.4C120.5 88.19 120.76 88 121.02 87.88Z"/>
<path d="M133.47 91.62C133.74 91.51 134.07 91.45 134.35 91.49C134.63 91.52 134.95 91.66 135.16 91.84C135.38 92.03 135.57 92.31 135.65 92.59C135.72 92.86 135.72 93.2 135.64 93.47C135.55 93.74 135.37 94.02 135.16 94.22C134.95 94.42 134.66 94.56 134.38 94.66C134.11 94.76 133.8 94.79 133.5 94.82C133.2 94.84 132.89 94.78 132.6 94.82C132.31 94.85 131.98 94.86 131.77 95.02C131.55 95.18 131.49 95.55 131.32 95.79C131.15 96.03 130.97 96.29 130.74 96.48C130.52 96.66 130.22 96.87 129.96 96.9C129.7 96.93 129.27 96.84 129.17 96.66C129.06 96.48 129.2 96.06 129.33 95.81C129.46 95.57 129.71 95.34 129.95 95.18C130.19 95.01 130.49 94.92 130.77 94.83C131.05 94.73 131.43 94.77 131.63 94.59C131.83 94.42 131.88 94.05 131.99 93.77C132.1 93.49 132.16 93.19 132.29 92.93C132.42 92.66 132.56 92.38 132.76 92.16C132.96 91.95 133.21 91.74 133.47 91.62Z"/>
<path d="M115.84 100.88C116.13 100.85 116.48 100.92 116.74 101.05C117 101.19 117.25 101.44 117.4 101.7C117.55 101.95 117.63 102.29 117.64 102.59C117.65 102.89 117.57 103.22 117.45 103.49C117.32 103.76 117.12 104.04 116.88 104.22C116.65 104.4 116.32 104.54 116.03 104.55C115.74 104.57 115.39 104.47 115.14 104.33C114.88 104.18 114.64 103.93 114.49 103.67C114.33 103.42 114.22 103.09 114.2 102.79C114.18 102.5 114.24 102.15 114.37 101.89C114.5 101.62 114.73 101.36 114.97 101.19C115.22 101.02 115.54 100.9 115.84 100.88Z"/>
<path d="M115.58 109.38C115.84 109.24 116.17 109.16 116.45 109.19C116.73 109.22 117.03 109.38 117.27 109.55C117.5 109.73 117.7 109.98 117.86 110.24C118.01 110.49 118.13 110.78 118.23 111.06C118.32 111.35 118.38 111.65 118.42 111.95C118.46 112.24 118.47 112.55 118.47 112.85C118.46 113.15 118.44 113.45 118.4 113.75C118.37 114.05 118.32 114.35 118.28 114.65C118.23 114.95 118.17 115.25 118.12 115.54C118.06 115.84 118.01 116.14 117.94 116.43C117.88 116.73 117.82 117.03 117.71 117.31C117.61 117.59 117.5 117.9 117.31 118.12C117.13 118.34 116.86 118.58 116.6 118.65C116.33 118.71 115.97 118.65 115.73 118.52C115.48 118.39 115.27 118.11 115.12 117.86C114.96 117.61 114.88 117.3 114.8 117.02C114.71 116.73 114.66 116.43 114.59 116.13C114.53 115.84 114.48 115.54 114.43 115.24C114.37 114.94 114.32 114.65 114.28 114.35C114.23 114.05 114.19 113.75 114.17 113.45C114.14 113.15 114.13 112.84 114.14 112.54C114.15 112.24 114.17 111.94 114.23 111.64C114.29 111.35 114.36 111.05 114.48 110.77C114.59 110.5 114.73 110.21 114.92 109.98C115.1 109.75 115.33 109.51 115.58 109.38Z"/>
<path d="M254.1 113.62C254.39 113.55 254.69 113.51 254.98 113.49C255.28 113.48 255.58 113.49 255.87 113.54C256.16 113.58 256.46 113.66 256.73 113.76C257.01 113.86 257.29 113.99 257.54 114.14C257.79 114.3 258.03 114.48 258.25 114.68C258.47 114.88 258.67 115.1 258.84 115.34C259.02 115.58 259.17 115.84 259.3 116.11C259.42 116.38 259.52 116.66 259.59 116.95C259.66 117.24 259.7 117.54 259.71 117.83C259.72 118.13 259.71 118.43 259.66 118.72C259.62 119.02 259.54 119.31 259.44 119.59C259.34 119.87 259.22 120.14 259.07 120.4C258.93 120.66 258.76 120.9 258.57 121.14C258.39 121.37 258.19 121.59 257.98 121.81C257.78 122.02 257.56 122.22 257.34 122.43C257.13 122.63 256.9 122.83 256.69 123.04C256.49 123.25 256.27 123.47 256.11 123.71C255.94 123.96 255.8 124.22 255.7 124.5C255.6 124.78 255.56 125.08 255.51 125.37C255.46 125.66 255.45 125.96 255.41 126.26C255.37 126.55 255.34 126.85 255.27 127.14C255.19 127.43 255.11 127.72 254.97 127.98C254.84 128.24 254.67 128.51 254.46 128.7C254.24 128.9 253.97 129.08 253.7 129.15C253.42 129.22 253.09 129.2 252.82 129.12C252.55 129.03 252.29 128.83 252.09 128.62C251.89 128.41 251.74 128.13 251.63 127.86C251.52 127.59 251.46 127.28 251.43 126.99C251.39 126.7 251.4 126.4 251.42 126.1C251.44 125.8 251.5 125.51 251.55 125.22C251.6 124.92 251.69 124.64 251.73 124.34C251.77 124.05 251.82 123.75 251.81 123.45C251.81 123.16 251.77 122.86 251.71 122.57C251.65 122.28 251.55 122 251.46 121.71C251.37 121.43 251.26 121.15 251.17 120.87C251.07 120.59 250.97 120.31 250.9 120.02C250.82 119.73 250.75 119.44 250.71 119.15C250.66 118.85 250.64 118.56 250.63 118.26C250.63 117.96 250.65 117.66 250.7 117.37C250.75 117.08 250.83 116.79 250.93 116.51C251.03 116.23 251.16 115.96 251.31 115.7C251.46 115.45 251.64 115.21 251.84 114.99C252.04 114.77 252.26 114.56 252.5 114.39C252.73 114.21 252.99 114.05 253.26 113.93C253.53 113.8 253.81 113.7 254.1 113.62Z"/>
<path d="M103.29 155.62C103.57 155.54 103.9 155.53 104.19 155.58C104.48 155.64 104.78 155.78 105.01 155.96C105.24 156.14 105.46 156.39 105.59 156.65C105.72 156.91 105.81 157.24 105.79 157.53C105.78 157.82 105.67 158.14 105.51 158.38C105.36 158.63 105.1 158.85 104.85 158.99C104.59 159.14 104.28 159.23 103.98 159.25C103.69 159.27 103.36 159.22 103.09 159.11C102.82 159 102.55 158.8 102.37 158.57C102.19 158.34 102.05 158.04 101.99 157.75C101.94 157.46 101.95 157.13 102.04 156.85C102.12 156.57 102.3 156.29 102.51 156.08C102.72 155.88 103.01 155.71 103.29 155.62Z"/>
<path d="M110.98 156.88C111.25 156.78 111.57 156.75 111.84 156.79C112.12 156.83 112.41 156.97 112.63 157.14C112.86 157.31 113.05 157.55 113.2 157.8C113.34 158.04 113.44 158.33 113.5 158.61C113.56 158.89 113.57 159.19 113.55 159.48C113.52 159.76 113.45 160.06 113.34 160.32C113.22 160.58 113.07 160.85 112.87 161.05C112.67 161.25 112.41 161.44 112.15 161.53C111.88 161.62 111.56 161.64 111.29 161.59C111.01 161.54 110.73 161.39 110.51 161.22C110.28 161.05 110.09 160.81 109.94 160.56C109.79 160.32 109.68 160.04 109.62 159.76C109.55 159.48 109.52 159.18 109.54 158.89C109.56 158.61 109.64 158.31 109.76 158.05C109.88 157.79 110.05 157.54 110.26 157.34C110.46 157.15 110.72 156.97 110.98 156.88Z"/>
<path d="M302.14 178.62C302.43 178.59 302.73 178.57 303.03 178.55C303.33 178.54 303.63 178.53 303.93 178.54C304.23 178.55 304.53 178.56 304.82 178.6C305.12 178.64 305.42 178.68 305.7 178.77C305.99 178.85 306.29 178.93 306.53 179.09C306.78 179.25 307.06 179.47 307.15 179.72C307.25 179.96 307.2 180.32 307.1 180.58C307 180.84 306.76 181.07 306.55 181.28C306.34 181.49 306.09 181.67 305.84 181.83C305.6 182 305.33 182.14 305.07 182.28C304.8 182.42 304.53 182.54 304.26 182.66C303.98 182.78 303.7 182.88 303.42 182.98C303.14 183.08 302.85 183.17 302.56 183.25C302.28 183.33 301.99 183.4 301.69 183.47C301.4 183.54 301.11 183.59 300.81 183.65C300.52 183.7 300.22 183.74 299.93 183.78C299.63 183.83 299.34 183.86 299.04 183.89C298.74 183.93 298.44 183.96 298.15 184.01C297.85 184.06 297.56 184.1 297.27 184.18C296.98 184.26 296.69 184.35 296.43 184.49C296.17 184.63 295.91 184.81 295.71 185.02C295.51 185.23 295.35 185.5 295.24 185.77C295.14 186.04 295.11 186.36 295.09 186.65C295.07 186.95 295.09 187.25 295.1 187.55C295.12 187.85 295.14 188.15 295.18 188.44C295.23 188.74 295.29 189.03 295.37 189.32C295.45 189.61 295.55 189.89 295.66 190.17C295.76 190.45 295.9 190.72 295.99 191C296.08 191.28 296.2 191.57 296.22 191.86C296.24 192.15 296.22 192.48 296.11 192.74C296.01 193 295.79 193.25 295.57 193.44C295.35 193.63 295.07 193.77 294.79 193.88C294.52 193.99 294.22 194.05 293.92 194.09C293.63 194.14 293.33 194.14 293.03 194.14C292.73 194.14 292.43 194.11 292.13 194.09C291.84 194.08 291.54 194.03 291.24 194.05C290.94 194.06 290.64 194.09 290.35 194.16C290.07 194.24 289.79 194.36 289.52 194.48C289.24 194.6 288.99 194.76 288.72 194.9C288.46 195.04 288.2 195.19 287.93 195.32C287.67 195.46 287.4 195.59 287.13 195.71C286.85 195.83 286.57 195.94 286.29 196.03C286 196.12 285.71 196.2 285.42 196.25C285.13 196.3 284.83 196.34 284.53 196.35C284.23 196.36 283.93 196.36 283.63 196.32C283.34 196.29 283.04 196.23 282.75 196.15C282.47 196.07 282.18 195.97 281.91 195.84C281.64 195.72 281.38 195.56 281.14 195.39C280.9 195.22 280.66 195.02 280.46 194.81C280.25 194.6 280.06 194.36 279.89 194.11C279.73 193.87 279.59 193.6 279.48 193.32C279.37 193.05 279.28 192.75 279.23 192.46C279.18 192.17 279.16 191.87 279.17 191.57C279.18 191.27 279.22 190.97 279.29 190.68C279.36 190.39 279.46 190.11 279.59 189.84C279.72 189.57 279.87 189.31 280.05 189.07C280.23 188.83 280.43 188.61 280.65 188.41C280.87 188.21 281.12 188.03 281.37 187.87C281.62 187.71 281.89 187.58 282.17 187.47C282.44 187.35 282.73 187.27 283.02 187.21C283.31 187.14 283.62 187.11 283.91 187.09C284.21 187.08 284.51 187.09 284.81 187.13C285.1 187.16 285.4 187.22 285.69 187.3C285.97 187.38 286.25 187.49 286.53 187.61C286.8 187.73 287.06 187.88 287.32 188.04C287.57 188.19 287.81 188.37 288.05 188.55C288.29 188.73 288.51 188.93 288.74 189.12C288.97 189.31 289.19 189.52 289.42 189.71C289.66 189.89 289.89 190.1 290.15 190.22C290.42 190.35 290.72 190.47 291 190.47C291.29 190.47 291.6 190.37 291.86 190.23C292.11 190.1 292.35 189.88 292.54 189.66C292.74 189.44 292.9 189.18 293.03 188.91C293.16 188.65 293.24 188.35 293.31 188.06C293.38 187.78 293.42 187.48 293.46 187.18C293.49 186.88 293.52 186.58 293.53 186.29C293.53 185.99 293.52 185.69 293.49 185.39C293.46 185.09 293.39 184.8 293.36 184.5C293.32 184.21 293.27 183.91 293.3 183.61C293.32 183.32 293.38 183.01 293.5 182.74C293.61 182.47 293.8 182.22 293.99 182C294.18 181.77 294.41 181.57 294.64 181.39C294.88 181.2 295.13 181.04 295.39 180.88C295.64 180.73 295.9 180.58 296.17 180.44C296.43 180.31 296.7 180.18 296.97 180.05C297.24 179.93 297.52 179.81 297.8 179.7C298.08 179.59 298.36 179.49 298.64 179.4C298.92 179.3 299.21 179.21 299.5 179.13C299.79 179.05 300.08 178.98 300.37 178.92C300.66 178.85 300.95 178.8 301.25 178.75C301.54 178.7 301.84 178.66 302.14 178.62Z"/>
<path d="M264.01 204.38C264.17 204.32 264.38 204.31 264.55 204.36C264.71 204.41 264.89 204.53 264.99 204.67C265.09 204.8 265.17 205 265.17 205.18C265.18 205.35 265.11 205.55 265.02 205.69C264.92 205.83 264.75 205.96 264.59 206.02C264.43 206.08 264.22 206.08 264.06 206.03C263.89 205.99 263.71 205.87 263.61 205.73C263.5 205.6 263.43 205.39 263.43 205.22C263.43 205.05 263.49 204.85 263.58 204.71C263.68 204.56 263.85 204.43 264.01 204.38Z"/>
<path d="M126.07 212.38C126.36 212.29 126.66 212.23 126.96 212.21C127.25 212.18 127.56 212.18 127.85 212.22C128.15 212.25 128.45 212.32 128.73 212.41C129.01 212.51 129.29 212.63 129.55 212.78C129.81 212.93 130.05 213.11 130.28 213.3C130.5 213.5 130.71 213.72 130.9 213.95C131.08 214.19 131.25 214.44 131.39 214.7C131.53 214.97 131.65 215.25 131.74 215.53C131.83 215.81 131.9 216.11 131.95 216.4C131.99 216.7 132.01 217 132.01 217.3C132 217.6 131.97 217.9 131.92 218.19C131.87 218.49 131.79 218.78 131.69 219.06C131.59 219.34 131.46 219.62 131.31 219.88C131.16 220.13 130.99 220.38 130.79 220.61C130.6 220.83 130.38 221.05 130.14 221.23C129.91 221.42 129.66 221.58 129.39 221.72C129.13 221.86 128.84 221.97 128.56 222.05C128.27 222.13 127.97 222.19 127.67 222.21C127.38 222.24 127.07 222.23 126.78 222.2C126.48 222.17 126.18 222.12 125.89 222.04C125.6 221.96 125.32 221.86 125.04 221.75C124.76 221.64 124.49 221.51 124.22 221.38C123.95 221.25 123.69 221.11 123.43 220.97C123.16 220.82 122.9 220.67 122.65 220.51C122.4 220.35 122.14 220.19 121.91 220.01C121.67 219.82 121.43 219.63 121.24 219.4C121.05 219.18 120.87 218.92 120.75 218.65C120.64 218.38 120.56 218.08 120.55 217.78C120.54 217.49 120.6 217.18 120.69 216.9C120.78 216.62 120.94 216.35 121.1 216.11C121.27 215.86 121.48 215.64 121.68 215.42C121.89 215.2 122.11 215 122.33 214.8C122.56 214.6 122.78 214.4 123.01 214.21C123.24 214.02 123.48 213.83 123.72 213.65C123.96 213.47 124.2 213.29 124.45 213.13C124.7 212.97 124.96 212.82 125.24 212.69C125.51 212.57 125.79 212.46 126.07 212.38Z"/>
<path d="M138.46 220.38C138.76 220.31 139.06 220.27 139.36 220.27C139.66 220.27 139.96 220.3 140.26 220.36C140.55 220.42 140.84 220.51 141.12 220.63C141.39 220.75 141.66 220.91 141.9 221.08C142.14 221.26 142.37 221.46 142.57 221.69C142.77 221.91 142.95 222.16 143.09 222.42C143.24 222.68 143.36 222.97 143.44 223.25C143.52 223.54 143.58 223.84 143.6 224.14C143.62 224.44 143.6 224.75 143.55 225.04C143.51 225.34 143.42 225.64 143.31 225.91C143.2 226.19 143.06 226.46 142.89 226.71C142.72 226.95 142.52 227.19 142.3 227.39C142.08 227.59 141.83 227.78 141.57 227.93C141.32 228.08 141.04 228.21 140.75 228.31C140.47 228.4 140.17 228.47 139.87 228.5C139.58 228.54 139.27 228.54 138.97 228.51C138.67 228.48 138.37 228.41 138.09 228.32C137.8 228.23 137.52 228.1 137.26 227.95C137.01 227.8 136.76 227.62 136.54 227.42C136.31 227.22 136.11 226.99 135.94 226.74C135.77 226.5 135.62 226.23 135.5 225.96C135.38 225.68 135.3 225.39 135.24 225.09C135.19 224.8 135.17 224.49 135.18 224.19C135.19 223.89 135.24 223.59 135.31 223.3C135.39 223.01 135.51 222.73 135.65 222.46C135.79 222.2 135.97 221.95 136.16 221.72C136.36 221.5 136.59 221.29 136.83 221.11C137.07 220.93 137.33 220.78 137.61 220.66C137.88 220.53 138.17 220.44 138.46 220.38Z"/>
<path d="M208.74 245.62C209.01 245.51 209.31 245.44 209.59 245.43C209.87 245.42 210.18 245.46 210.45 245.56C210.72 245.66 210.98 245.81 211.2 246C211.41 246.19 211.6 246.43 211.73 246.69C211.85 246.94 211.94 247.24 211.96 247.52C211.98 247.81 211.95 248.12 211.86 248.39C211.78 248.66 211.63 248.93 211.45 249.15C211.27 249.37 211.03 249.57 210.78 249.71C210.53 249.85 210.25 249.95 209.96 250C209.68 250.05 209.38 250.05 209.09 250.01C208.81 249.97 208.52 249.89 208.26 249.76C208.01 249.63 207.74 249.46 207.56 249.25C207.38 249.03 207.24 248.75 207.17 248.48C207.11 248.2 207.13 247.89 207.18 247.61C207.23 247.33 207.35 247.04 207.49 246.79C207.63 246.54 207.81 246.3 208.02 246.1C208.23 245.91 208.48 245.74 208.74 245.62Z"/>
<path d="M201.99 249.62C202.23 249.48 202.56 249.4 202.85 249.39C203.13 249.38 203.46 249.45 203.72 249.58C203.97 249.71 204.24 249.92 204.39 250.16C204.54 250.4 204.61 250.73 204.6 251.02C204.59 251.3 204.49 251.62 204.35 251.87C204.2 252.12 203.97 252.36 203.72 252.51C203.48 252.66 203.16 252.77 202.88 252.78C202.59 252.79 202.26 252.71 202.01 252.58C201.76 252.44 201.51 252.21 201.36 251.97C201.21 251.72 201.12 251.4 201.12 251.11C201.12 250.82 201.21 250.5 201.35 250.25C201.5 250 201.74 249.77 201.99 249.62Z"/>
<path d="M121.77 89.88C121.77 89.85 121.79 89.83 121.8 89.8C121.82 89.78 121.83 89.75 121.84 89.73C121.85 89.7 121.86 89.65 121.87 89.65C121.88 89.65 121.9 89.69 121.91 89.71C121.93 89.73 121.94 89.76 121.96 89.78C121.97 89.8 122 89.83 122 89.85C122 89.87 121.99 89.89 121.97 89.9C121.95 89.92 121.92 89.94 121.9 89.95C121.88 89.95 121.86 89.94 121.83 89.93C121.81 89.92 121.78 89.9 121.77 89.88Z"/>
<path d="M254.74 115.88C255.02 115.81 255.35 115.81 255.63 115.87C255.92 115.93 256.21 116.06 256.45 116.22C256.69 116.39 256.91 116.62 257.06 116.87C257.22 117.12 257.32 117.42 257.37 117.71C257.41 118 257.39 118.32 257.33 118.6C257.26 118.89 257.12 119.18 256.96 119.42C256.79 119.66 256.58 119.89 256.34 120.06C256.1 120.24 255.82 120.39 255.54 120.47C255.26 120.54 254.93 120.58 254.65 120.52C254.37 120.47 254.07 120.32 253.85 120.15C253.62 119.97 253.42 119.71 253.28 119.45C253.14 119.2 253.03 118.9 252.98 118.61C252.93 118.32 252.93 118.01 252.99 117.72C253.04 117.43 253.15 117.13 253.31 116.88C253.46 116.64 253.68 116.4 253.92 116.23C254.16 116.07 254.45 115.94 254.74 115.88Z"/>
<path d="M301.75 180.12C302.06 180.11 302.38 180.09 302.67 180.16C302.95 180.23 303.38 180.36 303.47 180.55C303.55 180.74 303.34 181.11 303.16 181.32C302.98 181.52 302.65 181.65 302.37 181.77C302.09 181.9 301.8 181.99 301.5 182.07C301.21 182.15 300.91 182.2 300.6 182.24C300.3 182.28 299.99 182.3 299.69 182.29C299.39 182.27 298.99 182.28 298.79 182.15C298.58 182.01 298.39 181.67 298.45 181.46C298.5 181.25 298.87 181.02 299.13 180.86C299.38 180.7 299.68 180.6 299.96 180.5C300.25 180.39 300.55 180.31 300.85 180.25C301.15 180.19 301.45 180.14 301.75 180.12Z"/>
<path d="M283.04 188.38C283.33 188.29 283.64 188.24 283.93 188.23C284.23 188.21 284.54 188.23 284.84 188.28C285.13 188.32 285.43 188.41 285.71 188.52C285.99 188.63 286.26 188.77 286.52 188.93C286.77 189.09 287.01 189.29 287.23 189.5C287.44 189.7 287.65 189.93 287.82 190.18C287.99 190.43 288.15 190.69 288.26 190.97C288.37 191.25 288.46 191.56 288.47 191.85C288.48 192.14 288.42 192.46 288.32 192.74C288.22 193.02 288.05 193.28 287.87 193.52C287.69 193.75 287.46 193.97 287.23 194.16C286.99 194.35 286.74 194.51 286.47 194.65C286.21 194.8 285.92 194.92 285.64 195.01C285.35 195.1 285.05 195.16 284.75 195.2C284.45 195.23 284.14 195.23 283.84 195.21C283.55 195.18 283.24 195.12 282.96 195.03C282.67 194.93 282.39 194.81 282.13 194.66C281.87 194.5 281.63 194.32 281.41 194.11C281.2 193.9 281.01 193.65 280.85 193.39C280.7 193.14 280.58 192.85 280.5 192.56C280.42 192.27 280.38 191.96 280.38 191.67C280.39 191.37 280.44 191.06 280.52 190.77C280.61 190.49 280.74 190.2 280.9 189.95C281.06 189.7 281.26 189.46 281.48 189.25C281.69 189.05 281.94 188.87 282.21 188.72C282.47 188.57 282.75 188.46 283.04 188.38Z"/>
<path d="M126.31 214.12C126.6 214.03 126.9 213.97 127.2 213.96C127.5 213.95 127.82 213.99 128.11 214.07C128.4 214.15 128.68 214.29 128.93 214.45C129.18 214.62 129.42 214.83 129.61 215.07C129.8 215.3 129.96 215.57 130.08 215.85C130.2 216.12 130.28 216.43 130.32 216.73C130.36 217.02 130.37 217.34 130.33 217.64C130.29 217.94 130.21 218.24 130.1 218.52C129.98 218.8 129.82 219.07 129.64 219.31C129.45 219.54 129.22 219.76 128.97 219.93C128.73 220.1 128.44 220.24 128.16 220.33C127.87 220.42 127.56 220.47 127.26 220.47C126.95 220.48 126.64 220.43 126.35 220.36C126.06 220.29 125.77 220.17 125.49 220.04C125.22 219.91 124.96 219.75 124.71 219.57C124.46 219.4 124.22 219.2 124.02 218.98C123.82 218.75 123.61 218.5 123.5 218.23C123.38 217.96 123.32 217.63 123.34 217.34C123.36 217.05 123.48 216.75 123.61 216.48C123.74 216.21 123.93 215.95 124.12 215.72C124.31 215.48 124.52 215.26 124.75 215.06C124.98 214.86 125.22 214.67 125.48 214.51C125.74 214.36 126.02 214.22 126.31 214.12Z"/>
<path d="M138.59 221.88C138.86 221.79 139.17 221.75 139.46 221.76C139.75 221.76 140.05 221.82 140.32 221.91C140.6 222.01 140.87 222.16 141.09 222.34C141.32 222.52 141.53 222.75 141.68 222.99C141.84 223.24 141.96 223.52 142.03 223.8C142.09 224.08 142.11 224.39 142.08 224.68C142.05 224.97 141.96 225.27 141.84 225.53C141.71 225.79 141.53 226.04 141.33 226.24C141.13 226.45 140.88 226.63 140.62 226.76C140.36 226.89 140.07 226.98 139.78 227.02C139.49 227.06 139.18 227.05 138.9 227C138.61 226.95 138.32 226.84 138.07 226.7C137.82 226.56 137.57 226.37 137.38 226.16C137.19 225.94 137.02 225.68 136.91 225.41C136.8 225.15 136.72 224.85 136.71 224.56C136.69 224.27 136.72 223.96 136.8 223.68C136.88 223.41 137.01 223.13 137.18 222.89C137.35 222.65 137.57 222.44 137.8 222.27C138.04 222.1 138.31 221.96 138.59 221.88Z"/>
<path d="M283.39 190.12C283.65 190.01 283.97 189.97 284.26 189.98C284.55 189.99 284.86 190.07 285.12 190.2C285.37 190.33 285.63 190.53 285.8 190.76C285.97 190.98 286.12 191.28 286.15 191.56C286.18 191.84 286.13 192.17 286.01 192.43C285.89 192.68 285.66 192.93 285.43 193.09C285.19 193.26 284.89 193.38 284.61 193.43C284.33 193.49 284.01 193.48 283.73 193.41C283.45 193.34 283.15 193.21 282.93 193.03C282.71 192.84 282.5 192.59 282.4 192.32C282.3 192.06 282.26 191.73 282.3 191.45C282.35 191.17 282.49 190.87 282.67 190.65C282.85 190.43 283.12 190.24 283.39 190.12Z"/>
<path d="M138.9 203.4C138.45 203.28 137.38 203.9 136.5 204.3C135.62 204.7 134.47 205.25 133.6 205.8C132.73 206.35 131.63 206.93 131.3 207.6C130.97 208.27 131.32 208.97 131.6 209.8C131.88 210.63 132.5 211.7 133 212.6C133.5 213.5 134.07 214.47 134.6 215.2C135.13 215.93 135.73 216.93 136.2 217C136.67 217.07 137.03 216.43 137.4 215.6C137.77 214.77 138.15 213.27 138.4 212C138.65 210.73 138.77 209.17 138.9 208C139.03 206.83 139.2 205.77 139.2 205C139.2 204.23 139.35 203.52 138.9 203.4Z" stroke-width="0.55"/>
<path d="M138.61 204.33C138.53 204.34 138.04 204.66 137.71 204.83C137.38 205 136.98 205.17 136.62 205.34C136.26 205.52 135.9 205.68 135.55 205.86C135.19 206.05 134.84 206.23 134.49 206.43C134.15 206.63 133.81 206.84 133.47 207.06C133.14 207.27 132.69 207.45 132.49 207.74C132.3 208.03 132.27 208.44 132.31 208.8C132.35 209.16 132.57 209.55 132.73 209.92C132.89 210.29 133.07 210.64 133.26 210.99C133.44 211.35 133.64 211.69 133.83 212.04C134.03 212.39 134.22 212.74 134.43 213.08C134.63 213.42 134.84 213.76 135.06 214.1C135.28 214.43 135.51 214.76 135.74 215.08C135.97 215.4 136.31 215.99 136.43 216.03C136.54 216.07 136.35 215.64 136.41 215.34C136.48 215.03 136.7 214.59 136.82 214.21C136.95 213.83 137.04 213.45 137.14 213.06C137.23 212.67 137.32 212.28 137.4 211.89C137.47 211.5 137.53 211.11 137.59 210.71C137.65 210.32 137.69 209.92 137.73 209.52C137.78 209.13 137.82 208.73 137.86 208.33C137.9 207.94 137.95 207.54 138 207.14C138.04 206.75 138.1 206.35 138.13 205.96C138.17 205.56 138.13 205.03 138.21 204.76C138.28 204.49 138.69 204.31 138.61 204.33Z" stroke-width="0.55"/>
<path d="M137.3 208.9C137.3 209.35 137.16 209.89 136.96 210.25C136.75 210.62 136.39 210.95 136.06 211.09C135.72 211.23 135.28 211.23 134.94 211.09C134.61 210.95 134.25 210.62 134.04 210.25C133.84 209.89 133.7 209.35 133.7 208.9C133.7 208.45 133.84 207.91 134.04 207.55C134.25 207.18 134.61 206.85 134.94 206.71C135.28 206.57 135.72 206.57 136.06 206.71C136.39 206.85 136.75 207.18 136.96 207.55C137.16 207.91 137.3 208.45 137.3 208.9Z"/>
<path d="M228.1 82.3C228.17 81.33 228.8 80.42 229.3 79.8C229.8 79.18 230.12 78.85 231.1 78.6C232.08 78.35 233.9 78.12 235.2 78.3C236.5 78.48 237.73 79.25 238.9 79.7C240.07 80.15 241.27 81.02 242.2 81C243.13 80.98 243.75 79.98 244.5 79.6C245.25 79.22 246.02 78.72 246.7 78.7C247.38 78.68 248.15 79.03 248.6 79.5C249.05 79.97 249.22 80.48 249.4 81.5C249.58 82.52 249.67 84.27 249.7 85.6C249.73 86.93 249.57 88.4 249.6 89.5C249.63 90.6 249.75 90.98 249.9 92.2C250.05 93.42 250.67 95.12 250.5 96.8C250.33 98.48 249.7 100.7 248.9 102.3C248.1 103.9 246.77 105.52 245.7 106.4C244.63 107.28 243.5 107.68 242.5 107.6C241.5 107.52 240.62 106.75 239.7 105.9C238.78 105.05 237.92 103.52 237 102.5C236.08 101.48 234.95 100.67 234.2 99.8C233.45 98.93 232.75 98.18 232.5 97.3C232.25 96.42 232.72 95.47 232.7 94.5C232.68 93.53 232.73 92.48 232.4 91.5C232.07 90.52 231.28 89.58 230.7 88.6C230.12 87.62 229.33 86.65 228.9 85.6C228.47 84.55 228.03 83.27 228.1 82.3Z"/>
<path d="M229.31 82.4C229.35 82.02 229.53 81.63 229.72 81.29C229.91 80.94 230.14 80.58 230.43 80.32C230.72 80.07 231.09 79.89 231.46 79.76C231.83 79.63 232.24 79.6 232.64 79.55C233.03 79.5 233.43 79.46 233.83 79.45C234.23 79.45 234.64 79.45 235.03 79.51C235.42 79.57 235.8 79.7 236.18 79.83C236.56 79.96 236.91 80.14 237.28 80.3C237.65 80.46 238.01 80.62 238.38 80.78C238.74 80.95 239.1 81.12 239.47 81.28C239.83 81.45 240.18 81.65 240.55 81.79C240.93 81.92 241.32 82.07 241.7 82.11C242.09 82.15 242.52 82.13 242.89 82.03C243.27 81.93 243.63 81.71 243.96 81.5C244.3 81.3 244.58 80.99 244.91 80.77C245.24 80.55 245.59 80.33 245.96 80.19C246.32 80.06 246.76 79.88 247.1 79.97C247.43 80.06 247.78 80.4 247.97 80.72C248.16 81.04 248.17 81.49 248.24 81.89C248.31 82.28 248.34 82.68 248.37 83.08C248.41 83.47 248.43 83.87 248.45 84.27C248.47 84.67 248.49 85.07 248.49 85.47C248.5 85.87 248.5 86.27 248.49 86.67C248.48 87.07 248.45 87.47 248.44 87.87C248.42 88.26 248.4 88.66 248.4 89.06C248.4 89.46 248.41 89.86 248.45 90.26C248.48 90.66 248.53 91.05 248.59 91.45C248.64 91.85 248.7 92.24 248.76 92.64C248.83 93.03 248.91 93.42 248.99 93.81C249.06 94.21 249.15 94.6 249.2 94.99C249.26 95.39 249.3 95.79 249.3 96.18C249.3 96.58 249.25 96.98 249.2 97.38C249.14 97.77 249.05 98.16 248.96 98.55C248.86 98.94 248.75 99.32 248.63 99.7C248.51 100.08 248.37 100.46 248.22 100.83C248.07 101.2 247.91 101.56 247.72 101.92C247.54 102.27 247.33 102.61 247.11 102.95C246.89 103.28 246.66 103.6 246.41 103.92C246.16 104.23 245.9 104.53 245.62 104.82C245.34 105.1 245.05 105.38 244.73 105.62C244.4 105.85 244.06 106.08 243.69 106.21C243.32 106.33 242.89 106.44 242.52 106.37C242.15 106.31 241.79 106.05 241.46 105.83C241.14 105.61 240.84 105.32 240.56 105.04C240.27 104.76 240.02 104.45 239.77 104.14C239.52 103.83 239.29 103.5 239.05 103.18C238.81 102.87 238.58 102.54 238.32 102.23C238.07 101.92 237.81 101.62 237.53 101.33C237.26 101.04 236.96 100.77 236.67 100.5C236.38 100.23 236.07 99.97 235.79 99.69C235.5 99.41 235.22 99.13 234.95 98.83C234.69 98.53 234.4 98.24 234.19 97.91C233.97 97.58 233.72 97.23 233.65 96.85C233.58 96.48 233.74 96.06 233.78 95.66C233.82 95.27 233.87 94.87 233.89 94.47C233.91 94.07 233.9 93.67 233.88 93.27C233.85 92.88 233.83 92.47 233.76 92.08C233.69 91.69 233.58 91.3 233.44 90.93C233.3 90.56 233.11 90.2 232.92 89.85C232.73 89.5 232.5 89.18 232.28 88.84C232.07 88.5 231.85 88.17 231.63 87.83C231.42 87.49 231.2 87.16 230.98 86.82C230.77 86.49 230.54 86.16 230.35 85.81C230.16 85.46 229.99 85.09 229.85 84.72C229.7 84.35 229.56 83.97 229.48 83.58C229.39 83.2 229.27 82.78 229.31 82.4Z"/>
<path d="M243.57 88.38C243.46 89.19 243.12 90.13 242.72 90.75C242.32 91.36 241.7 91.89 241.17 92.07C240.64 92.25 239.98 92.16 239.52 91.84C239.06 91.52 238.61 90.84 238.39 90.14C238.18 89.44 238.11 88.44 238.23 87.62C238.34 86.81 238.68 85.87 239.08 85.25C239.48 84.64 240.1 84.11 240.63 83.93C241.16 83.75 241.82 83.84 242.28 84.16C242.74 84.48 243.19 85.16 243.41 85.86C243.62 86.56 243.69 87.56 243.57 88.38Z"/>
<path d="M238.71 84.53C238.94 85.6 238.9 86.94 238.61 87.91C238.32 88.88 237.67 89.85 236.98 90.34C236.28 90.83 235.27 91.05 234.44 90.88C233.6 90.71 232.62 90.09 231.96 89.33C231.3 88.56 230.72 87.35 230.49 86.27C230.26 85.2 230.3 83.86 230.59 82.89C230.88 81.92 231.53 80.95 232.22 80.46C232.92 79.97 233.93 79.75 234.76 79.92C235.6 80.09 236.58 80.71 237.24 81.47C237.9 82.24 238.48 83.45 238.71 84.53Z"/>
<path d="M249.59 85.14C249.5 86.15 249.19 87.34 248.81 88.14C248.43 88.93 247.83 89.63 247.3 89.9C246.77 90.17 246.11 90.11 245.64 89.75C245.16 89.4 244.7 88.6 244.46 87.75C244.22 86.91 244.12 85.68 244.21 84.66C244.3 83.65 244.61 82.46 244.99 81.66C245.37 80.87 245.97 80.17 246.5 79.9C247.03 79.63 247.69 79.69 248.16 80.05C248.64 80.4 249.1 81.2 249.34 82.05C249.58 82.89 249.68 84.12 249.59 85.14Z"/>
<path d="M247.23 93.96C247.82 94.27 248.32 95.02 248.49 95.84C248.66 96.66 248.58 97.87 248.27 98.89C247.96 99.91 247.31 101.12 246.64 101.95C245.97 102.77 245.02 103.52 244.24 103.84C243.46 104.15 242.56 104.16 241.97 103.84C241.38 103.53 240.88 102.78 240.71 101.96C240.54 101.14 240.62 99.93 240.93 98.91C241.24 97.89 241.89 96.68 242.56 95.85C243.23 95.03 244.18 94.28 244.96 93.96C245.74 93.65 246.64 93.64 247.23 93.96Z"/>
<path d="M248.88 60.38C249.15 60.28 249.46 60.24 249.75 60.22C250.04 60.21 250.35 60.23 250.64 60.28C250.93 60.33 251.22 60.41 251.5 60.51C251.77 60.6 252.05 60.73 252.31 60.87C252.57 61 252.82 61.17 253.06 61.34C253.29 61.52 253.52 61.71 253.73 61.92C253.94 62.13 254.13 62.36 254.31 62.6C254.48 62.84 254.64 63.09 254.76 63.36C254.88 63.62 254.99 63.91 255.05 64.2C255.11 64.48 255.14 64.79 255.11 65.08C255.08 65.37 255 65.67 254.86 65.93C254.73 66.18 254.53 66.43 254.3 66.61C254.08 66.79 253.8 66.93 253.52 67.02C253.24 67.12 252.94 67.16 252.65 67.18C252.36 67.19 252.05 67.17 251.76 67.12C251.47 67.07 251.18 66.99 250.9 66.89C250.63 66.8 250.35 66.67 250.09 66.53C249.83 66.39 249.58 66.23 249.34 66.06C249.11 65.88 248.88 65.69 248.67 65.48C248.46 65.27 248.27 65.04 248.09 64.8C247.92 64.56 247.76 64.31 247.64 64.04C247.52 63.77 247.41 63.49 247.35 63.2C247.29 62.92 247.26 62.61 247.29 62.32C247.32 62.03 247.4 61.73 247.54 61.47C247.67 61.22 247.88 60.97 248.1 60.79C248.32 60.61 248.6 60.47 248.88 60.38Z" stroke-width="0.9"/>
<path d="M212.11 71.62C212.38 71.58 212.7 71.61 212.96 71.7C213.23 71.78 213.5 71.95 213.69 72.15C213.89 72.35 214.05 72.63 214.13 72.9C214.2 73.16 214.22 73.48 214.16 73.76C214.1 74.03 213.97 74.31 213.79 74.53C213.62 74.75 213.36 74.94 213.11 75.05C212.85 75.16 212.54 75.21 212.26 75.19C211.98 75.17 211.68 75.07 211.44 74.92C211.21 74.77 210.99 74.54 210.85 74.3C210.71 74.06 210.62 73.75 210.61 73.48C210.59 73.2 210.65 72.88 210.77 72.63C210.89 72.38 211.1 72.14 211.32 71.97C211.54 71.8 211.83 71.67 212.11 71.62Z" stroke-width="0.9"/>
<path d="M260.52 83.62C260.79 83.53 261.1 83.47 261.38 83.5C261.65 83.52 261.97 83.6 262.2 83.76C262.42 83.91 262.64 84.17 262.73 84.42C262.82 84.68 262.81 85.01 262.75 85.28C262.68 85.55 262.52 85.82 262.34 86.04C262.17 86.26 261.92 86.46 261.68 86.6C261.43 86.74 261.14 86.84 260.86 86.88C260.58 86.92 260.26 86.91 260 86.83C259.73 86.74 259.45 86.57 259.28 86.36C259.11 86.14 259.01 85.82 259 85.55C258.99 85.28 259.08 84.97 259.21 84.72C259.34 84.47 259.55 84.23 259.77 84.05C259.98 83.87 260.25 83.72 260.52 83.62Z" stroke-width="0.9"/>
<path d="M167.21 86.62C167.47 86.51 167.77 86.44 168.05 86.41C168.34 86.39 168.65 86.41 168.93 86.47C169.21 86.54 169.49 86.65 169.74 86.8C169.99 86.95 170.22 87.14 170.41 87.36C170.6 87.58 170.76 87.84 170.88 88.1C170.99 88.37 171.06 88.67 171.09 88.95C171.11 89.24 171.09 89.55 171.03 89.83C170.96 90.11 170.85 90.39 170.7 90.64C170.55 90.89 170.35 91.12 170.14 91.31C169.92 91.5 169.66 91.66 169.4 91.78C169.13 91.89 168.83 91.96 168.55 91.99C168.26 92.01 167.95 91.99 167.67 91.93C167.39 91.86 167.11 91.75 166.86 91.6C166.61 91.45 166.38 91.25 166.19 91.04C166 90.82 165.84 90.56 165.73 90.29C165.61 90.03 165.54 89.73 165.51 89.45C165.49 89.16 165.51 88.85 165.57 88.57C165.64 88.29 165.75 88.01 165.9 87.76C166.05 87.51 166.25 87.28 166.46 87.09C166.68 86.9 166.94 86.74 167.21 86.62Z" stroke-width="0.9"/>
<path d="M222.51 87.12C222.81 87.09 223.12 87.09 223.41 87.14C223.7 87.19 224 87.28 224.27 87.4C224.54 87.52 224.8 87.69 225.03 87.88C225.26 88.07 225.46 88.3 225.63 88.55C225.8 88.8 225.94 89.07 226.03 89.35C226.12 89.64 226.18 89.94 226.2 90.24C226.21 90.53 226.18 90.84 226.12 91.13C226.05 91.42 225.94 91.71 225.8 91.97C225.66 92.23 225.47 92.48 225.27 92.7C225.06 92.91 224.82 93.1 224.56 93.25C224.3 93.4 224.02 93.52 223.73 93.59C223.44 93.67 223.13 93.71 222.84 93.7C222.54 93.69 222.23 93.64 221.95 93.56C221.67 93.47 221.38 93.35 221.13 93.19C220.88 93.03 220.64 92.83 220.45 92.61C220.25 92.38 220.07 92.13 219.94 91.86C219.81 91.6 219.71 91.3 219.66 91.01C219.6 90.72 219.59 90.41 219.61 90.11C219.64 89.82 219.71 89.51 219.81 89.24C219.92 88.96 220.07 88.69 220.24 88.45C220.42 88.21 220.63 87.98 220.87 87.8C221.1 87.62 221.37 87.46 221.64 87.35C221.92 87.24 222.22 87.16 222.51 87.12Z" stroke-width="0.9"/>
<path d="M146.98 89.62C147.26 89.53 147.56 89.46 147.85 89.42C148.15 89.39 148.46 89.39 148.75 89.43C149.04 89.46 149.34 89.53 149.62 89.63C149.9 89.72 150.18 89.86 150.43 90.01C150.68 90.17 150.92 90.36 151.13 90.57C151.34 90.78 151.53 91.02 151.69 91.27C151.85 91.53 151.98 91.8 152.08 92.08C152.17 92.36 152.24 92.66 152.28 92.95C152.31 93.25 152.31 93.56 152.28 93.85C152.24 94.14 152.17 94.44 152.07 94.72C151.98 95 151.84 95.28 151.68 95.53C151.53 95.78 151.34 96.02 151.13 96.23C150.92 96.44 150.68 96.63 150.43 96.79C150.17 96.95 149.9 97.08 149.62 97.18C149.34 97.28 149.04 97.34 148.75 97.37C148.45 97.41 148.15 97.41 147.85 97.37C147.56 97.34 147.26 97.27 146.98 97.17C146.7 97.08 146.42 96.94 146.17 96.79C145.92 96.63 145.68 96.43 145.47 96.22C145.26 96.01 145.07 95.78 144.91 95.53C144.75 95.27 144.62 95 144.52 94.72C144.43 94.44 144.36 94.14 144.32 93.85C144.29 93.55 144.29 93.24 144.33 92.95C144.36 92.66 144.43 92.36 144.52 92.08C144.62 91.8 144.76 91.52 144.92 91.27C145.07 91.02 145.26 90.78 145.47 90.57C145.68 90.36 145.92 90.17 146.17 90.01C146.43 89.85 146.7 89.72 146.98 89.62Z" stroke-width="0.9"/>
<path d="M148.64 117.88C148.92 117.76 149.24 117.7 149.54 117.7C149.84 117.71 150.16 117.78 150.43 117.91C150.7 118.04 150.96 118.24 151.16 118.46C151.35 118.69 151.51 118.97 151.6 119.26C151.69 119.54 151.72 119.87 151.68 120.17C151.64 120.46 151.54 120.78 151.38 121.03C151.23 121.29 151 121.53 150.76 121.7C150.51 121.87 150.21 122 149.92 122.06C149.63 122.11 149.29 122.11 149 122.04C148.71 121.97 148.41 121.83 148.18 121.65C147.94 121.47 147.72 121.22 147.58 120.96C147.43 120.7 147.34 120.39 147.31 120.09C147.28 119.79 147.33 119.47 147.42 119.18C147.52 118.9 147.69 118.62 147.89 118.4C148.1 118.18 148.37 117.99 148.64 117.88Z" stroke-width="0.9"/>
<path d="M134.08 122.12C134.38 122.08 134.71 122.11 134.99 122.19C135.28 122.27 135.57 122.42 135.8 122.61C136.03 122.8 136.24 123.06 136.37 123.33C136.5 123.59 136.58 123.91 136.59 124.21C136.61 124.51 136.55 124.84 136.44 125.11C136.33 125.39 136.15 125.67 135.94 125.87C135.72 126.08 135.44 126.26 135.16 126.36C134.88 126.46 134.56 126.51 134.26 126.49C133.96 126.47 133.64 126.39 133.38 126.25C133.11 126.11 132.86 125.9 132.68 125.66C132.49 125.43 132.34 125.13 132.27 124.84C132.2 124.55 132.18 124.22 132.23 123.93C132.28 123.64 132.41 123.33 132.57 123.08C132.74 122.83 132.98 122.6 133.23 122.44C133.48 122.29 133.79 122.17 134.08 122.12Z" stroke-width="0.9"/>
<path d="M294.88 126.88C295.16 126.76 295.48 126.71 295.78 126.7C296.08 126.7 296.41 126.76 296.69 126.87C296.97 126.97 297.25 127.14 297.47 127.34C297.69 127.55 297.89 127.8 298.03 128.07C298.16 128.34 298.25 128.65 298.28 128.95C298.31 129.25 298.29 129.58 298.21 129.87C298.13 130.16 297.98 130.45 297.8 130.69C297.62 130.93 297.38 131.16 297.13 131.32C296.87 131.48 296.57 131.59 296.27 131.65C295.98 131.71 295.65 131.71 295.36 131.66C295.06 131.61 294.76 131.49 294.5 131.33C294.24 131.17 294 130.96 293.82 130.72C293.63 130.48 293.49 130.19 293.4 129.9C293.32 129.61 293.29 129.29 293.31 128.99C293.34 128.69 293.42 128.37 293.56 128.1C293.69 127.83 293.88 127.57 294.1 127.36C294.33 127.16 294.6 126.99 294.88 126.88Z" stroke-width="0.9"/>
<path d="M173.73 130.38C173.97 130.24 174.31 130.18 174.58 130.22C174.85 130.25 175.16 130.4 175.36 130.58C175.56 130.77 175.72 131.07 175.77 131.34C175.82 131.61 175.78 131.95 175.66 132.2C175.54 132.44 175.31 132.69 175.07 132.82C174.83 132.95 174.49 133.02 174.22 132.98C173.95 132.95 173.64 132.8 173.44 132.62C173.24 132.43 173.08 132.13 173.03 131.86C172.98 131.59 173.02 131.25 173.14 131C173.26 130.76 173.49 130.51 173.73 130.38Z" stroke-width="0.9"/>
<path d="M242.2 158.12C242.47 158.08 242.82 158.17 243.06 158.32C243.3 158.46 243.5 158.74 243.65 159C243.79 159.26 243.88 159.57 243.92 159.87C243.96 160.16 243.96 160.48 243.91 160.78C243.86 161.07 243.78 161.38 243.63 161.64C243.48 161.89 243.27 162.17 243.02 162.31C242.78 162.44 242.42 162.52 242.15 162.47C241.88 162.41 241.6 162.19 241.4 161.98C241.21 161.76 241.07 161.46 240.98 161.18C240.89 160.89 240.85 160.58 240.85 160.28C240.85 159.98 240.9 159.66 240.99 159.38C241.09 159.1 241.23 158.8 241.43 158.59C241.63 158.38 241.92 158.17 242.2 158.12Z" stroke-width="0.9"/>
<path d="M148.58 158.62C148.84 158.49 149.15 158.41 149.44 158.4C149.73 158.4 150.05 158.46 150.31 158.58C150.58 158.7 150.84 158.89 151.03 159.11C151.21 159.33 151.36 159.62 151.43 159.9C151.51 160.18 151.51 160.51 151.46 160.79C151.4 161.07 151.27 161.37 151.1 161.6C150.92 161.83 150.67 162.04 150.42 162.17C150.16 162.31 149.85 162.39 149.56 162.4C149.27 162.4 148.95 162.34 148.69 162.22C148.42 162.1 148.16 161.91 147.98 161.69C147.79 161.47 147.64 161.18 147.57 160.9C147.49 160.62 147.49 160.29 147.54 160.01C147.6 159.73 147.73 159.43 147.9 159.2C148.08 158.97 148.33 158.76 148.58 158.62Z" stroke-width="0.9"/>
<path d="M286.08 200.62C286.37 200.59 286.68 200.59 286.97 200.63C287.27 200.67 287.56 200.74 287.84 200.85C288.11 200.96 288.38 201.1 288.63 201.27C288.87 201.44 289.09 201.64 289.29 201.87C289.48 202.09 289.66 202.34 289.79 202.61C289.93 202.87 290.03 203.16 290.1 203.44C290.17 203.73 290.2 204.03 290.2 204.33C290.2 204.62 290.16 204.93 290.08 205.21C290.01 205.5 289.9 205.79 289.76 206.05C289.62 206.31 289.44 206.55 289.25 206.77C289.05 206.99 288.82 207.2 288.58 207.36C288.33 207.53 288.06 207.67 287.78 207.77C287.51 207.87 287.21 207.95 286.92 207.98C286.62 208.01 286.32 208.01 286.02 207.97C285.73 207.93 285.43 207.86 285.16 207.75C284.88 207.64 284.61 207.5 284.37 207.33C284.13 207.16 283.9 206.95 283.71 206.73C283.52 206.51 283.34 206.25 283.21 205.99C283.07 205.73 282.96 205.44 282.89 205.16C282.82 204.87 282.79 204.57 282.79 204.27C282.79 203.98 282.83 203.67 282.91 203.39C282.98 203.1 283.09 202.82 283.23 202.56C283.37 202.3 283.55 202.05 283.75 201.83C283.95 201.61 284.18 201.41 284.42 201.24C284.66 201.07 284.94 200.93 285.21 200.83C285.49 200.73 285.79 200.66 286.08 200.62Z" stroke-width="0.9"/>
<path d="M274.91 203.12C275.18 203.03 275.5 202.99 275.79 203.01C276.08 203.04 276.39 203.14 276.64 203.29C276.88 203.44 277.12 203.67 277.27 203.91C277.43 204.15 277.55 204.46 277.58 204.74C277.62 205.03 277.59 205.35 277.5 205.63C277.41 205.9 277.24 206.18 277.04 206.39C276.84 206.59 276.56 206.77 276.29 206.87C276.02 206.97 275.7 207.02 275.41 206.99C275.12 206.96 274.82 206.86 274.57 206.71C274.32 206.56 274.09 206.33 273.93 206.09C273.77 205.85 273.66 205.54 273.62 205.26C273.58 204.97 273.61 204.65 273.7 204.37C273.79 204.1 273.96 203.82 274.16 203.61C274.36 203.4 274.64 203.22 274.91 203.12Z" stroke-width="0.9"/>
<path d="M168.12 88.38C168.28 88.34 168.49 88.37 168.64 88.43C168.78 88.5 168.93 88.64 169.01 88.78C169.1 88.92 169.15 89.12 169.13 89.28C169.12 89.44 169.03 89.63 168.92 89.75C168.81 89.87 168.64 89.97 168.48 90.01C168.32 90.04 168.12 90.02 167.97 89.96C167.82 89.89 167.66 89.76 167.58 89.62C167.49 89.48 167.45 89.28 167.47 89.12C167.49 88.95 167.57 88.77 167.68 88.64C167.79 88.52 167.96 88.41 168.12 88.38Z" stroke-width="0.9"/>
<path d="M222.48 88.88C222.76 88.8 223.1 88.8 223.38 88.89C223.65 88.97 223.94 89.17 224.12 89.39C224.3 89.61 224.43 89.92 224.47 90.21C224.5 90.49 224.45 90.83 224.32 91.08C224.2 91.34 223.97 91.59 223.73 91.74C223.48 91.89 223.15 91.99 222.87 91.98C222.58 91.98 222.26 91.87 222.02 91.71C221.79 91.55 221.57 91.29 221.45 91.03C221.34 90.77 221.29 90.42 221.34 90.14C221.38 89.86 221.54 89.55 221.73 89.34C221.92 89.13 222.21 88.95 222.48 88.88Z" stroke-width="0.9"/>
<path d="M147.21 90.88C147.48 90.76 147.79 90.68 148.09 90.66C148.38 90.63 148.7 90.66 148.99 90.74C149.28 90.81 149.57 90.94 149.82 91.1C150.06 91.27 150.3 91.49 150.48 91.72C150.66 91.96 150.81 92.24 150.91 92.52C151 92.8 151.05 93.12 151.05 93.41C151.05 93.71 151 94.03 150.9 94.31C150.8 94.59 150.65 94.87 150.46 95.1C150.28 95.33 150.04 95.55 149.79 95.71C149.54 95.87 149.25 96 148.96 96.07C148.67 96.14 148.36 96.17 148.06 96.14C147.76 96.11 147.45 96.03 147.18 95.91C146.91 95.79 146.64 95.62 146.43 95.41C146.21 95.21 146.01 94.96 145.87 94.7C145.73 94.43 145.63 94.13 145.58 93.84C145.54 93.54 145.54 93.23 145.59 92.93C145.64 92.64 145.74 92.34 145.89 92.08C146.03 91.82 146.23 91.57 146.45 91.37C146.67 91.17 146.93 90.99 147.21 90.88Z" stroke-width="0.9"/>
<path d="M285.73 201.88C286.01 201.79 286.32 201.74 286.61 201.76C286.9 201.77 287.2 201.84 287.47 201.95C287.74 202.06 288 202.23 288.22 202.42C288.43 202.62 288.62 202.86 288.76 203.12C288.89 203.38 288.98 203.68 289.02 203.96C289.06 204.25 289.05 204.56 288.99 204.85C288.92 205.13 288.8 205.42 288.65 205.66C288.49 205.91 288.28 206.14 288.05 206.32C287.82 206.49 287.54 206.64 287.27 206.72C286.99 206.81 286.68 206.86 286.39 206.84C286.1 206.83 285.8 206.76 285.53 206.65C285.26 206.54 285 206.37 284.78 206.18C284.57 205.98 284.38 205.73 284.25 205.48C284.11 205.22 284.01 204.92 283.97 204.64C283.94 204.35 283.95 204.04 284.01 203.75C284.08 203.47 284.2 203.18 284.35 202.94C284.51 202.69 284.72 202.46 284.95 202.29C285.18 202.11 285.46 201.96 285.73 201.88Z" stroke-width="0.9"/>
</g>
<g fill="#f00">
<circle cx="252.9" cy="24.3" r="0.95"/>
<circle cx="149.1" cy="180.7" r="1.15" fill-opacity="0.85"/>
<circle cx="236.4" cy="144.9" r="0.95"/>
<circle cx="124" cy="158.8" r="1.15" fill-opacity="0.9"/>
<circle cx="108.4" cy="182.5" r="0.75"/>
</g>
<g fill="#00f">
<ellipse cx="90.5" cy="148.8" rx="0.6" ry="0.9"/>
<circle cx="101.6" cy="308.6" r="0.55"/>
</g>
<g fill="none" stroke="#666" stroke-width="1.25">
<rect x="28.2" y="0.3" width="321.2" height="322.4"/>
<path d="M27.599999999999998 0.45H350" stroke="#111" stroke-width="1.1"/>
<g stroke="#222" stroke-width="0.75">
<path d="M52.3 322.7V314.7M52.3 0.3V8.3"/>
<path d="M95.7 322.7V314.7M95.7 0.3V8.3"/>
<path d="M139.0 322.7V314.7M139.0 0.3V8.3"/>
<path d="M182.3 322.7V314.7M182.3 0.3V8.3"/>
<path d="M225.7 322.7V314.7M225.7 0.3V8.3"/>
<path d="M269.1 322.7V314.7M269.1 0.3V8.3"/>
<path d="M312.4 322.7V314.7M312.4 0.3V8.3"/>
<path d="M28.2 7.0H36.2M349.4 7.0H341.4"/>
<path d="M28.2 50.5H36.2M349.4 50.5H341.4"/>
<path d="M28.2 93.9H36.2M349.4 93.9H341.4"/>
<path d="M28.2 137.4H36.2M349.4 137.4H341.4"/>
<path d="M28.2 180.8H36.2M349.4 180.8H341.4"/>
<path d="M28.2 224.2H36.2M349.4 224.2H341.4"/>
<path d="M28.2 267.7H36.2M349.4 267.7H341.4"/>
<path d="M28.2 311.1H36.2M349.4 311.1H341.4"/>
</g>
<rect x="29.4" y="311.4" width="10.3" height="9.9" stroke="#333" stroke-width="0.8"/>
<ellipse cx="34.3" cy="316.3" rx="2.4" ry="2.6" stroke="#222" stroke-width="0.8"/>
</g>
<g class="tk">
<text transform="translate(50.6 332.9) scale(0.96 1)" text-anchor="middle">10</text>
<text transform="translate(95.9 332.9) scale(0.96 1)" text-anchor="middle">5</text>
<text transform="translate(139.3 332.9) scale(0.96 1)" text-anchor="middle">0</text>
<text transform="translate(181.1 332.9) scale(0.96 1)" text-anchor="middle">-5</text>
<text transform="translate(222.7 332.9) scale(0.96 1)" text-anchor="middle">-10</text>
<text transform="translate(266.1 332.9) scale(0.96 1)" text-anchor="middle">-15</text>
<text transform="translate(309.5 332.9) scale(0.96 1)" text-anchor="middle">-20</text>
<text transform="translate(24.4 10.9) scale(0.96 1)" text-anchor="end">25</text>
<text transform="translate(24.4 54.4) scale(0.96 1)" text-anchor="end">20</text>
<text transform="translate(24.4 97.8) scale(0.96 1)" text-anchor="end">15</text>
<text transform="translate(24.4 141.3) scale(0.96 1)" text-anchor="end">10</text>
<text transform="translate(24.4 184.7) scale(0.96 1)" text-anchor="end">5</text>
<text transform="translate(24.4 228.2) scale(0.96 1)" text-anchor="end">0</text>
<text transform="translate(24.4 271.6) scale(0.96 1)" text-anchor="end">-5</text>
<text transform="translate(24.4 315.0) scale(0.96 1)" text-anchor="end">-10</text>
</g>
<text class="ax" x="185.2" y="347.3" text-anchor="middle">R.A. offset (mas)</text>
<text class="ax" transform="translate(10.1 160.5) rotate(-90)" text-anchor="middle">Dec. offset (mas)</text>
<text class="lg" x="266.0" y="24.7" fill="#00f" stroke="#00f">v=1 J=1<tspan class="ar" x="312.2" dy="1.3">→</tspan><tspan x="327.4" dy="-1.3">0</tspan></text>
<text class="lg" x="266.0" y="42.2" fill="#f00" stroke="#f00">v=2 J=1<tspan class="ar" x="312.2" dy="1.3">→</tspan><tspan x="327.4" dy="-1.3">0</tspan></text>
</svg>
</body></html>
